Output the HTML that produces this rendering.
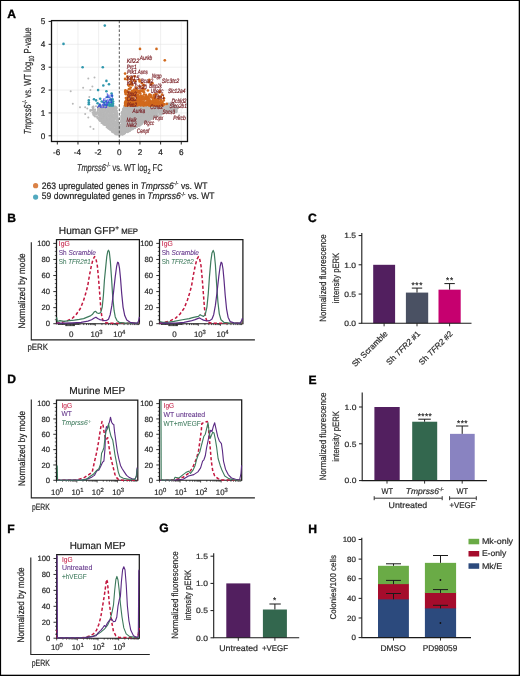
<!DOCTYPE html><html><head><meta charset="utf-8"><style>html,body{margin:0;padding:0;background:#fff;overflow:hidden;}svg{display:block;font-family:"Liberation Sans", sans-serif;will-change:transform;text-rendering:geometricPrecision;}</style></head><body><svg width="520" height="676" viewBox="0 0 520 676" font-family='"Liberation Sans", sans-serif'>
<rect x="0" y="0" width="520" height="676" fill="#fff"/>
<text x="7.20" y="17.60" font-size="12.1" font-weight="bold" fill="#000" stroke="#000" stroke-width="0.35">A</text>
<line x1="57.32" y1="20.60" x2="57.32" y2="141.50" stroke="#e4e4e4" stroke-width="0.6" />
<line x1="77.98" y1="20.60" x2="77.98" y2="141.50" stroke="#e4e4e4" stroke-width="0.6" />
<line x1="98.64" y1="20.60" x2="98.64" y2="141.50" stroke="#e4e4e4" stroke-width="0.6" />
<line x1="139.96" y1="20.60" x2="139.96" y2="141.50" stroke="#e4e4e4" stroke-width="0.6" />
<line x1="160.62" y1="20.60" x2="160.62" y2="141.50" stroke="#e4e4e4" stroke-width="0.6" />
<line x1="181.28" y1="20.60" x2="181.28" y2="141.50" stroke="#e4e4e4" stroke-width="0.6" />
<line x1="51.50" y1="135.80" x2="187.50" y2="135.80" stroke="#e4e4e4" stroke-width="0.6" />
<line x1="51.50" y1="112.93" x2="187.50" y2="112.93" stroke="#e4e4e4" stroke-width="0.6" />
<line x1="51.50" y1="90.06" x2="187.50" y2="90.06" stroke="#e4e4e4" stroke-width="0.6" />
<line x1="51.50" y1="67.19" x2="187.50" y2="67.19" stroke="#e4e4e4" stroke-width="0.6" />
<line x1="51.50" y1="44.32" x2="187.50" y2="44.32" stroke="#e4e4e4" stroke-width="0.6" />
<line x1="51.50" y1="21.45" x2="187.50" y2="21.45" stroke="#e4e4e4" stroke-width="0.6" />
<g fill="#b8b8b8"><circle cx="122.7" cy="118.4" r="0.95"/><circle cx="121.5" cy="120.9" r="0.95"/><circle cx="123.4" cy="132.7" r="0.95"/><circle cx="144.3" cy="107.4" r="0.95"/><circle cx="126.6" cy="128.1" r="0.95"/><circle cx="127.8" cy="131.8" r="0.95"/><circle cx="137.5" cy="107.8" r="0.95"/><circle cx="129.9" cy="115.8" r="0.95"/><circle cx="122.8" cy="128.7" r="0.95"/><circle cx="137.8" cy="115.7" r="0.95"/><circle cx="166.1" cy="111.8" r="0.95"/><circle cx="133.7" cy="116.1" r="0.95"/><circle cx="143.9" cy="109.8" r="0.95"/><circle cx="128.2" cy="119.0" r="0.95"/><circle cx="121.6" cy="112.9" r="0.95"/><circle cx="168.8" cy="103.4" r="0.95"/><circle cx="147.2" cy="113.0" r="0.95"/><circle cx="122.9" cy="111.7" r="0.95"/><circle cx="142.0" cy="112.9" r="0.95"/><circle cx="122.8" cy="109.4" r="0.95"/><circle cx="126.9" cy="127.3" r="0.95"/><circle cx="124.0" cy="120.4" r="0.95"/><circle cx="167.5" cy="106.2" r="0.95"/><circle cx="135.7" cy="121.6" r="0.95"/><circle cx="129.7" cy="127.8" r="0.95"/><circle cx="133.0" cy="119.2" r="0.95"/><circle cx="141.0" cy="116.4" r="0.95"/><circle cx="175.4" cy="112.1" r="0.95"/><circle cx="149.7" cy="114.6" r="0.95"/><circle cx="172.3" cy="109.0" r="0.95"/><circle cx="170.8" cy="108.4" r="0.95"/><circle cx="142.4" cy="122.1" r="0.95"/><circle cx="125.4" cy="114.0" r="0.95"/><circle cx="123.0" cy="133.5" r="0.95"/><circle cx="125.3" cy="123.3" r="0.95"/><circle cx="134.2" cy="123.9" r="0.95"/><circle cx="146.7" cy="119.2" r="0.95"/><circle cx="124.4" cy="132.3" r="0.95"/><circle cx="170.1" cy="111.9" r="0.95"/><circle cx="134.7" cy="123.2" r="0.95"/><circle cx="129.1" cy="109.3" r="0.95"/><circle cx="150.7" cy="109.1" r="0.95"/><circle cx="169.5" cy="108.1" r="0.95"/><circle cx="167.5" cy="110.4" r="0.95"/><circle cx="132.7" cy="118.0" r="0.95"/><circle cx="120.9" cy="126.2" r="0.95"/><circle cx="134.6" cy="112.0" r="0.95"/><circle cx="132.3" cy="128.0" r="0.95"/><circle cx="130.9" cy="128.8" r="0.95"/><circle cx="157.7" cy="108.4" r="0.95"/><circle cx="124.3" cy="113.1" r="0.95"/><circle cx="172.9" cy="109.0" r="0.95"/><circle cx="129.8" cy="108.7" r="0.95"/><circle cx="138.9" cy="108.3" r="0.95"/><circle cx="126.8" cy="130.6" r="0.95"/><circle cx="172.6" cy="108.1" r="0.95"/><circle cx="127.9" cy="107.4" r="0.95"/><circle cx="139.9" cy="117.0" r="0.95"/><circle cx="134.1" cy="125.7" r="0.95"/><circle cx="133.5" cy="115.7" r="0.95"/><circle cx="134.6" cy="121.4" r="0.95"/><circle cx="140.1" cy="120.1" r="0.95"/><circle cx="148.8" cy="117.6" r="0.95"/><circle cx="129.4" cy="119.6" r="0.95"/><circle cx="138.5" cy="118.0" r="0.95"/><circle cx="152.0" cy="108.9" r="0.95"/><circle cx="125.5" cy="116.6" r="0.95"/><circle cx="133.9" cy="126.3" r="0.95"/><circle cx="152.4" cy="109.7" r="0.95"/><circle cx="149.5" cy="112.0" r="0.95"/><circle cx="145.9" cy="117.5" r="0.95"/><circle cx="126.5" cy="120.6" r="0.95"/><circle cx="123.6" cy="127.5" r="0.95"/><circle cx="123.6" cy="112.8" r="0.95"/><circle cx="128.4" cy="111.2" r="0.95"/><circle cx="142.7" cy="119.1" r="0.95"/><circle cx="177.6" cy="107.2" r="0.95"/><circle cx="128.8" cy="121.0" r="0.95"/><circle cx="130.8" cy="124.9" r="0.95"/><circle cx="125.5" cy="126.7" r="0.95"/><circle cx="152.9" cy="111.8" r="0.95"/><circle cx="156.7" cy="108.3" r="0.95"/><circle cx="124.2" cy="106.4" r="0.95"/><circle cx="125.7" cy="130.3" r="0.95"/><circle cx="122.3" cy="128.9" r="0.95"/><circle cx="137.7" cy="125.3" r="0.95"/><circle cx="130.5" cy="119.5" r="0.95"/><circle cx="148.4" cy="107.2" r="0.95"/><circle cx="142.4" cy="118.4" r="0.95"/><circle cx="139.5" cy="107.2" r="0.95"/><circle cx="160.9" cy="114.0" r="0.95"/><circle cx="122.5" cy="131.3" r="0.95"/><circle cx="123.5" cy="110.4" r="0.95"/><circle cx="124.3" cy="106.9" r="0.95"/><circle cx="136.6" cy="120.0" r="0.95"/><circle cx="128.6" cy="120.5" r="0.95"/><circle cx="137.5" cy="123.6" r="0.95"/><circle cx="147.2" cy="118.6" r="0.95"/><circle cx="131.1" cy="118.5" r="0.95"/><circle cx="124.6" cy="122.1" r="0.95"/><circle cx="153.8" cy="117.6" r="0.95"/><circle cx="163.5" cy="113.2" r="0.95"/><circle cx="161.9" cy="113.7" r="0.95"/><circle cx="162.5" cy="107.9" r="0.95"/><circle cx="127.5" cy="117.8" r="0.95"/><circle cx="149.0" cy="107.2" r="0.95"/><circle cx="166.7" cy="107.5" r="0.95"/><circle cx="159.5" cy="112.0" r="0.95"/><circle cx="127.1" cy="123.4" r="0.95"/><circle cx="125.5" cy="107.1" r="0.95"/><circle cx="152.2" cy="114.3" r="0.95"/><circle cx="156.2" cy="112.4" r="0.95"/><circle cx="166.3" cy="110.1" r="0.95"/><circle cx="148.9" cy="117.4" r="0.95"/><circle cx="123.7" cy="126.7" r="0.95"/><circle cx="147.5" cy="112.3" r="0.95"/><circle cx="128.0" cy="127.1" r="0.95"/><circle cx="122.9" cy="126.6" r="0.95"/><circle cx="158.9" cy="112.1" r="0.95"/><circle cx="149.7" cy="119.9" r="0.95"/><circle cx="131.7" cy="115.9" r="0.95"/><circle cx="127.6" cy="117.8" r="0.95"/><circle cx="171.5" cy="111.7" r="0.95"/><circle cx="127.6" cy="124.0" r="0.95"/><circle cx="137.9" cy="107.0" r="0.95"/><circle cx="173.8" cy="111.3" r="0.95"/><circle cx="141.2" cy="122.3" r="0.95"/><circle cx="140.5" cy="121.1" r="0.95"/><circle cx="125.3" cy="107.2" r="0.95"/><circle cx="134.0" cy="126.7" r="0.95"/><circle cx="171.4" cy="107.9" r="0.95"/><circle cx="136.8" cy="110.4" r="0.95"/><circle cx="129.2" cy="130.3" r="0.95"/><circle cx="133.4" cy="126.9" r="0.95"/><circle cx="143.7" cy="117.8" r="0.95"/><circle cx="141.5" cy="124.2" r="0.95"/><circle cx="123.0" cy="126.3" r="0.95"/><circle cx="148.9" cy="114.2" r="0.95"/><circle cx="135.3" cy="127.3" r="0.95"/><circle cx="142.8" cy="120.5" r="0.95"/><circle cx="175.5" cy="106.7" r="0.95"/><circle cx="167.9" cy="106.5" r="0.95"/><circle cx="125.7" cy="130.5" r="0.95"/><circle cx="150.1" cy="112.4" r="0.95"/><circle cx="174.7" cy="111.0" r="0.95"/><circle cx="157.4" cy="109.6" r="0.95"/><circle cx="146.2" cy="116.9" r="0.95"/><circle cx="126.8" cy="127.2" r="0.95"/><circle cx="156.8" cy="111.8" r="0.95"/><circle cx="150.2" cy="115.8" r="0.95"/><circle cx="137.1" cy="120.0" r="0.95"/><circle cx="133.1" cy="127.3" r="0.95"/><circle cx="175.9" cy="111.6" r="0.95"/><circle cx="148.6" cy="112.7" r="0.95"/><circle cx="139.2" cy="121.4" r="0.95"/><circle cx="166.2" cy="110.4" r="0.95"/><circle cx="132.3" cy="109.7" r="0.95"/><circle cx="132.4" cy="121.5" r="0.95"/><circle cx="127.9" cy="122.3" r="0.95"/><circle cx="122.8" cy="122.3" r="0.95"/><circle cx="172.2" cy="105.5" r="0.95"/><circle cx="135.8" cy="123.7" r="0.95"/><circle cx="140.3" cy="107.6" r="0.95"/><circle cx="122.2" cy="119.6" r="0.95"/><circle cx="130.7" cy="123.3" r="0.95"/><circle cx="143.5" cy="108.0" r="0.95"/><circle cx="121.4" cy="133.7" r="0.95"/><circle cx="134.7" cy="111.2" r="0.95"/><circle cx="133.1" cy="119.5" r="0.95"/><circle cx="144.6" cy="118.9" r="0.95"/><circle cx="166.6" cy="110.5" r="0.95"/><circle cx="167.7" cy="109.3" r="0.95"/><circle cx="138.1" cy="123.4" r="0.95"/><circle cx="130.9" cy="110.0" r="0.95"/><circle cx="121.3" cy="116.8" r="0.95"/><circle cx="125.0" cy="118.7" r="0.95"/><circle cx="133.1" cy="121.5" r="0.95"/><circle cx="155.8" cy="112.7" r="0.95"/><circle cx="163.3" cy="106.7" r="0.95"/><circle cx="133.9" cy="127.4" r="0.95"/><circle cx="147.3" cy="107.7" r="0.95"/><circle cx="168.8" cy="104.4" r="0.95"/><circle cx="121.7" cy="125.7" r="0.95"/><circle cx="126.3" cy="129.3" r="0.95"/><circle cx="134.6" cy="109.1" r="0.95"/><circle cx="154.4" cy="114.5" r="0.95"/><circle cx="132.1" cy="123.2" r="0.95"/><circle cx="127.6" cy="128.8" r="0.95"/><circle cx="134.3" cy="115.2" r="0.95"/><circle cx="123.0" cy="132.3" r="0.95"/><circle cx="142.6" cy="116.9" r="0.95"/><circle cx="128.9" cy="111.9" r="0.95"/><circle cx="137.7" cy="116.4" r="0.95"/><circle cx="140.3" cy="121.5" r="0.95"/><circle cx="144.3" cy="107.7" r="0.95"/><circle cx="124.5" cy="114.5" r="0.95"/><circle cx="141.1" cy="118.5" r="0.95"/><circle cx="127.9" cy="126.1" r="0.95"/><circle cx="125.7" cy="119.0" r="0.95"/><circle cx="143.1" cy="106.8" r="0.95"/><circle cx="132.1" cy="122.1" r="0.95"/><circle cx="126.5" cy="127.3" r="0.95"/><circle cx="121.7" cy="116.5" r="0.95"/><circle cx="154.6" cy="116.9" r="0.95"/><circle cx="144.0" cy="115.8" r="0.95"/><circle cx="144.4" cy="113.2" r="0.95"/><circle cx="145.6" cy="120.8" r="0.95"/><circle cx="164.3" cy="109.0" r="0.95"/><circle cx="126.9" cy="121.0" r="0.95"/><circle cx="124.7" cy="120.6" r="0.95"/><circle cx="162.5" cy="109.1" r="0.95"/><circle cx="162.4" cy="107.8" r="0.95"/><circle cx="123.2" cy="123.8" r="0.95"/><circle cx="131.6" cy="126.8" r="0.95"/><circle cx="121.5" cy="129.6" r="0.95"/><circle cx="129.2" cy="108.9" r="0.95"/><circle cx="126.1" cy="117.6" r="0.95"/><circle cx="140.5" cy="109.6" r="0.95"/><circle cx="153.8" cy="113.0" r="0.95"/><circle cx="121.3" cy="130.7" r="0.95"/><circle cx="127.1" cy="128.0" r="0.95"/><circle cx="125.6" cy="123.5" r="0.95"/><circle cx="132.5" cy="115.8" r="0.95"/><circle cx="124.9" cy="113.9" r="0.95"/><circle cx="170.6" cy="109.0" r="0.95"/><circle cx="174.5" cy="110.6" r="0.95"/><circle cx="121.9" cy="117.6" r="0.95"/><circle cx="131.0" cy="114.9" r="0.95"/><circle cx="149.1" cy="113.8" r="0.95"/><circle cx="137.5" cy="125.5" r="0.95"/><circle cx="165.4" cy="111.3" r="0.95"/><circle cx="139.1" cy="110.1" r="0.95"/><circle cx="160.2" cy="106.8" r="0.95"/><circle cx="134.9" cy="113.8" r="0.95"/><circle cx="134.6" cy="127.7" r="0.95"/><circle cx="156.4" cy="112.0" r="0.95"/><circle cx="146.9" cy="107.0" r="0.95"/><circle cx="160.4" cy="106.4" r="0.95"/><circle cx="145.0" cy="110.9" r="0.95"/><circle cx="131.8" cy="114.4" r="0.95"/><circle cx="121.0" cy="134.4" r="0.95"/><circle cx="160.1" cy="114.1" r="0.95"/><circle cx="160.3" cy="110.5" r="0.95"/><circle cx="123.2" cy="115.5" r="0.95"/><circle cx="140.7" cy="107.8" r="0.95"/><circle cx="167.6" cy="105.2" r="0.95"/><circle cx="173.1" cy="103.4" r="0.95"/><circle cx="125.6" cy="128.7" r="0.95"/><circle cx="169.2" cy="107.9" r="0.95"/><circle cx="156.6" cy="107.5" r="0.95"/><circle cx="125.2" cy="132.4" r="0.95"/><circle cx="138.1" cy="121.3" r="0.95"/><circle cx="120.5" cy="127.0" r="0.95"/><circle cx="135.9" cy="111.2" r="0.95"/><circle cx="121.1" cy="121.6" r="0.95"/><circle cx="145.0" cy="109.3" r="0.95"/><circle cx="139.7" cy="111.6" r="0.95"/><circle cx="148.2" cy="108.5" r="0.95"/><circle cx="130.2" cy="118.8" r="0.95"/><circle cx="139.7" cy="107.3" r="0.95"/><circle cx="125.8" cy="114.0" r="0.95"/><circle cx="124.1" cy="108.8" r="0.95"/><circle cx="160.3" cy="108.8" r="0.95"/><circle cx="142.9" cy="122.3" r="0.95"/><circle cx="131.4" cy="126.8" r="0.95"/><circle cx="133.1" cy="120.0" r="0.95"/><circle cx="150.6" cy="109.9" r="0.95"/><circle cx="139.8" cy="124.6" r="0.95"/><circle cx="128.4" cy="106.9" r="0.95"/><circle cx="158.3" cy="110.3" r="0.95"/><circle cx="129.3" cy="120.7" r="0.95"/><circle cx="126.7" cy="120.0" r="0.95"/><circle cx="130.6" cy="125.5" r="0.95"/><circle cx="160.7" cy="106.9" r="0.95"/><circle cx="128.4" cy="130.4" r="0.95"/><circle cx="133.9" cy="124.6" r="0.95"/><circle cx="176.7" cy="110.8" r="0.95"/><circle cx="125.3" cy="122.6" r="0.95"/><circle cx="177.2" cy="108.5" r="0.95"/><circle cx="130.9" cy="113.9" r="0.95"/><circle cx="125.6" cy="128.7" r="0.95"/><circle cx="142.8" cy="108.7" r="0.95"/><circle cx="127.7" cy="115.1" r="0.95"/><circle cx="143.1" cy="110.4" r="0.95"/><circle cx="153.1" cy="110.1" r="0.95"/><circle cx="164.9" cy="111.8" r="0.95"/><circle cx="169.5" cy="112.5" r="0.95"/><circle cx="137.7" cy="114.2" r="0.95"/><circle cx="125.1" cy="121.4" r="0.95"/><circle cx="165.4" cy="111.3" r="0.95"/><circle cx="144.2" cy="120.2" r="0.95"/><circle cx="130.1" cy="113.3" r="0.95"/><circle cx="121.5" cy="117.2" r="0.95"/><circle cx="128.8" cy="109.0" r="0.95"/><circle cx="125.3" cy="116.1" r="0.95"/><circle cx="151.2" cy="111.2" r="0.95"/><circle cx="149.5" cy="113.9" r="0.95"/><circle cx="131.7" cy="112.3" r="0.95"/><circle cx="142.4" cy="109.6" r="0.95"/><circle cx="135.5" cy="122.1" r="0.95"/><circle cx="144.1" cy="111.8" r="0.95"/><circle cx="132.5" cy="110.4" r="0.95"/><circle cx="132.2" cy="108.3" r="0.95"/><circle cx="126.9" cy="109.2" r="0.95"/><circle cx="146.9" cy="116.5" r="0.95"/><circle cx="140.1" cy="113.9" r="0.95"/><circle cx="167.5" cy="107.8" r="0.95"/><circle cx="137.1" cy="119.3" r="0.95"/><circle cx="144.5" cy="113.9" r="0.95"/><circle cx="174.0" cy="106.5" r="0.95"/><circle cx="172.6" cy="108.9" r="0.95"/><circle cx="127.6" cy="107.3" r="0.95"/><circle cx="125.3" cy="130.9" r="0.95"/><circle cx="133.1" cy="109.2" r="0.95"/><circle cx="172.5" cy="108.6" r="0.95"/><circle cx="155.1" cy="109.0" r="0.95"/><circle cx="165.7" cy="107.0" r="0.95"/><circle cx="130.9" cy="112.0" r="0.95"/><circle cx="150.6" cy="110.3" r="0.95"/><circle cx="148.2" cy="118.7" r="0.95"/><circle cx="151.1" cy="106.2" r="0.95"/><circle cx="146.9" cy="116.5" r="0.95"/><circle cx="158.5" cy="107.0" r="0.95"/><circle cx="141.4" cy="121.4" r="0.95"/><circle cx="156.8" cy="114.0" r="0.95"/><circle cx="149.4" cy="119.2" r="0.95"/><circle cx="161.6" cy="114.3" r="0.95"/><circle cx="139.2" cy="106.2" r="0.95"/><circle cx="140.9" cy="119.5" r="0.95"/><circle cx="150.2" cy="109.4" r="0.95"/><circle cx="131.7" cy="120.9" r="0.95"/><circle cx="144.2" cy="116.8" r="0.95"/><circle cx="157.8" cy="108.6" r="0.95"/><circle cx="138.8" cy="124.9" r="0.95"/><circle cx="136.9" cy="115.7" r="0.95"/><circle cx="156.7" cy="108.9" r="0.95"/><circle cx="122.2" cy="125.5" r="0.95"/><circle cx="158.0" cy="108.7" r="0.95"/><circle cx="155.6" cy="114.3" r="0.95"/><circle cx="167.7" cy="108.8" r="0.95"/><circle cx="137.1" cy="121.3" r="0.95"/><circle cx="138.1" cy="121.0" r="0.95"/><circle cx="122.5" cy="116.3" r="0.95"/><circle cx="121.6" cy="131.7" r="0.95"/><circle cx="161.3" cy="106.5" r="0.95"/><circle cx="156.3" cy="111.5" r="0.95"/><circle cx="137.6" cy="110.8" r="0.95"/><circle cx="129.1" cy="106.3" r="0.95"/><circle cx="140.9" cy="116.1" r="0.95"/><circle cx="145.1" cy="112.6" r="0.95"/><circle cx="127.8" cy="108.4" r="0.95"/><circle cx="140.7" cy="113.7" r="0.95"/><circle cx="142.0" cy="108.8" r="0.95"/><circle cx="174.9" cy="108.9" r="0.95"/><circle cx="160.7" cy="107.4" r="0.95"/><circle cx="138.9" cy="115.0" r="0.95"/><circle cx="176.9" cy="107.3" r="0.95"/><circle cx="141.5" cy="112.3" r="0.95"/><circle cx="144.2" cy="115.7" r="0.95"/><circle cx="167.3" cy="105.4" r="0.95"/><circle cx="167.1" cy="106.1" r="0.95"/><circle cx="169.4" cy="108.1" r="0.95"/><circle cx="151.9" cy="108.4" r="0.95"/><circle cx="131.1" cy="110.1" r="0.95"/><circle cx="155.0" cy="112.6" r="0.95"/><circle cx="134.3" cy="110.0" r="0.95"/><circle cx="124.5" cy="108.1" r="0.95"/><circle cx="147.4" cy="115.6" r="0.95"/><circle cx="130.4" cy="129.2" r="0.95"/><circle cx="129.9" cy="111.7" r="0.95"/><circle cx="140.7" cy="116.4" r="0.95"/><circle cx="143.0" cy="118.1" r="0.95"/><circle cx="125.5" cy="114.1" r="0.95"/><circle cx="175.0" cy="109.5" r="0.95"/><circle cx="131.1" cy="129.6" r="0.95"/><circle cx="134.4" cy="116.4" r="0.95"/><circle cx="134.4" cy="123.7" r="0.95"/><circle cx="172.5" cy="104.8" r="0.95"/><circle cx="165.6" cy="111.5" r="0.95"/><circle cx="122.6" cy="130.8" r="0.95"/><circle cx="154.1" cy="109.8" r="0.95"/><circle cx="125.5" cy="124.7" r="0.95"/><circle cx="170.3" cy="105.3" r="0.95"/><circle cx="127.5" cy="120.5" r="0.95"/><circle cx="135.0" cy="121.7" r="0.95"/><circle cx="128.5" cy="126.5" r="0.95"/><circle cx="129.2" cy="119.0" r="0.95"/><circle cx="125.0" cy="125.9" r="0.95"/><circle cx="130.2" cy="120.9" r="0.95"/><circle cx="129.9" cy="109.4" r="0.95"/><circle cx="124.0" cy="132.8" r="0.95"/><circle cx="155.4" cy="111.5" r="0.95"/><circle cx="168.9" cy="106.1" r="0.95"/><circle cx="130.3" cy="107.3" r="0.95"/><circle cx="141.2" cy="115.4" r="0.95"/><circle cx="145.5" cy="118.1" r="0.95"/><circle cx="126.4" cy="111.3" r="0.95"/><circle cx="167.4" cy="106.1" r="0.95"/><circle cx="138.2" cy="111.4" r="0.95"/><circle cx="141.8" cy="110.0" r="0.95"/><circle cx="149.5" cy="117.6" r="0.95"/><circle cx="134.0" cy="107.8" r="0.95"/><circle cx="121.1" cy="132.5" r="0.95"/><circle cx="153.2" cy="117.9" r="0.95"/><circle cx="170.5" cy="111.2" r="0.95"/><circle cx="122.0" cy="131.6" r="0.95"/><circle cx="148.4" cy="118.6" r="0.95"/><circle cx="154.1" cy="106.3" r="0.95"/><circle cx="128.0" cy="116.1" r="0.95"/><circle cx="167.9" cy="103.6" r="0.95"/><circle cx="142.2" cy="121.4" r="0.95"/><circle cx="133.5" cy="124.3" r="0.95"/><circle cx="167.3" cy="106.7" r="0.95"/><circle cx="122.5" cy="118.1" r="0.95"/><circle cx="134.0" cy="121.3" r="0.95"/><circle cx="144.8" cy="118.5" r="0.95"/><circle cx="120.5" cy="131.0" r="0.95"/><circle cx="176.4" cy="109.2" r="0.95"/><circle cx="167.0" cy="105.5" r="0.95"/><circle cx="137.3" cy="113.6" r="0.95"/><circle cx="126.4" cy="115.4" r="0.95"/><circle cx="135.1" cy="119.8" r="0.95"/><circle cx="126.6" cy="131.3" r="0.95"/><circle cx="136.6" cy="121.9" r="0.95"/><circle cx="124.5" cy="117.1" r="0.95"/><circle cx="152.9" cy="113.5" r="0.95"/><circle cx="131.1" cy="111.4" r="0.95"/><circle cx="146.4" cy="117.0" r="0.95"/><circle cx="132.3" cy="118.2" r="0.95"/><circle cx="141.9" cy="115.7" r="0.95"/><circle cx="152.1" cy="118.9" r="0.95"/><circle cx="136.7" cy="109.3" r="0.95"/><circle cx="123.0" cy="122.5" r="0.95"/><circle cx="145.2" cy="110.6" r="0.95"/><circle cx="125.7" cy="128.1" r="0.95"/><circle cx="175.8" cy="110.5" r="0.95"/><circle cx="128.4" cy="124.2" r="0.95"/><circle cx="140.1" cy="112.6" r="0.95"/><circle cx="155.6" cy="106.6" r="0.95"/><circle cx="162.8" cy="110.3" r="0.95"/><circle cx="165.5" cy="111.5" r="0.95"/><circle cx="145.9" cy="120.1" r="0.95"/><circle cx="142.3" cy="116.7" r="0.95"/><circle cx="165.6" cy="106.7" r="0.95"/><circle cx="148.7" cy="120.6" r="0.95"/><circle cx="130.1" cy="125.4" r="0.95"/><circle cx="127.8" cy="116.1" r="0.95"/><circle cx="169.0" cy="107.0" r="0.95"/><circle cx="119.9" cy="134.2" r="0.95"/><circle cx="173.5" cy="109.3" r="0.95"/><circle cx="149.8" cy="118.1" r="0.95"/><circle cx="140.4" cy="115.4" r="0.95"/><circle cx="125.1" cy="123.0" r="0.95"/><circle cx="142.9" cy="116.5" r="0.95"/><circle cx="145.2" cy="114.4" r="0.95"/><circle cx="150.5" cy="107.8" r="0.95"/><circle cx="129.4" cy="124.9" r="0.95"/><circle cx="176.9" cy="107.5" r="0.95"/><circle cx="172.0" cy="112.1" r="0.95"/><circle cx="128.5" cy="125.9" r="0.95"/><circle cx="149.4" cy="118.5" r="0.95"/><circle cx="130.4" cy="129.5" r="0.95"/><circle cx="156.4" cy="115.1" r="0.95"/><circle cx="143.5" cy="108.8" r="0.95"/><circle cx="137.4" cy="112.1" r="0.95"/><circle cx="148.6" cy="116.8" r="0.95"/><circle cx="135.0" cy="113.6" r="0.95"/><circle cx="126.5" cy="130.4" r="0.95"/><circle cx="125.2" cy="129.9" r="0.95"/><circle cx="150.1" cy="107.6" r="0.95"/><circle cx="155.4" cy="108.1" r="0.95"/><circle cx="129.3" cy="126.7" r="0.95"/><circle cx="145.2" cy="114.5" r="0.95"/><circle cx="174.1" cy="106.5" r="0.95"/><circle cx="133.6" cy="122.4" r="0.95"/><circle cx="147.8" cy="108.6" r="0.95"/><circle cx="126.6" cy="107.5" r="0.95"/><circle cx="130.6" cy="126.1" r="0.95"/><circle cx="128.5" cy="111.6" r="0.95"/><circle cx="124.8" cy="126.5" r="0.95"/><circle cx="145.4" cy="107.1" r="0.95"/><circle cx="140.1" cy="111.0" r="0.95"/><circle cx="149.5" cy="117.2" r="0.95"/><circle cx="135.2" cy="109.3" r="0.95"/><circle cx="142.0" cy="113.2" r="0.95"/><circle cx="129.7" cy="106.6" r="0.95"/><circle cx="138.2" cy="113.1" r="0.95"/><circle cx="125.7" cy="116.5" r="0.95"/><circle cx="140.6" cy="118.6" r="0.95"/><circle cx="126.7" cy="111.2" r="0.95"/><circle cx="135.9" cy="122.0" r="0.95"/><circle cx="172.8" cy="109.2" r="0.95"/><circle cx="171.3" cy="106.3" r="0.95"/><circle cx="127.1" cy="126.3" r="0.95"/><circle cx="143.6" cy="113.2" r="0.95"/><circle cx="162.5" cy="111.4" r="0.95"/><circle cx="121.7" cy="134.4" r="0.95"/><circle cx="128.8" cy="129.0" r="0.95"/><circle cx="137.1" cy="122.7" r="0.95"/><circle cx="121.6" cy="125.1" r="0.95"/><circle cx="144.9" cy="112.3" r="0.95"/><circle cx="168.4" cy="109.2" r="0.95"/><circle cx="122.1" cy="127.4" r="0.95"/><circle cx="125.8" cy="108.6" r="0.95"/><circle cx="163.3" cy="107.4" r="0.95"/><circle cx="174.1" cy="112.1" r="0.95"/><circle cx="162.8" cy="107.3" r="0.95"/><circle cx="122.5" cy="111.8" r="0.95"/><circle cx="144.5" cy="118.2" r="0.95"/><circle cx="160.7" cy="108.2" r="0.95"/><circle cx="134.7" cy="117.1" r="0.95"/><circle cx="122.8" cy="123.5" r="0.95"/><circle cx="160.9" cy="112.8" r="0.95"/><circle cx="133.3" cy="127.5" r="0.95"/><circle cx="127.7" cy="116.5" r="0.95"/><circle cx="138.9" cy="107.8" r="0.95"/><circle cx="151.6" cy="109.7" r="0.95"/><circle cx="129.3" cy="112.9" r="0.95"/><circle cx="164.4" cy="107.3" r="0.95"/><circle cx="126.0" cy="125.9" r="0.95"/><circle cx="122.9" cy="126.2" r="0.95"/><circle cx="130.9" cy="111.7" r="0.95"/><circle cx="138.4" cy="119.7" r="0.95"/><circle cx="124.2" cy="111.2" r="0.95"/><circle cx="125.7" cy="119.0" r="0.95"/><circle cx="130.2" cy="113.9" r="0.95"/><circle cx="169.1" cy="104.0" r="0.95"/><circle cx="129.2" cy="108.9" r="0.95"/><circle cx="168.2" cy="110.3" r="0.95"/><circle cx="141.0" cy="116.9" r="0.95"/><circle cx="141.0" cy="107.3" r="0.95"/><circle cx="152.7" cy="114.2" r="0.95"/><circle cx="167.6" cy="111.6" r="0.95"/><circle cx="172.6" cy="103.4" r="0.95"/><circle cx="148.4" cy="118.7" r="0.95"/><circle cx="128.6" cy="125.5" r="0.95"/><circle cx="168.8" cy="106.5" r="0.95"/><circle cx="136.0" cy="113.1" r="0.95"/><circle cx="139.2" cy="120.8" r="0.95"/><circle cx="158.5" cy="107.5" r="0.95"/><circle cx="136.7" cy="120.6" r="0.95"/><circle cx="138.4" cy="120.0" r="0.95"/><circle cx="159.1" cy="114.9" r="0.95"/><circle cx="136.8" cy="116.2" r="0.95"/><circle cx="120.9" cy="129.3" r="0.95"/><circle cx="124.3" cy="113.1" r="0.95"/><circle cx="141.2" cy="115.9" r="0.95"/><circle cx="143.8" cy="117.6" r="0.95"/><circle cx="126.0" cy="129.6" r="0.95"/><circle cx="125.9" cy="106.2" r="0.95"/><circle cx="148.1" cy="116.8" r="0.95"/><circle cx="132.6" cy="116.2" r="0.95"/><circle cx="126.0" cy="118.2" r="0.95"/><circle cx="145.2" cy="106.2" r="0.95"/><circle cx="151.7" cy="111.3" r="0.95"/><circle cx="125.3" cy="107.3" r="0.95"/><circle cx="133.2" cy="123.0" r="0.95"/><circle cx="131.8" cy="125.5" r="0.95"/><circle cx="173.3" cy="105.9" r="0.95"/><circle cx="129.2" cy="110.2" r="0.95"/><circle cx="139.4" cy="109.6" r="0.95"/><circle cx="159.4" cy="107.5" r="0.95"/><circle cx="126.5" cy="123.0" r="0.95"/><circle cx="151.6" cy="108.3" r="0.95"/><circle cx="130.7" cy="120.5" r="0.95"/><circle cx="125.8" cy="108.3" r="0.95"/><circle cx="130.2" cy="116.8" r="0.95"/><circle cx="136.4" cy="112.2" r="0.95"/><circle cx="159.9" cy="108.1" r="0.95"/><circle cx="130.0" cy="107.7" r="0.95"/><circle cx="123.8" cy="124.5" r="0.95"/><circle cx="129.3" cy="123.4" r="0.95"/><circle cx="146.8" cy="116.0" r="0.95"/><circle cx="142.1" cy="123.7" r="0.95"/><circle cx="122.0" cy="130.8" r="0.95"/><circle cx="135.4" cy="118.6" r="0.95"/><circle cx="134.7" cy="116.3" r="0.95"/><circle cx="152.3" cy="109.4" r="0.95"/><circle cx="170.7" cy="109.2" r="0.95"/><circle cx="156.6" cy="114.0" r="0.95"/><circle cx="166.1" cy="105.9" r="0.95"/><circle cx="174.6" cy="112.4" r="0.95"/><circle cx="137.2" cy="109.6" r="0.95"/><circle cx="122.9" cy="124.2" r="0.95"/><circle cx="133.6" cy="127.7" r="0.95"/><circle cx="146.0" cy="120.5" r="0.95"/><circle cx="137.1" cy="125.2" r="0.95"/><circle cx="124.0" cy="129.7" r="0.95"/><circle cx="140.3" cy="109.2" r="0.95"/><circle cx="123.3" cy="119.2" r="0.95"/><circle cx="129.0" cy="126.6" r="0.95"/><circle cx="154.8" cy="106.2" r="0.95"/><circle cx="167.0" cy="105.8" r="0.95"/><circle cx="130.4" cy="117.4" r="0.95"/><circle cx="138.5" cy="110.1" r="0.95"/><circle cx="122.7" cy="121.6" r="0.95"/><circle cx="122.0" cy="114.3" r="0.95"/><circle cx="139.0" cy="118.8" r="0.95"/><circle cx="155.5" cy="111.0" r="0.95"/><circle cx="128.5" cy="130.9" r="0.95"/><circle cx="151.0" cy="115.6" r="0.95"/><circle cx="152.0" cy="113.2" r="0.95"/><circle cx="161.2" cy="109.6" r="0.95"/><circle cx="147.3" cy="113.3" r="0.95"/><circle cx="120.9" cy="131.2" r="0.95"/><circle cx="122.8" cy="118.6" r="0.95"/><circle cx="128.1" cy="129.7" r="0.95"/><circle cx="125.6" cy="110.6" r="0.95"/><circle cx="123.2" cy="113.7" r="0.95"/><circle cx="143.0" cy="106.2" r="0.95"/><circle cx="122.8" cy="116.4" r="0.95"/><circle cx="132.5" cy="127.2" r="0.95"/><circle cx="134.7" cy="120.9" r="0.95"/><circle cx="132.9" cy="128.8" r="0.95"/><circle cx="132.1" cy="116.3" r="0.95"/><circle cx="128.5" cy="106.2" r="0.95"/><circle cx="163.6" cy="107.6" r="0.95"/><circle cx="135.9" cy="124.4" r="0.95"/><circle cx="128.8" cy="112.4" r="0.95"/><circle cx="140.5" cy="109.0" r="0.95"/><circle cx="128.2" cy="110.6" r="0.95"/><circle cx="125.0" cy="130.0" r="0.95"/><circle cx="133.1" cy="108.6" r="0.95"/><circle cx="126.4" cy="119.1" r="0.95"/><circle cx="127.3" cy="121.1" r="0.95"/><circle cx="129.8" cy="112.3" r="0.95"/><circle cx="128.0" cy="110.5" r="0.95"/><circle cx="140.1" cy="118.8" r="0.95"/><circle cx="171.3" cy="110.7" r="0.95"/><circle cx="121.8" cy="118.3" r="0.95"/><circle cx="143.3" cy="116.7" r="0.95"/><circle cx="159.8" cy="113.4" r="0.95"/><circle cx="151.3" cy="117.0" r="0.95"/><circle cx="170.8" cy="111.2" r="0.95"/><circle cx="142.1" cy="122.6" r="0.95"/><circle cx="134.3" cy="114.8" r="0.95"/><circle cx="168.9" cy="108.9" r="0.95"/><circle cx="133.1" cy="114.2" r="0.95"/><circle cx="150.3" cy="114.8" r="0.95"/><circle cx="132.4" cy="114.8" r="0.95"/><circle cx="147.2" cy="111.0" r="0.95"/><circle cx="150.0" cy="119.4" r="0.95"/><circle cx="150.1" cy="117.7" r="0.95"/><circle cx="129.4" cy="107.6" r="0.95"/><circle cx="146.4" cy="113.8" r="0.95"/><circle cx="168.0" cy="105.1" r="0.95"/><circle cx="141.7" cy="107.3" r="0.95"/><circle cx="128.4" cy="127.2" r="0.95"/><circle cx="125.4" cy="123.6" r="0.95"/><circle cx="147.5" cy="108.4" r="0.95"/><circle cx="141.1" cy="124.1" r="0.95"/><circle cx="131.1" cy="116.2" r="0.95"/><circle cx="122.7" cy="129.7" r="0.95"/><circle cx="156.8" cy="106.3" r="0.95"/><circle cx="131.2" cy="121.3" r="0.95"/><circle cx="143.3" cy="113.6" r="0.95"/><circle cx="142.0" cy="115.9" r="0.95"/><circle cx="176.5" cy="111.4" r="0.95"/><circle cx="141.2" cy="113.0" r="0.95"/><circle cx="150.3" cy="118.8" r="0.95"/><circle cx="172.4" cy="109.8" r="0.95"/><circle cx="146.5" cy="119.9" r="0.95"/><circle cx="145.2" cy="118.9" r="0.95"/><circle cx="149.4" cy="107.5" r="0.95"/><circle cx="158.8" cy="110.4" r="0.95"/><circle cx="164.6" cy="109.4" r="0.95"/><circle cx="126.3" cy="128.2" r="0.95"/><circle cx="123.8" cy="107.8" r="0.95"/><circle cx="125.3" cy="132.8" r="0.95"/><circle cx="122.5" cy="112.4" r="0.95"/><circle cx="122.5" cy="112.1" r="0.95"/><circle cx="143.9" cy="115.8" r="0.95"/><circle cx="178.1" cy="107.8" r="0.95"/><circle cx="139.0" cy="118.0" r="0.95"/><circle cx="135.5" cy="126.8" r="0.95"/><circle cx="122.3" cy="125.4" r="0.95"/><circle cx="170.3" cy="108.3" r="0.95"/><circle cx="146.6" cy="119.0" r="0.95"/><circle cx="122.3" cy="125.0" r="0.95"/><circle cx="135.4" cy="108.5" r="0.95"/><circle cx="136.5" cy="111.4" r="0.95"/><circle cx="122.7" cy="120.9" r="0.95"/><circle cx="159.0" cy="112.6" r="0.95"/><circle cx="125.2" cy="132.5" r="0.95"/><circle cx="143.7" cy="113.2" r="0.95"/><circle cx="122.6" cy="111.9" r="0.95"/><circle cx="141.7" cy="113.8" r="0.95"/><circle cx="132.5" cy="117.1" r="0.95"/><circle cx="124.8" cy="119.9" r="0.95"/><circle cx="136.4" cy="123.9" r="0.95"/><circle cx="147.8" cy="106.2" r="0.95"/><circle cx="154.5" cy="117.3" r="0.95"/><circle cx="124.5" cy="131.0" r="0.95"/><circle cx="138.9" cy="120.4" r="0.95"/><circle cx="133.9" cy="110.3" r="0.95"/><circle cx="129.8" cy="108.8" r="0.95"/><circle cx="151.8" cy="108.8" r="0.95"/><circle cx="121.3" cy="118.2" r="0.95"/><circle cx="125.0" cy="113.6" r="0.95"/><circle cx="127.1" cy="116.0" r="0.95"/><circle cx="140.1" cy="122.9" r="0.95"/><circle cx="138.8" cy="106.9" r="0.95"/><circle cx="148.5" cy="117.4" r="0.95"/><circle cx="126.2" cy="119.8" r="0.95"/><circle cx="129.0" cy="117.4" r="0.95"/><circle cx="130.9" cy="122.0" r="0.95"/><circle cx="148.1" cy="108.7" r="0.95"/><circle cx="152.9" cy="112.2" r="0.95"/><circle cx="132.8" cy="110.1" r="0.95"/><circle cx="128.3" cy="126.7" r="0.95"/><circle cx="121.1" cy="122.3" r="0.95"/><circle cx="154.4" cy="108.9" r="0.95"/><circle cx="133.8" cy="115.2" r="0.95"/><circle cx="155.7" cy="112.1" r="0.95"/><circle cx="133.7" cy="110.6" r="0.95"/><circle cx="131.0" cy="128.3" r="0.95"/><circle cx="147.5" cy="118.7" r="0.95"/><circle cx="131.0" cy="114.4" r="0.95"/><circle cx="169.1" cy="108.8" r="0.95"/><circle cx="124.7" cy="111.2" r="0.95"/><circle cx="168.1" cy="103.7" r="0.95"/><circle cx="172.6" cy="110.2" r="0.95"/><circle cx="168.3" cy="108.3" r="0.95"/><circle cx="167.9" cy="108.9" r="0.95"/><circle cx="176.3" cy="108.8" r="0.95"/><circle cx="134.1" cy="107.0" r="0.95"/><circle cx="159.7" cy="111.4" r="0.95"/><circle cx="142.4" cy="108.9" r="0.95"/><circle cx="166.0" cy="112.4" r="0.95"/><circle cx="174.7" cy="107.5" r="0.95"/><circle cx="157.7" cy="107.1" r="0.95"/><circle cx="139.3" cy="115.4" r="0.95"/><circle cx="168.5" cy="108.6" r="0.95"/><circle cx="120.3" cy="132.0" r="0.95"/><circle cx="140.1" cy="106.8" r="0.95"/><circle cx="124.5" cy="126.5" r="0.95"/><circle cx="158.2" cy="108.1" r="0.95"/><circle cx="126.4" cy="112.4" r="0.95"/><circle cx="130.1" cy="126.5" r="0.95"/><circle cx="142.5" cy="118.7" r="0.95"/><circle cx="146.1" cy="108.0" r="0.95"/><circle cx="134.1" cy="123.7" r="0.95"/><circle cx="125.2" cy="116.8" r="0.95"/><circle cx="123.8" cy="114.4" r="0.95"/><circle cx="140.6" cy="113.1" r="0.95"/><circle cx="150.0" cy="112.6" r="0.95"/><circle cx="145.7" cy="110.0" r="0.95"/><circle cx="171.8" cy="110.8" r="0.95"/><circle cx="175.4" cy="105.2" r="0.95"/><circle cx="127.8" cy="115.6" r="0.95"/><circle cx="142.4" cy="110.2" r="0.95"/><circle cx="166.7" cy="112.6" r="0.95"/><circle cx="161.1" cy="112.1" r="0.95"/><circle cx="153.2" cy="107.5" r="0.95"/><circle cx="127.5" cy="118.1" r="0.95"/><circle cx="136.8" cy="122.7" r="0.95"/><circle cx="130.3" cy="125.2" r="0.95"/><circle cx="138.2" cy="120.8" r="0.95"/><circle cx="125.7" cy="126.9" r="0.95"/><circle cx="142.5" cy="122.6" r="0.95"/><circle cx="145.8" cy="107.1" r="0.95"/><circle cx="156.8" cy="109.1" r="0.95"/><circle cx="152.2" cy="112.8" r="0.95"/><circle cx="134.9" cy="127.5" r="0.95"/><circle cx="123.4" cy="117.0" r="0.95"/><circle cx="163.7" cy="112.5" r="0.95"/><circle cx="143.6" cy="108.1" r="0.95"/><circle cx="125.9" cy="125.3" r="0.95"/><circle cx="156.6" cy="112.1" r="0.95"/><circle cx="174.7" cy="110.3" r="0.95"/><circle cx="139.4" cy="122.3" r="0.95"/><circle cx="150.6" cy="117.9" r="0.95"/><circle cx="127.2" cy="124.2" r="0.95"/><circle cx="123.2" cy="121.6" r="0.95"/><circle cx="148.9" cy="106.6" r="0.95"/><circle cx="143.1" cy="116.1" r="0.95"/><circle cx="135.4" cy="106.8" r="0.95"/><circle cx="165.7" cy="107.0" r="0.95"/><circle cx="128.2" cy="112.8" r="0.95"/><circle cx="172.2" cy="105.0" r="0.95"/><circle cx="163.0" cy="107.6" r="0.95"/><circle cx="127.0" cy="111.6" r="0.95"/><circle cx="160.7" cy="114.8" r="0.95"/><circle cx="154.8" cy="107.5" r="0.95"/><circle cx="127.5" cy="126.4" r="0.95"/><circle cx="122.8" cy="120.5" r="0.95"/><circle cx="152.0" cy="108.1" r="0.95"/><circle cx="125.8" cy="128.1" r="0.95"/><circle cx="138.8" cy="116.3" r="0.95"/><circle cx="132.1" cy="108.6" r="0.95"/><circle cx="131.6" cy="107.0" r="0.95"/><circle cx="156.4" cy="110.9" r="0.95"/><circle cx="149.5" cy="115.6" r="0.95"/><circle cx="177.9" cy="108.2" r="0.95"/><circle cx="146.0" cy="112.4" r="0.95"/><circle cx="130.7" cy="110.6" r="0.95"/><circle cx="130.9" cy="111.7" r="0.95"/><circle cx="130.9" cy="126.7" r="0.95"/><circle cx="152.3" cy="111.7" r="0.95"/><circle cx="176.6" cy="110.2" r="0.95"/><circle cx="161.8" cy="111.1" r="0.95"/><circle cx="123.0" cy="128.7" r="0.95"/><circle cx="161.8" cy="114.2" r="0.95"/><circle cx="134.8" cy="123.6" r="0.95"/><circle cx="128.9" cy="114.1" r="0.95"/><circle cx="121.9" cy="129.8" r="0.95"/><circle cx="125.3" cy="132.1" r="0.95"/><circle cx="128.4" cy="109.1" r="0.95"/><circle cx="173.0" cy="108.5" r="0.95"/><circle cx="147.3" cy="107.6" r="0.95"/><circle cx="126.9" cy="132.1" r="0.95"/><circle cx="152.5" cy="118.4" r="0.95"/><circle cx="131.6" cy="127.2" r="0.95"/><circle cx="167.1" cy="106.9" r="0.95"/><circle cx="131.9" cy="115.7" r="0.95"/><circle cx="168.2" cy="108.8" r="0.95"/><circle cx="123.5" cy="124.7" r="0.95"/><circle cx="147.8" cy="113.9" r="0.95"/><circle cx="131.4" cy="127.4" r="0.95"/><circle cx="125.4" cy="115.5" r="0.95"/><circle cx="126.7" cy="128.9" r="0.95"/><circle cx="146.2" cy="115.7" r="0.95"/><circle cx="156.8" cy="111.5" r="0.95"/><circle cx="158.9" cy="111.3" r="0.95"/><circle cx="133.4" cy="113.5" r="0.95"/><circle cx="132.8" cy="122.3" r="0.95"/><circle cx="165.7" cy="107.5" r="0.95"/><circle cx="156.6" cy="110.4" r="0.95"/><circle cx="121.6" cy="132.6" r="0.95"/><circle cx="176.8" cy="108.3" r="0.95"/><circle cx="121.5" cy="134.1" r="0.95"/><circle cx="132.2" cy="112.8" r="0.95"/><circle cx="176.6" cy="111.4" r="0.95"/><circle cx="130.3" cy="108.1" r="0.95"/><circle cx="128.9" cy="118.2" r="0.95"/><circle cx="125.5" cy="108.8" r="0.95"/><circle cx="171.7" cy="104.4" r="0.95"/><circle cx="152.0" cy="107.6" r="0.95"/><circle cx="148.9" cy="114.5" r="0.95"/><circle cx="154.3" cy="108.4" r="0.95"/><circle cx="123.9" cy="133.9" r="0.95"/><circle cx="168.2" cy="108.0" r="0.95"/><circle cx="162.3" cy="106.7" r="0.95"/><circle cx="123.7" cy="131.9" r="0.95"/><circle cx="143.3" cy="114.8" r="0.95"/><circle cx="162.4" cy="108.5" r="0.95"/><circle cx="173.1" cy="107.1" r="0.95"/><circle cx="159.4" cy="106.6" r="0.95"/><circle cx="145.3" cy="111.6" r="0.95"/><circle cx="134.2" cy="125.5" r="0.95"/><circle cx="139.8" cy="124.7" r="0.95"/><circle cx="124.9" cy="120.6" r="0.95"/><circle cx="174.2" cy="109.6" r="0.95"/><circle cx="134.0" cy="121.7" r="0.95"/><circle cx="120.5" cy="127.9" r="0.95"/><circle cx="171.5" cy="104.2" r="0.95"/><circle cx="138.7" cy="109.4" r="0.95"/><circle cx="125.5" cy="107.5" r="0.95"/><circle cx="137.8" cy="114.3" r="0.95"/><circle cx="140.9" cy="117.4" r="0.95"/><circle cx="150.6" cy="113.5" r="0.95"/><circle cx="124.6" cy="128.5" r="0.95"/><circle cx="120.1" cy="126.9" r="0.95"/><circle cx="129.7" cy="120.8" r="0.95"/><circle cx="159.7" cy="112.1" r="0.95"/><circle cx="163.2" cy="110.0" r="0.95"/><circle cx="133.9" cy="127.0" r="0.95"/><circle cx="131.6" cy="126.9" r="0.95"/><circle cx="154.1" cy="113.3" r="0.95"/><circle cx="154.5" cy="112.0" r="0.95"/><circle cx="125.9" cy="118.9" r="0.95"/><circle cx="176.4" cy="112.2" r="0.95"/><circle cx="135.4" cy="109.4" r="0.95"/><circle cx="137.2" cy="121.8" r="0.95"/><circle cx="169.6" cy="108.3" r="0.95"/><circle cx="119.9" cy="129.3" r="0.95"/><circle cx="158.1" cy="115.7" r="0.95"/><circle cx="157.7" cy="116.3" r="0.95"/><circle cx="140.7" cy="111.0" r="0.95"/><circle cx="127.4" cy="108.8" r="0.95"/><circle cx="134.1" cy="123.2" r="0.95"/><circle cx="133.9" cy="108.5" r="0.95"/><circle cx="136.1" cy="122.7" r="0.95"/><circle cx="130.7" cy="128.3" r="0.95"/><circle cx="141.9" cy="123.3" r="0.95"/><circle cx="158.4" cy="107.1" r="0.95"/><circle cx="146.4" cy="111.4" r="0.95"/><circle cx="124.8" cy="131.8" r="0.95"/><circle cx="132.9" cy="120.7" r="0.95"/><circle cx="140.6" cy="119.7" r="0.95"/><circle cx="123.5" cy="128.2" r="0.95"/><circle cx="170.5" cy="102.8" r="0.95"/><circle cx="124.2" cy="126.7" r="0.95"/><circle cx="131.4" cy="113.1" r="0.95"/><circle cx="133.1" cy="118.7" r="0.95"/><circle cx="154.9" cy="113.5" r="0.95"/><circle cx="127.8" cy="108.2" r="0.95"/><circle cx="175.0" cy="110.4" r="0.95"/><circle cx="132.7" cy="115.3" r="0.95"/><circle cx="130.6" cy="110.1" r="0.95"/><circle cx="143.0" cy="112.5" r="0.95"/><circle cx="133.0" cy="119.4" r="0.95"/><circle cx="138.2" cy="121.8" r="0.95"/><circle cx="139.5" cy="112.9" r="0.95"/><circle cx="128.8" cy="107.4" r="0.95"/><circle cx="134.5" cy="120.2" r="0.95"/><circle cx="152.4" cy="111.4" r="0.95"/><circle cx="127.4" cy="127.6" r="0.95"/><circle cx="128.1" cy="131.1" r="0.95"/><circle cx="150.0" cy="115.9" r="0.95"/><circle cx="158.3" cy="106.3" r="0.95"/><circle cx="136.4" cy="125.9" r="0.95"/><circle cx="176.2" cy="105.9" r="0.95"/><circle cx="144.0" cy="117.6" r="0.95"/><circle cx="169.3" cy="108.1" r="0.95"/><circle cx="126.2" cy="127.4" r="0.95"/><circle cx="158.1" cy="115.7" r="0.95"/><circle cx="166.5" cy="105.0" r="0.95"/><circle cx="133.2" cy="123.2" r="0.95"/><circle cx="150.1" cy="112.6" r="0.95"/><circle cx="123.6" cy="110.4" r="0.95"/><circle cx="158.9" cy="108.4" r="0.95"/><circle cx="159.2" cy="111.5" r="0.95"/><circle cx="175.7" cy="108.8" r="0.95"/><circle cx="133.0" cy="121.0" r="0.95"/><circle cx="158.4" cy="109.5" r="0.95"/><circle cx="126.8" cy="128.2" r="0.95"/><circle cx="132.0" cy="126.7" r="0.95"/><circle cx="121.4" cy="131.1" r="0.95"/><circle cx="143.2" cy="121.4" r="0.95"/><circle cx="123.9" cy="115.8" r="0.95"/><circle cx="140.2" cy="111.6" r="0.95"/><circle cx="164.4" cy="107.1" r="0.95"/><circle cx="157.1" cy="114.0" r="0.95"/><circle cx="130.9" cy="109.5" r="0.95"/><circle cx="169.3" cy="105.8" r="0.95"/><circle cx="129.5" cy="111.9" r="0.95"/><circle cx="134.9" cy="111.4" r="0.95"/><circle cx="139.0" cy="117.9" r="0.95"/><circle cx="138.2" cy="121.5" r="0.95"/><circle cx="122.5" cy="132.9" r="0.95"/><circle cx="156.0" cy="111.9" r="0.95"/><circle cx="134.8" cy="108.6" r="0.95"/><circle cx="122.3" cy="130.5" r="0.95"/><circle cx="166.2" cy="108.3" r="0.95"/><circle cx="124.8" cy="115.7" r="0.95"/><circle cx="130.6" cy="111.5" r="0.95"/><circle cx="166.6" cy="108.7" r="0.95"/><circle cx="127.4" cy="129.2" r="0.95"/><circle cx="134.5" cy="121.3" r="0.95"/><circle cx="150.7" cy="110.9" r="0.95"/><circle cx="132.3" cy="125.8" r="0.95"/><circle cx="157.0" cy="112.1" r="0.95"/><circle cx="131.3" cy="125.1" r="0.95"/><circle cx="128.6" cy="128.0" r="0.95"/><circle cx="164.7" cy="107.4" r="0.95"/><circle cx="137.9" cy="111.1" r="0.95"/><circle cx="122.6" cy="114.9" r="0.95"/><circle cx="174.2" cy="105.7" r="0.95"/><circle cx="126.3" cy="118.4" r="0.95"/><circle cx="123.4" cy="122.5" r="0.95"/><circle cx="138.0" cy="119.4" r="0.95"/><circle cx="161.2" cy="109.4" r="0.95"/><circle cx="141.2" cy="120.5" r="0.95"/><circle cx="173.9" cy="103.8" r="0.95"/><circle cx="146.1" cy="114.0" r="0.95"/><circle cx="126.9" cy="119.8" r="0.95"/><circle cx="123.3" cy="110.0" r="0.95"/><circle cx="124.3" cy="122.3" r="0.95"/><circle cx="122.3" cy="125.9" r="0.95"/><circle cx="129.0" cy="117.6" r="0.95"/><circle cx="129.5" cy="109.6" r="0.95"/><circle cx="126.6" cy="127.5" r="0.95"/><circle cx="134.6" cy="110.4" r="0.95"/><circle cx="171.8" cy="104.8" r="0.95"/><circle cx="146.7" cy="111.2" r="0.95"/><circle cx="125.6" cy="107.9" r="0.95"/><circle cx="134.3" cy="119.7" r="0.95"/><circle cx="129.5" cy="110.3" r="0.95"/><circle cx="143.9" cy="107.6" r="0.95"/><circle cx="169.3" cy="107.7" r="0.95"/><circle cx="135.0" cy="123.2" r="0.95"/><circle cx="141.4" cy="123.7" r="0.95"/><circle cx="143.5" cy="114.0" r="0.95"/><circle cx="171.5" cy="109.9" r="0.95"/><circle cx="162.2" cy="109.9" r="0.95"/><circle cx="169.0" cy="106.7" r="0.95"/><circle cx="174.5" cy="110.3" r="0.95"/><circle cx="159.2" cy="113.4" r="0.95"/><circle cx="139.3" cy="108.9" r="0.95"/><circle cx="131.9" cy="124.1" r="0.95"/><circle cx="123.5" cy="133.5" r="0.95"/><circle cx="137.5" cy="114.1" r="0.95"/><circle cx="172.3" cy="110.6" r="0.95"/><circle cx="153.9" cy="107.4" r="0.95"/><circle cx="149.8" cy="119.2" r="0.95"/><circle cx="140.6" cy="123.3" r="0.95"/><circle cx="175.7" cy="111.9" r="0.95"/><circle cx="121.4" cy="115.5" r="0.95"/><circle cx="144.8" cy="111.2" r="0.95"/><circle cx="150.1" cy="107.7" r="0.95"/><circle cx="132.4" cy="110.2" r="0.95"/><circle cx="131.2" cy="125.4" r="0.95"/><circle cx="138.7" cy="110.7" r="0.95"/><circle cx="130.3" cy="117.0" r="0.95"/><circle cx="148.8" cy="112.9" r="0.95"/><circle cx="172.3" cy="103.0" r="0.95"/><circle cx="156.5" cy="108.2" r="0.95"/><circle cx="144.3" cy="115.1" r="0.95"/><circle cx="134.6" cy="126.3" r="0.95"/><circle cx="144.0" cy="118.2" r="0.95"/><circle cx="161.5" cy="110.1" r="0.95"/><circle cx="133.3" cy="127.0" r="0.95"/><circle cx="131.2" cy="115.7" r="0.95"/><circle cx="161.7" cy="110.1" r="0.95"/><circle cx="161.2" cy="111.4" r="0.95"/><circle cx="135.3" cy="107.0" r="0.95"/><circle cx="124.4" cy="133.4" r="0.95"/><circle cx="166.2" cy="112.6" r="0.95"/><circle cx="127.7" cy="120.0" r="0.95"/><circle cx="139.1" cy="109.5" r="0.95"/><circle cx="128.8" cy="121.7" r="0.95"/><circle cx="128.8" cy="128.3" r="0.95"/><circle cx="124.3" cy="129.2" r="0.95"/><circle cx="137.9" cy="118.5" r="0.95"/><circle cx="130.1" cy="119.3" r="0.95"/><circle cx="128.3" cy="106.1" r="0.95"/><circle cx="169.3" cy="110.8" r="0.95"/><circle cx="140.2" cy="114.2" r="0.95"/><circle cx="151.9" cy="113.1" r="0.95"/><circle cx="127.9" cy="123.2" r="0.95"/><circle cx="169.4" cy="108.7" r="0.95"/><circle cx="154.0" cy="112.6" r="0.95"/><circle cx="172.1" cy="108.3" r="0.95"/><circle cx="120.9" cy="124.7" r="0.95"/><circle cx="147.5" cy="118.8" r="0.95"/><circle cx="139.9" cy="117.6" r="0.95"/><circle cx="142.1" cy="114.9" r="0.95"/><circle cx="141.1" cy="122.5" r="0.95"/><circle cx="138.9" cy="107.6" r="0.95"/><circle cx="128.7" cy="112.1" r="0.95"/><circle cx="120.6" cy="129.2" r="0.95"/><circle cx="127.9" cy="128.0" r="0.95"/><circle cx="122.7" cy="126.7" r="0.95"/><circle cx="162.5" cy="111.1" r="0.95"/><circle cx="172.9" cy="103.3" r="0.95"/><circle cx="163.3" cy="106.3" r="0.95"/><circle cx="170.7" cy="109.9" r="0.95"/><circle cx="121.5" cy="133.9" r="0.95"/><circle cx="161.0" cy="114.2" r="0.95"/><circle cx="125.9" cy="130.2" r="0.95"/><circle cx="130.0" cy="114.9" r="0.95"/><circle cx="144.9" cy="122.4" r="0.95"/><circle cx="134.2" cy="127.8" r="0.95"/><circle cx="129.9" cy="130.6" r="0.95"/><circle cx="140.0" cy="110.5" r="0.95"/><circle cx="122.8" cy="117.6" r="0.95"/><circle cx="145.2" cy="108.7" r="0.95"/><circle cx="139.1" cy="122.2" r="0.95"/><circle cx="174.8" cy="106.3" r="0.95"/><circle cx="127.7" cy="129.8" r="0.95"/><circle cx="141.9" cy="112.1" r="0.95"/><circle cx="143.7" cy="112.8" r="0.95"/><circle cx="152.9" cy="110.8" r="0.95"/><circle cx="172.5" cy="108.6" r="0.95"/><circle cx="165.7" cy="107.6" r="0.95"/><circle cx="138.0" cy="109.8" r="0.95"/><circle cx="134.7" cy="114.8" r="0.95"/><circle cx="128.6" cy="106.4" r="0.95"/><circle cx="174.1" cy="109.8" r="0.95"/><circle cx="128.1" cy="109.7" r="0.95"/><circle cx="162.3" cy="113.5" r="0.95"/><circle cx="125.0" cy="118.9" r="0.95"/><circle cx="144.4" cy="116.2" r="0.95"/><circle cx="166.9" cy="109.8" r="0.95"/><circle cx="146.2" cy="106.2" r="0.95"/><circle cx="134.0" cy="107.8" r="0.95"/><circle cx="121.3" cy="119.4" r="0.95"/><circle cx="124.4" cy="106.6" r="0.95"/><circle cx="146.7" cy="119.7" r="0.95"/><circle cx="161.6" cy="110.8" r="0.95"/><circle cx="130.2" cy="118.6" r="0.95"/><circle cx="176.5" cy="109.3" r="0.95"/><circle cx="166.7" cy="112.4" r="0.95"/><circle cx="146.6" cy="107.6" r="0.95"/><circle cx="128.8" cy="112.3" r="0.95"/><circle cx="147.0" cy="118.9" r="0.95"/><circle cx="135.1" cy="123.2" r="0.95"/><circle cx="151.9" cy="109.7" r="0.95"/><circle cx="127.6" cy="115.8" r="0.95"/><circle cx="121.0" cy="128.8" r="0.95"/><circle cx="126.6" cy="126.0" r="0.95"/><circle cx="156.4" cy="116.5" r="0.95"/><circle cx="175.1" cy="112.3" r="0.95"/><circle cx="140.5" cy="115.1" r="0.95"/><circle cx="122.2" cy="121.2" r="0.95"/><circle cx="154.0" cy="107.5" r="0.95"/><circle cx="120.1" cy="128.8" r="0.95"/><circle cx="129.9" cy="107.2" r="0.95"/><circle cx="125.8" cy="110.2" r="0.95"/><circle cx="133.2" cy="115.4" r="0.95"/><circle cx="147.1" cy="118.8" r="0.95"/><circle cx="133.0" cy="108.0" r="0.95"/><circle cx="129.0" cy="131.4" r="0.95"/><circle cx="125.3" cy="131.2" r="0.95"/><circle cx="141.8" cy="111.1" r="0.95"/><circle cx="125.4" cy="120.3" r="0.95"/><circle cx="141.3" cy="118.5" r="0.95"/><circle cx="135.1" cy="119.0" r="0.95"/><circle cx="119.9" cy="134.0" r="0.95"/><circle cx="122.8" cy="121.1" r="0.95"/><circle cx="134.1" cy="125.4" r="0.95"/><circle cx="144.9" cy="110.0" r="0.95"/><circle cx="136.6" cy="120.3" r="0.95"/><circle cx="154.6" cy="117.2" r="0.95"/><circle cx="122.4" cy="125.6" r="0.95"/><circle cx="122.7" cy="115.8" r="0.95"/><circle cx="135.5" cy="126.3" r="0.95"/><circle cx="138.9" cy="106.9" r="0.95"/><circle cx="128.6" cy="131.0" r="0.95"/><circle cx="131.0" cy="125.8" r="0.95"/><circle cx="154.1" cy="114.0" r="0.95"/><circle cx="121.0" cy="132.0" r="0.95"/><circle cx="151.7" cy="115.8" r="0.95"/><circle cx="125.3" cy="116.5" r="0.95"/><circle cx="121.5" cy="120.1" r="0.95"/><circle cx="147.7" cy="113.7" r="0.95"/><circle cx="144.9" cy="122.4" r="0.95"/><circle cx="127.8" cy="123.5" r="0.95"/><circle cx="132.1" cy="127.6" r="0.95"/><circle cx="134.6" cy="114.5" r="0.95"/><circle cx="122.0" cy="119.0" r="0.95"/><circle cx="123.1" cy="120.3" r="0.95"/><circle cx="144.9" cy="120.5" r="0.95"/><circle cx="155.0" cy="110.7" r="0.95"/><circle cx="145.5" cy="114.3" r="0.95"/><circle cx="141.6" cy="113.5" r="0.95"/><circle cx="132.6" cy="114.3" r="0.95"/><circle cx="133.3" cy="113.8" r="0.95"/><circle cx="122.8" cy="113.4" r="0.95"/><circle cx="152.4" cy="116.1" r="0.95"/><circle cx="125.2" cy="108.9" r="0.95"/><circle cx="133.8" cy="115.1" r="0.95"/><circle cx="119.4" cy="134.5" r="0.95"/><circle cx="132.8" cy="108.8" r="0.95"/><circle cx="154.0" cy="111.5" r="0.95"/><circle cx="152.4" cy="117.6" r="0.95"/><circle cx="156.3" cy="115.9" r="0.95"/><circle cx="126.8" cy="119.8" r="0.95"/><circle cx="137.8" cy="125.4" r="0.95"/><circle cx="133.6" cy="120.0" r="0.95"/><circle cx="129.9" cy="120.3" r="0.95"/><circle cx="138.6" cy="122.9" r="0.95"/><circle cx="148.7" cy="114.1" r="0.95"/><circle cx="149.2" cy="119.8" r="0.95"/><circle cx="128.8" cy="107.2" r="0.95"/><circle cx="138.8" cy="124.2" r="0.95"/><circle cx="130.4" cy="123.4" r="0.95"/><circle cx="146.4" cy="110.5" r="0.95"/><circle cx="137.7" cy="113.2" r="0.95"/><circle cx="127.4" cy="121.8" r="0.95"/><circle cx="133.0" cy="126.3" r="0.95"/><circle cx="133.0" cy="112.5" r="0.95"/><circle cx="128.2" cy="111.6" r="0.95"/><circle cx="144.3" cy="114.9" r="0.95"/><circle cx="143.6" cy="114.4" r="0.95"/><circle cx="149.7" cy="113.0" r="0.95"/><circle cx="137.9" cy="124.4" r="0.95"/><circle cx="129.6" cy="120.8" r="0.95"/><circle cx="146.5" cy="108.2" r="0.95"/><circle cx="151.7" cy="109.0" r="0.95"/><circle cx="136.1" cy="122.8" r="0.95"/><circle cx="126.3" cy="130.9" r="0.95"/><circle cx="130.0" cy="107.3" r="0.95"/><circle cx="151.9" cy="108.3" r="0.95"/><circle cx="123.9" cy="107.9" r="0.95"/><circle cx="136.1" cy="123.5" r="0.95"/><circle cx="133.5" cy="112.3" r="0.95"/><circle cx="132.0" cy="114.8" r="0.95"/><circle cx="127.0" cy="109.4" r="0.95"/><circle cx="141.7" cy="118.1" r="0.95"/><circle cx="131.7" cy="115.9" r="0.95"/><circle cx="142.3" cy="120.1" r="0.95"/><circle cx="124.0" cy="129.2" r="0.95"/><circle cx="131.2" cy="122.9" r="0.95"/><circle cx="133.2" cy="107.9" r="0.95"/><circle cx="128.5" cy="109.4" r="0.95"/><circle cx="128.6" cy="117.7" r="0.95"/><circle cx="149.7" cy="110.8" r="0.95"/><circle cx="129.6" cy="111.8" r="0.95"/><circle cx="121.4" cy="124.1" r="0.95"/><circle cx="128.0" cy="116.5" r="0.95"/><circle cx="149.0" cy="109.8" r="0.95"/><circle cx="140.3" cy="123.8" r="0.95"/><circle cx="129.2" cy="112.6" r="0.95"/><circle cx="122.8" cy="121.5" r="0.95"/><circle cx="122.9" cy="133.0" r="0.95"/><circle cx="133.4" cy="122.4" r="0.95"/><circle cx="146.1" cy="119.9" r="0.95"/><circle cx="138.8" cy="120.6" r="0.95"/><circle cx="133.5" cy="109.2" r="0.95"/><circle cx="127.3" cy="108.7" r="0.95"/><circle cx="133.0" cy="125.4" r="0.95"/><circle cx="142.8" cy="118.4" r="0.95"/><circle cx="123.7" cy="115.5" r="0.95"/><circle cx="139.6" cy="125.7" r="0.95"/><circle cx="131.9" cy="109.7" r="0.95"/><circle cx="132.2" cy="122.9" r="0.95"/><circle cx="144.6" cy="115.3" r="0.95"/><circle cx="136.4" cy="123.3" r="0.95"/><circle cx="128.2" cy="111.4" r="0.95"/><circle cx="136.8" cy="110.1" r="0.95"/><circle cx="133.6" cy="113.2" r="0.95"/><circle cx="120.4" cy="129.0" r="0.95"/><circle cx="156.0" cy="114.7" r="0.95"/><circle cx="145.1" cy="120.5" r="0.95"/><circle cx="125.9" cy="115.9" r="0.95"/><circle cx="138.8" cy="126.1" r="0.95"/><circle cx="137.8" cy="116.8" r="0.95"/><circle cx="124.5" cy="126.3" r="0.95"/><circle cx="145.2" cy="118.9" r="0.95"/><circle cx="142.9" cy="111.7" r="0.95"/><circle cx="136.2" cy="110.2" r="0.95"/><circle cx="141.0" cy="112.5" r="0.95"/><circle cx="133.2" cy="122.0" r="0.95"/><circle cx="156.4" cy="110.4" r="0.95"/><circle cx="136.1" cy="110.2" r="0.95"/><circle cx="145.6" cy="119.4" r="0.95"/><circle cx="120.3" cy="125.4" r="0.95"/><circle cx="121.8" cy="133.6" r="0.95"/><circle cx="125.4" cy="126.8" r="0.95"/><circle cx="130.0" cy="107.4" r="0.95"/><circle cx="153.9" cy="108.9" r="0.95"/><circle cx="154.7" cy="110.8" r="0.95"/><circle cx="140.4" cy="116.9" r="0.95"/><circle cx="146.0" cy="121.5" r="0.95"/><circle cx="126.8" cy="106.3" r="0.95"/><circle cx="130.0" cy="112.8" r="0.95"/><circle cx="127.9" cy="129.1" r="0.95"/><circle cx="138.8" cy="120.3" r="0.95"/><circle cx="147.8" cy="108.8" r="0.95"/><circle cx="132.9" cy="129.3" r="0.95"/><circle cx="132.6" cy="113.2" r="0.95"/><circle cx="138.7" cy="111.5" r="0.95"/><circle cx="126.9" cy="113.5" r="0.95"/><circle cx="132.8" cy="110.7" r="0.95"/><circle cx="122.9" cy="127.3" r="0.95"/><circle cx="143.6" cy="120.9" r="0.95"/><circle cx="133.7" cy="117.9" r="0.95"/><circle cx="127.6" cy="122.3" r="0.95"/><circle cx="129.0" cy="110.2" r="0.95"/><circle cx="140.4" cy="117.2" r="0.95"/><circle cx="152.3" cy="111.5" r="0.95"/><circle cx="145.2" cy="110.6" r="0.95"/><circle cx="136.0" cy="115.0" r="0.95"/><circle cx="123.1" cy="123.1" r="0.95"/><circle cx="127.8" cy="109.0" r="0.95"/><circle cx="126.3" cy="118.0" r="0.95"/><circle cx="126.6" cy="121.1" r="0.95"/><circle cx="139.9" cy="122.2" r="0.95"/><circle cx="138.6" cy="110.0" r="0.95"/><circle cx="148.6" cy="118.2" r="0.95"/><circle cx="141.2" cy="115.8" r="0.95"/><circle cx="133.5" cy="121.0" r="0.95"/><circle cx="121.8" cy="115.9" r="0.95"/><circle cx="140.3" cy="113.2" r="0.95"/><circle cx="123.2" cy="109.9" r="0.95"/><circle cx="130.8" cy="121.6" r="0.95"/><circle cx="133.5" cy="111.5" r="0.95"/><circle cx="145.9" cy="111.7" r="0.95"/><circle cx="135.0" cy="107.1" r="0.95"/><circle cx="134.3" cy="126.2" r="0.95"/><circle cx="138.9" cy="122.2" r="0.95"/><circle cx="136.0" cy="112.1" r="0.95"/><circle cx="126.1" cy="123.3" r="0.95"/><circle cx="144.6" cy="118.5" r="0.95"/><circle cx="136.9" cy="118.1" r="0.95"/><circle cx="128.7" cy="118.6" r="0.95"/><circle cx="133.4" cy="108.6" r="0.95"/><circle cx="143.3" cy="116.3" r="0.95"/><circle cx="124.3" cy="126.5" r="0.95"/><circle cx="146.5" cy="113.3" r="0.95"/><circle cx="127.1" cy="116.0" r="0.95"/><circle cx="144.4" cy="115.5" r="0.95"/><circle cx="131.7" cy="117.4" r="0.95"/><circle cx="140.2" cy="110.8" r="0.95"/><circle cx="123.7" cy="113.2" r="0.95"/><circle cx="134.4" cy="120.3" r="0.95"/><circle cx="144.0" cy="110.1" r="0.95"/><circle cx="134.3" cy="112.5" r="0.95"/><circle cx="120.9" cy="121.9" r="0.95"/><circle cx="136.1" cy="112.2" r="0.95"/><circle cx="129.9" cy="131.1" r="0.95"/><circle cx="139.1" cy="122.7" r="0.95"/><circle cx="155.2" cy="108.1" r="0.95"/><circle cx="128.4" cy="118.5" r="0.95"/><circle cx="136.3" cy="107.5" r="0.95"/><circle cx="130.9" cy="117.7" r="0.95"/><circle cx="130.8" cy="113.7" r="0.95"/><circle cx="124.1" cy="121.2" r="0.95"/><circle cx="119.9" cy="131.1" r="0.95"/><circle cx="122.8" cy="129.8" r="0.95"/><circle cx="128.9" cy="128.4" r="0.95"/><circle cx="142.1" cy="109.1" r="0.95"/><circle cx="123.1" cy="133.8" r="0.95"/><circle cx="145.8" cy="117.7" r="0.95"/><circle cx="136.0" cy="127.1" r="0.95"/><circle cx="129.8" cy="116.0" r="0.95"/><circle cx="122.6" cy="111.1" r="0.95"/><circle cx="123.7" cy="120.1" r="0.95"/><circle cx="138.6" cy="113.6" r="0.95"/><circle cx="133.6" cy="123.1" r="0.95"/><circle cx="129.1" cy="110.7" r="0.95"/><circle cx="150.2" cy="118.6" r="0.95"/><circle cx="126.0" cy="127.8" r="0.95"/><circle cx="137.0" cy="113.8" r="0.95"/><circle cx="123.0" cy="115.4" r="0.95"/><circle cx="123.3" cy="121.1" r="0.95"/><circle cx="144.1" cy="114.6" r="0.95"/><circle cx="120.9" cy="129.9" r="0.95"/><circle cx="135.5" cy="124.2" r="0.95"/><circle cx="145.9" cy="112.9" r="0.95"/><circle cx="141.1" cy="119.9" r="0.95"/><circle cx="126.5" cy="106.5" r="0.95"/><circle cx="156.2" cy="111.8" r="0.95"/><circle cx="147.7" cy="113.7" r="0.95"/><circle cx="155.2" cy="110.1" r="0.95"/><circle cx="131.2" cy="124.4" r="0.95"/><circle cx="149.8" cy="109.8" r="0.95"/><circle cx="151.6" cy="115.1" r="0.95"/><circle cx="125.8" cy="131.0" r="0.95"/><circle cx="125.2" cy="113.7" r="0.95"/><circle cx="127.8" cy="109.6" r="0.95"/><circle cx="131.9" cy="109.6" r="0.95"/><circle cx="130.9" cy="127.5" r="0.95"/><circle cx="135.9" cy="124.1" r="0.95"/><circle cx="123.1" cy="113.9" r="0.95"/><circle cx="141.5" cy="120.2" r="0.95"/><circle cx="128.7" cy="126.9" r="0.95"/><circle cx="124.1" cy="109.6" r="0.95"/><circle cx="150.2" cy="114.3" r="0.95"/><circle cx="140.3" cy="110.7" r="0.95"/><circle cx="125.2" cy="119.1" r="0.95"/><circle cx="129.5" cy="123.5" r="0.95"/><circle cx="126.6" cy="113.9" r="0.95"/><circle cx="141.2" cy="111.7" r="0.95"/><circle cx="143.3" cy="117.3" r="0.95"/><circle cx="154.5" cy="110.7" r="0.95"/><circle cx="123.2" cy="125.5" r="0.95"/><circle cx="146.3" cy="107.0" r="0.95"/><circle cx="144.0" cy="115.3" r="0.95"/><circle cx="155.1" cy="111.8" r="0.95"/><circle cx="136.3" cy="121.5" r="0.95"/><circle cx="123.5" cy="116.7" r="0.95"/><circle cx="145.4" cy="108.2" r="0.95"/><circle cx="124.2" cy="131.6" r="0.95"/><circle cx="138.1" cy="125.5" r="0.95"/><circle cx="136.3" cy="111.3" r="0.95"/><circle cx="122.2" cy="121.8" r="0.95"/><circle cx="135.0" cy="106.3" r="0.95"/><circle cx="135.1" cy="109.6" r="0.95"/><circle cx="149.1" cy="117.7" r="0.95"/><circle cx="128.4" cy="126.4" r="0.95"/><circle cx="138.1" cy="123.6" r="0.95"/><circle cx="144.0" cy="120.2" r="0.95"/><circle cx="131.6" cy="117.1" r="0.95"/><circle cx="122.9" cy="134.1" r="0.95"/><circle cx="135.5" cy="110.0" r="0.95"/><circle cx="151.3" cy="117.7" r="0.95"/><circle cx="134.0" cy="127.7" r="0.95"/><circle cx="140.0" cy="124.2" r="0.95"/><circle cx="138.1" cy="123.3" r="0.95"/><circle cx="123.2" cy="113.2" r="0.95"/><circle cx="149.9" cy="117.3" r="0.95"/><circle cx="123.7" cy="117.3" r="0.95"/><circle cx="152.9" cy="115.3" r="0.95"/><circle cx="129.9" cy="107.4" r="0.95"/><circle cx="150.9" cy="108.2" r="0.95"/><circle cx="128.8" cy="118.0" r="0.95"/><circle cx="133.8" cy="126.7" r="0.95"/><circle cx="148.4" cy="116.8" r="0.95"/><circle cx="132.0" cy="119.0" r="0.95"/><circle cx="136.9" cy="118.7" r="0.95"/><circle cx="143.1" cy="121.0" r="0.95"/><circle cx="143.5" cy="119.3" r="0.95"/><circle cx="146.2" cy="106.6" r="0.95"/><circle cx="144.1" cy="111.1" r="0.95"/><circle cx="128.4" cy="124.0" r="0.95"/><circle cx="128.0" cy="114.0" r="0.95"/><circle cx="139.5" cy="117.1" r="0.95"/><circle cx="131.7" cy="117.7" r="0.95"/><circle cx="155.8" cy="111.7" r="0.95"/><circle cx="139.0" cy="123.9" r="0.95"/><circle cx="132.5" cy="111.0" r="0.95"/><circle cx="126.0" cy="118.6" r="0.95"/><circle cx="148.9" cy="106.9" r="0.95"/><circle cx="120.0" cy="127.4" r="0.95"/><circle cx="138.1" cy="106.9" r="0.95"/><circle cx="125.5" cy="109.8" r="0.95"/><circle cx="134.5" cy="118.9" r="0.95"/><circle cx="124.4" cy="126.4" r="0.95"/><circle cx="146.1" cy="117.9" r="0.95"/><circle cx="124.0" cy="111.1" r="0.95"/><circle cx="150.7" cy="110.5" r="0.95"/><circle cx="127.6" cy="106.8" r="0.95"/><circle cx="148.6" cy="111.9" r="0.95"/><circle cx="143.5" cy="110.1" r="0.95"/><circle cx="151.2" cy="107.4" r="0.95"/><circle cx="131.3" cy="114.7" r="0.95"/><circle cx="145.5" cy="109.6" r="0.95"/><circle cx="128.9" cy="119.0" r="0.95"/><circle cx="124.5" cy="109.3" r="0.95"/><circle cx="145.9" cy="115.0" r="0.95"/><circle cx="124.0" cy="111.8" r="0.95"/><circle cx="123.1" cy="127.1" r="0.95"/><circle cx="123.4" cy="125.0" r="0.95"/><circle cx="122.1" cy="112.6" r="0.95"/><circle cx="122.8" cy="115.2" r="0.95"/><circle cx="122.5" cy="128.2" r="0.95"/><circle cx="144.7" cy="108.8" r="0.95"/><circle cx="134.9" cy="121.9" r="0.95"/><circle cx="120.5" cy="125.3" r="0.95"/><circle cx="128.6" cy="111.4" r="0.95"/><circle cx="146.6" cy="111.6" r="0.95"/><circle cx="139.6" cy="114.2" r="0.95"/><circle cx="124.2" cy="123.9" r="0.95"/><circle cx="130.5" cy="127.1" r="0.95"/><circle cx="131.7" cy="127.1" r="0.95"/><circle cx="152.3" cy="116.1" r="0.95"/><circle cx="137.7" cy="124.1" r="0.95"/><circle cx="154.5" cy="106.8" r="0.95"/><circle cx="136.5" cy="118.3" r="0.95"/><circle cx="138.5" cy="112.1" r="0.95"/><circle cx="125.3" cy="122.4" r="0.95"/><circle cx="133.9" cy="109.9" r="0.95"/><circle cx="124.0" cy="116.1" r="0.95"/><circle cx="147.6" cy="107.3" r="0.95"/><circle cx="136.3" cy="121.3" r="0.95"/><circle cx="154.2" cy="107.8" r="0.95"/><circle cx="154.5" cy="116.0" r="0.95"/><circle cx="151.7" cy="110.5" r="0.95"/><circle cx="133.6" cy="110.2" r="0.95"/><circle cx="127.5" cy="112.6" r="0.95"/><circle cx="137.2" cy="123.1" r="0.95"/><circle cx="126.8" cy="111.1" r="0.95"/><circle cx="133.6" cy="123.0" r="0.95"/><circle cx="141.3" cy="108.3" r="0.95"/><circle cx="155.4" cy="116.2" r="0.95"/><circle cx="121.9" cy="119.8" r="0.95"/><circle cx="141.6" cy="122.0" r="0.95"/><circle cx="132.7" cy="122.9" r="0.95"/><circle cx="125.9" cy="106.8" r="0.95"/><circle cx="141.9" cy="119.0" r="0.95"/><circle cx="131.4" cy="120.6" r="0.95"/><circle cx="121.4" cy="130.9" r="0.95"/><circle cx="132.5" cy="111.6" r="0.95"/><circle cx="139.8" cy="119.3" r="0.95"/><circle cx="120.9" cy="133.8" r="0.95"/><circle cx="144.8" cy="114.5" r="0.95"/><circle cx="133.8" cy="107.4" r="0.95"/><circle cx="121.9" cy="118.7" r="0.95"/><circle cx="121.0" cy="120.8" r="0.95"/><circle cx="126.4" cy="130.2" r="0.95"/><circle cx="150.1" cy="117.4" r="0.95"/><circle cx="139.7" cy="116.1" r="0.95"/><circle cx="123.1" cy="125.5" r="0.95"/><circle cx="128.1" cy="109.8" r="0.95"/><circle cx="152.5" cy="111.6" r="0.95"/><circle cx="128.2" cy="114.1" r="0.95"/><circle cx="130.7" cy="113.5" r="0.95"/><circle cx="132.7" cy="112.3" r="0.95"/><circle cx="141.2" cy="110.6" r="0.95"/><circle cx="140.1" cy="123.8" r="0.95"/><circle cx="127.3" cy="111.6" r="0.95"/><circle cx="140.3" cy="112.5" r="0.95"/><circle cx="129.2" cy="115.2" r="0.95"/><circle cx="148.5" cy="116.2" r="0.95"/><circle cx="136.2" cy="113.2" r="0.95"/><circle cx="139.8" cy="117.3" r="0.95"/><circle cx="131.2" cy="125.2" r="0.95"/><circle cx="123.0" cy="125.0" r="0.95"/><circle cx="147.2" cy="118.0" r="0.95"/><circle cx="125.9" cy="113.2" r="0.95"/><circle cx="123.8" cy="112.6" r="0.95"/><circle cx="124.9" cy="132.8" r="0.95"/><circle cx="128.9" cy="119.9" r="0.95"/><circle cx="129.6" cy="108.5" r="0.95"/><circle cx="148.0" cy="114.3" r="0.95"/><circle cx="155.6" cy="106.3" r="0.95"/><circle cx="131.6" cy="129.7" r="0.95"/><circle cx="135.7" cy="108.1" r="0.95"/><circle cx="127.4" cy="132.2" r="0.95"/><circle cx="126.2" cy="128.1" r="0.95"/><circle cx="141.4" cy="122.0" r="0.95"/><circle cx="131.0" cy="119.6" r="0.95"/><circle cx="148.9" cy="113.4" r="0.95"/><circle cx="132.4" cy="107.5" r="0.95"/><circle cx="149.5" cy="118.5" r="0.95"/><circle cx="137.5" cy="125.6" r="0.95"/><circle cx="124.4" cy="108.5" r="0.95"/><circle cx="154.7" cy="108.4" r="0.95"/><circle cx="128.4" cy="119.3" r="0.95"/><circle cx="138.3" cy="115.3" r="0.95"/><circle cx="126.7" cy="116.5" r="0.95"/><circle cx="126.5" cy="113.8" r="0.95"/><circle cx="120.9" cy="127.3" r="0.95"/><circle cx="123.8" cy="131.2" r="0.95"/><circle cx="143.1" cy="109.2" r="0.95"/><circle cx="124.1" cy="129.1" r="0.95"/><circle cx="134.5" cy="106.2" r="0.95"/><circle cx="140.2" cy="106.7" r="0.95"/><circle cx="123.8" cy="109.6" r="0.95"/><circle cx="148.9" cy="112.7" r="0.95"/><circle cx="149.2" cy="113.5" r="0.95"/><circle cx="131.4" cy="114.7" r="0.95"/><circle cx="135.0" cy="112.6" r="0.95"/><circle cx="134.0" cy="111.0" r="0.95"/><circle cx="137.3" cy="110.7" r="0.95"/><circle cx="130.8" cy="119.0" r="0.95"/><circle cx="146.2" cy="113.3" r="0.95"/><circle cx="142.0" cy="110.6" r="0.95"/><circle cx="120.9" cy="131.6" r="0.95"/><circle cx="127.3" cy="131.3" r="0.95"/><circle cx="153.6" cy="115.3" r="0.95"/><circle cx="135.1" cy="106.6" r="0.95"/><circle cx="151.5" cy="113.2" r="0.95"/><circle cx="138.1" cy="120.6" r="0.95"/><circle cx="124.8" cy="120.0" r="0.95"/><circle cx="129.5" cy="128.4" r="0.95"/><circle cx="136.9" cy="115.8" r="0.95"/><circle cx="141.1" cy="108.3" r="0.95"/><circle cx="138.8" cy="120.0" r="0.95"/><circle cx="152.9" cy="114.3" r="0.95"/><circle cx="147.2" cy="112.4" r="0.95"/><circle cx="130.8" cy="113.3" r="0.95"/><circle cx="127.2" cy="118.7" r="0.95"/><circle cx="142.1" cy="111.9" r="0.95"/><circle cx="125.7" cy="125.2" r="0.95"/><circle cx="150.8" cy="111.0" r="0.95"/><circle cx="147.0" cy="112.8" r="0.95"/><circle cx="144.1" cy="111.7" r="0.95"/><circle cx="139.0" cy="118.4" r="0.95"/><circle cx="154.5" cy="115.8" r="0.95"/><circle cx="144.4" cy="117.6" r="0.95"/><circle cx="138.2" cy="112.4" r="0.95"/><circle cx="135.6" cy="122.8" r="0.95"/><circle cx="135.8" cy="118.5" r="0.95"/><circle cx="133.1" cy="123.7" r="0.95"/><circle cx="135.6" cy="124.3" r="0.95"/><circle cx="134.4" cy="121.9" r="0.95"/><circle cx="152.7" cy="106.8" r="0.95"/><circle cx="130.2" cy="121.4" r="0.95"/><circle cx="153.4" cy="110.0" r="0.95"/><circle cx="128.5" cy="127.9" r="0.95"/><circle cx="146.0" cy="111.2" r="0.95"/><circle cx="137.3" cy="123.8" r="0.95"/><circle cx="128.2" cy="111.2" r="0.95"/><circle cx="152.3" cy="109.3" r="0.95"/><circle cx="123.7" cy="117.5" r="0.95"/><circle cx="121.6" cy="113.2" r="0.95"/><circle cx="144.7" cy="121.2" r="0.95"/><circle cx="153.4" cy="107.0" r="0.95"/><circle cx="141.8" cy="122.8" r="0.95"/><circle cx="128.8" cy="107.1" r="0.95"/><circle cx="128.1" cy="125.2" r="0.95"/><circle cx="136.1" cy="110.7" r="0.95"/><circle cx="126.2" cy="113.6" r="0.95"/><circle cx="131.9" cy="106.6" r="0.95"/><circle cx="135.0" cy="116.6" r="0.95"/><circle cx="120.6" cy="132.0" r="0.95"/><circle cx="131.0" cy="116.7" r="0.95"/><circle cx="129.0" cy="117.7" r="0.95"/><circle cx="129.8" cy="111.6" r="0.95"/><circle cx="125.3" cy="127.7" r="0.95"/><circle cx="136.1" cy="107.8" r="0.95"/><circle cx="125.6" cy="129.9" r="0.95"/><circle cx="124.3" cy="129.2" r="0.95"/><circle cx="132.0" cy="123.6" r="0.95"/><circle cx="137.5" cy="123.6" r="0.95"/><circle cx="148.9" cy="107.9" r="0.95"/><circle cx="135.6" cy="107.4" r="0.95"/><circle cx="139.4" cy="114.7" r="0.95"/><circle cx="133.9" cy="127.4" r="0.95"/><circle cx="124.5" cy="108.5" r="0.95"/><circle cx="133.0" cy="114.2" r="0.95"/><circle cx="136.9" cy="119.5" r="0.95"/><circle cx="127.2" cy="130.3" r="0.95"/><circle cx="132.2" cy="114.8" r="0.95"/><circle cx="121.9" cy="127.8" r="0.95"/><circle cx="127.4" cy="110.4" r="0.95"/><circle cx="128.8" cy="126.8" r="0.95"/><circle cx="130.0" cy="125.1" r="0.95"/><circle cx="149.5" cy="111.5" r="0.95"/><circle cx="146.0" cy="108.5" r="0.95"/><circle cx="121.0" cy="130.7" r="0.95"/><circle cx="129.2" cy="119.5" r="0.95"/><circle cx="150.7" cy="117.7" r="0.95"/><circle cx="123.2" cy="129.7" r="0.95"/><circle cx="143.9" cy="114.8" r="0.95"/><circle cx="130.1" cy="127.4" r="0.95"/><circle cx="136.0" cy="107.1" r="0.95"/><circle cx="128.8" cy="130.7" r="0.95"/><circle cx="143.4" cy="115.5" r="0.95"/><circle cx="126.0" cy="128.3" r="0.95"/><circle cx="138.9" cy="121.1" r="0.95"/><circle cx="140.5" cy="113.4" r="0.95"/><circle cx="124.8" cy="117.2" r="0.95"/><circle cx="130.6" cy="109.5" r="0.95"/><circle cx="145.5" cy="111.3" r="0.95"/><circle cx="124.4" cy="130.7" r="0.95"/><circle cx="134.0" cy="118.8" r="0.95"/><circle cx="140.4" cy="123.3" r="0.95"/><circle cx="131.9" cy="107.0" r="0.95"/><circle cx="152.3" cy="107.4" r="0.95"/><circle cx="148.5" cy="119.3" r="0.95"/><circle cx="149.4" cy="118.1" r="0.95"/><circle cx="123.8" cy="127.9" r="0.95"/><circle cx="123.0" cy="108.8" r="0.95"/><circle cx="131.6" cy="123.2" r="0.95"/><circle cx="146.3" cy="111.2" r="0.95"/><circle cx="149.7" cy="108.6" r="0.95"/><circle cx="148.4" cy="114.4" r="0.95"/><circle cx="133.5" cy="125.2" r="0.95"/><circle cx="125.2" cy="110.1" r="0.95"/><circle cx="136.9" cy="110.7" r="0.95"/><circle cx="132.3" cy="125.9" r="0.95"/><circle cx="138.9" cy="112.8" r="0.95"/><circle cx="152.2" cy="112.3" r="0.95"/><circle cx="140.5" cy="124.6" r="0.95"/><circle cx="129.8" cy="108.5" r="0.95"/><circle cx="122.5" cy="129.8" r="0.95"/><circle cx="150.3" cy="119.5" r="0.95"/><circle cx="140.5" cy="119.1" r="0.95"/><circle cx="135.0" cy="118.6" r="0.95"/><circle cx="123.2" cy="131.5" r="0.95"/><circle cx="145.0" cy="116.0" r="0.95"/><circle cx="150.1" cy="114.4" r="0.95"/><circle cx="139.6" cy="112.0" r="0.95"/><circle cx="125.3" cy="119.5" r="0.95"/><circle cx="153.7" cy="112.7" r="0.95"/><circle cx="134.5" cy="121.0" r="0.95"/><circle cx="129.9" cy="106.1" r="0.95"/><circle cx="149.2" cy="114.8" r="0.95"/><circle cx="130.9" cy="113.2" r="0.95"/><circle cx="137.9" cy="111.2" r="0.95"/><circle cx="133.2" cy="108.6" r="0.95"/><circle cx="145.5" cy="121.9" r="0.95"/><circle cx="140.8" cy="110.9" r="0.95"/><circle cx="139.5" cy="106.2" r="0.95"/><circle cx="146.6" cy="120.7" r="0.95"/><circle cx="132.2" cy="113.8" r="0.95"/><circle cx="121.0" cy="132.0" r="0.95"/><circle cx="122.2" cy="118.2" r="0.95"/><circle cx="131.6" cy="127.7" r="0.95"/><circle cx="154.0" cy="109.9" r="0.95"/><circle cx="140.7" cy="122.1" r="0.95"/><circle cx="131.1" cy="117.2" r="0.95"/><circle cx="155.8" cy="113.4" r="0.95"/><circle cx="124.0" cy="125.1" r="0.95"/><circle cx="124.1" cy="122.8" r="0.95"/><circle cx="145.1" cy="118.5" r="0.95"/><circle cx="147.4" cy="114.5" r="0.95"/><circle cx="146.6" cy="121.3" r="0.95"/><circle cx="137.0" cy="127.0" r="0.95"/><circle cx="152.2" cy="108.7" r="0.95"/><circle cx="151.9" cy="110.6" r="0.95"/><circle cx="129.7" cy="113.0" r="0.95"/><circle cx="132.6" cy="117.3" r="0.95"/><circle cx="123.6" cy="109.7" r="0.95"/><circle cx="132.2" cy="107.7" r="0.95"/><circle cx="131.9" cy="126.4" r="0.95"/><circle cx="141.8" cy="110.3" r="0.95"/><circle cx="121.7" cy="119.0" r="0.95"/><circle cx="139.7" cy="106.3" r="0.95"/><circle cx="140.7" cy="124.7" r="0.95"/><circle cx="141.4" cy="107.0" r="0.95"/><circle cx="155.5" cy="108.7" r="0.95"/><circle cx="129.1" cy="110.5" r="0.95"/><circle cx="133.3" cy="117.8" r="0.95"/><circle cx="128.3" cy="113.9" r="0.95"/><circle cx="124.8" cy="133.4" r="0.95"/><circle cx="136.8" cy="111.3" r="0.95"/><circle cx="156.4" cy="107.2" r="0.95"/><circle cx="147.2" cy="115.1" r="0.95"/><circle cx="140.7" cy="109.6" r="0.95"/><circle cx="126.9" cy="109.3" r="0.95"/><circle cx="126.4" cy="123.1" r="0.95"/><circle cx="141.9" cy="122.6" r="0.95"/><circle cx="129.1" cy="110.9" r="0.95"/><circle cx="152.2" cy="108.6" r="0.95"/><circle cx="148.1" cy="117.3" r="0.95"/><circle cx="127.8" cy="122.2" r="0.95"/><circle cx="131.4" cy="121.1" r="0.95"/><circle cx="125.5" cy="123.4" r="0.95"/><circle cx="123.2" cy="116.4" r="0.95"/><circle cx="136.6" cy="107.5" r="0.95"/><circle cx="123.3" cy="112.8" r="0.95"/><circle cx="124.2" cy="116.9" r="0.95"/><circle cx="137.4" cy="114.6" r="0.95"/><circle cx="142.6" cy="122.7" r="0.95"/><circle cx="126.4" cy="121.5" r="0.95"/><circle cx="140.3" cy="108.1" r="0.95"/><circle cx="131.9" cy="128.9" r="0.95"/><circle cx="143.4" cy="113.0" r="0.95"/><circle cx="128.8" cy="114.5" r="0.95"/><circle cx="144.2" cy="109.0" r="0.95"/><circle cx="127.1" cy="125.1" r="0.95"/><circle cx="131.0" cy="121.1" r="0.95"/><circle cx="147.8" cy="116.3" r="0.95"/><circle cx="154.8" cy="115.1" r="0.95"/><circle cx="143.0" cy="119.1" r="0.95"/><circle cx="129.4" cy="111.7" r="0.95"/><circle cx="131.6" cy="108.6" r="0.95"/><circle cx="130.7" cy="117.0" r="0.95"/><circle cx="139.3" cy="122.8" r="0.95"/><circle cx="154.4" cy="107.5" r="0.95"/><circle cx="147.4" cy="114.2" r="0.95"/><circle cx="151.1" cy="115.0" r="0.95"/><circle cx="129.5" cy="107.4" r="0.95"/><circle cx="132.3" cy="125.0" r="0.95"/><circle cx="153.8" cy="110.6" r="0.95"/><circle cx="123.6" cy="113.4" r="0.95"/><circle cx="150.2" cy="111.4" r="0.95"/><circle cx="119.8" cy="132.9" r="0.95"/><circle cx="151.5" cy="110.2" r="0.95"/><circle cx="148.8" cy="111.1" r="0.95"/><circle cx="148.9" cy="107.2" r="0.95"/><circle cx="131.7" cy="125.3" r="0.95"/><circle cx="146.1" cy="119.7" r="0.95"/><circle cx="135.1" cy="112.8" r="0.95"/><circle cx="146.2" cy="108.4" r="0.95"/><circle cx="131.1" cy="109.6" r="0.95"/><circle cx="147.5" cy="118.1" r="0.95"/><circle cx="134.9" cy="118.3" r="0.95"/><circle cx="122.2" cy="132.8" r="0.95"/><circle cx="147.3" cy="116.8" r="0.95"/><circle cx="127.2" cy="113.5" r="0.95"/><circle cx="150.9" cy="116.7" r="0.95"/><circle cx="128.0" cy="118.4" r="0.95"/><circle cx="134.4" cy="127.5" r="0.95"/><circle cx="125.0" cy="109.1" r="0.95"/><circle cx="143.5" cy="107.0" r="0.95"/><circle cx="125.9" cy="127.6" r="0.95"/><circle cx="130.9" cy="119.1" r="0.95"/><circle cx="137.7" cy="107.7" r="0.95"/><circle cx="141.4" cy="116.1" r="0.95"/><circle cx="141.7" cy="111.6" r="0.95"/><circle cx="124.1" cy="132.3" r="0.95"/><circle cx="127.8" cy="115.5" r="0.95"/><circle cx="129.2" cy="124.0" r="0.95"/><circle cx="129.2" cy="128.3" r="0.95"/><circle cx="131.7" cy="123.0" r="0.95"/><circle cx="133.1" cy="125.8" r="0.95"/><circle cx="147.5" cy="120.6" r="0.95"/><circle cx="127.1" cy="110.5" r="0.95"/><circle cx="138.5" cy="118.5" r="0.95"/><circle cx="123.8" cy="125.9" r="0.95"/><circle cx="142.9" cy="115.0" r="0.95"/><circle cx="143.3" cy="116.6" r="0.95"/><circle cx="152.4" cy="107.9" r="0.95"/><circle cx="122.2" cy="112.0" r="0.95"/><circle cx="125.9" cy="125.1" r="0.95"/><circle cx="127.0" cy="109.2" r="0.95"/><circle cx="150.6" cy="110.1" r="0.95"/><circle cx="133.9" cy="106.9" r="0.95"/><circle cx="129.2" cy="118.1" r="0.95"/><circle cx="124.5" cy="127.2" r="0.95"/><circle cx="143.8" cy="116.1" r="0.95"/><circle cx="139.4" cy="109.4" r="0.95"/><circle cx="128.5" cy="131.3" r="0.95"/><circle cx="122.2" cy="125.0" r="0.95"/><circle cx="153.2" cy="115.5" r="0.95"/><circle cx="122.7" cy="129.0" r="0.95"/><circle cx="141.9" cy="119.4" r="0.95"/><circle cx="120.3" cy="132.9" r="0.95"/><circle cx="140.9" cy="117.2" r="0.95"/><circle cx="122.4" cy="111.9" r="0.95"/><circle cx="128.5" cy="117.6" r="0.95"/><circle cx="139.5" cy="125.3" r="0.95"/><circle cx="135.5" cy="119.1" r="0.95"/><circle cx="148.7" cy="119.2" r="0.95"/><circle cx="146.7" cy="116.1" r="0.95"/><circle cx="141.0" cy="122.2" r="0.95"/><circle cx="128.1" cy="111.7" r="0.95"/><circle cx="127.8" cy="113.9" r="0.95"/><circle cx="138.0" cy="122.6" r="0.95"/><circle cx="146.3" cy="113.4" r="0.95"/><circle cx="144.9" cy="120.5" r="0.95"/><circle cx="137.3" cy="119.4" r="0.95"/><circle cx="125.9" cy="122.1" r="0.95"/><circle cx="132.6" cy="120.4" r="0.95"/><circle cx="139.6" cy="123.8" r="0.95"/><circle cx="130.1" cy="124.9" r="0.95"/><circle cx="131.5" cy="112.9" r="0.95"/><circle cx="138.2" cy="111.2" r="0.95"/><circle cx="127.2" cy="124.4" r="0.95"/><circle cx="134.6" cy="123.9" r="0.95"/><circle cx="143.8" cy="117.4" r="0.95"/><circle cx="139.7" cy="117.8" r="0.95"/><circle cx="121.8" cy="112.8" r="0.95"/><circle cx="133.6" cy="115.9" r="0.95"/><circle cx="130.1" cy="107.5" r="0.95"/><circle cx="133.4" cy="127.3" r="0.95"/><circle cx="129.7" cy="120.8" r="0.95"/><circle cx="127.3" cy="111.2" r="0.95"/><circle cx="122.2" cy="123.0" r="0.95"/><circle cx="149.2" cy="113.8" r="0.95"/><circle cx="129.2" cy="131.1" r="0.95"/><circle cx="125.6" cy="108.8" r="0.95"/><circle cx="141.2" cy="109.2" r="0.95"/><circle cx="125.1" cy="121.0" r="0.95"/><circle cx="129.4" cy="107.3" r="0.95"/><circle cx="147.0" cy="120.1" r="0.95"/><circle cx="142.6" cy="109.2" r="0.95"/><circle cx="125.6" cy="128.4" r="0.95"/><circle cx="124.5" cy="120.0" r="0.95"/><circle cx="141.6" cy="121.6" r="0.95"/><circle cx="146.7" cy="119.2" r="0.95"/><circle cx="131.1" cy="110.1" r="0.95"/><circle cx="155.2" cy="107.3" r="0.95"/><circle cx="134.2" cy="121.9" r="0.95"/><circle cx="129.1" cy="112.8" r="0.95"/><circle cx="123.3" cy="121.7" r="0.95"/><circle cx="139.1" cy="111.5" r="0.95"/><circle cx="126.4" cy="127.2" r="0.95"/><circle cx="121.1" cy="133.1" r="0.95"/><circle cx="122.2" cy="123.8" r="0.95"/><circle cx="139.0" cy="119.1" r="0.95"/><circle cx="123.0" cy="117.9" r="0.95"/><circle cx="136.3" cy="125.7" r="0.95"/><circle cx="151.0" cy="114.5" r="0.95"/><circle cx="123.9" cy="132.5" r="0.95"/><circle cx="121.3" cy="127.7" r="0.95"/><circle cx="156.3" cy="109.1" r="0.95"/><circle cx="124.1" cy="111.4" r="0.95"/><circle cx="123.8" cy="129.1" r="0.95"/><circle cx="124.3" cy="117.0" r="0.95"/><circle cx="143.2" cy="109.3" r="0.95"/><circle cx="119.7" cy="135.5" r="0.95"/><circle cx="129.4" cy="109.0" r="0.95"/><circle cx="123.6" cy="111.3" r="0.95"/><circle cx="142.5" cy="116.9" r="0.95"/><circle cx="148.8" cy="119.8" r="0.95"/><circle cx="123.7" cy="128.9" r="0.95"/><circle cx="123.4" cy="128.1" r="0.95"/><circle cx="149.7" cy="118.9" r="0.95"/><circle cx="140.9" cy="109.4" r="0.95"/><circle cx="133.4" cy="122.4" r="0.95"/><circle cx="137.4" cy="113.8" r="0.95"/><circle cx="131.3" cy="117.3" r="0.95"/><circle cx="129.1" cy="120.1" r="0.95"/><circle cx="148.5" cy="120.4" r="0.95"/><circle cx="132.9" cy="128.0" r="0.95"/><circle cx="151.3" cy="107.9" r="0.95"/><circle cx="122.0" cy="116.3" r="0.95"/><circle cx="136.2" cy="114.7" r="0.95"/><circle cx="125.4" cy="124.5" r="0.95"/><circle cx="149.4" cy="114.8" r="0.95"/><circle cx="127.6" cy="127.9" r="0.95"/><circle cx="141.2" cy="107.3" r="0.95"/><circle cx="140.5" cy="107.4" r="0.95"/><circle cx="137.2" cy="119.8" r="0.95"/><circle cx="130.1" cy="121.5" r="0.95"/><circle cx="126.9" cy="116.5" r="0.95"/><circle cx="138.8" cy="121.1" r="0.95"/><circle cx="154.7" cy="112.3" r="0.95"/><circle cx="122.6" cy="134.9" r="0.95"/><circle cx="146.1" cy="117.4" r="0.95"/><circle cx="144.2" cy="120.4" r="0.95"/><circle cx="151.2" cy="117.2" r="0.95"/><circle cx="121.0" cy="132.0" r="0.95"/><circle cx="125.6" cy="114.0" r="0.95"/><circle cx="154.6" cy="109.1" r="0.95"/><circle cx="144.0" cy="110.9" r="0.95"/><circle cx="122.6" cy="121.5" r="0.95"/><circle cx="124.8" cy="109.1" r="0.95"/><circle cx="121.7" cy="118.6" r="0.95"/><circle cx="155.8" cy="116.7" r="0.95"/><circle cx="144.4" cy="115.8" r="0.95"/><circle cx="153.9" cy="112.1" r="0.95"/><circle cx="140.1" cy="106.9" r="0.95"/><circle cx="131.8" cy="115.4" r="0.95"/><circle cx="146.4" cy="121.6" r="0.95"/><circle cx="129.8" cy="122.8" r="0.95"/><circle cx="125.3" cy="120.9" r="0.95"/><circle cx="129.5" cy="112.0" r="0.95"/><circle cx="137.9" cy="109.0" r="0.95"/><circle cx="146.2" cy="116.6" r="0.95"/><circle cx="137.7" cy="115.3" r="0.95"/><circle cx="131.1" cy="109.5" r="0.95"/><circle cx="141.0" cy="120.0" r="0.95"/><circle cx="146.4" cy="120.6" r="0.95"/><circle cx="134.0" cy="118.8" r="0.95"/><circle cx="154.0" cy="115.6" r="0.95"/><circle cx="125.3" cy="109.4" r="0.95"/><circle cx="130.1" cy="111.0" r="0.95"/><circle cx="144.2" cy="117.1" r="0.95"/><circle cx="151.2" cy="119.0" r="0.95"/><circle cx="148.2" cy="109.9" r="0.95"/><circle cx="129.0" cy="123.1" r="0.95"/><circle cx="152.8" cy="114.6" r="0.95"/><circle cx="138.0" cy="119.0" r="0.95"/><circle cx="133.0" cy="114.6" r="0.95"/><circle cx="139.7" cy="120.4" r="0.95"/><circle cx="129.2" cy="128.9" r="0.95"/><circle cx="155.1" cy="108.0" r="0.95"/><circle cx="138.5" cy="106.3" r="0.95"/><circle cx="129.9" cy="107.0" r="0.95"/><circle cx="155.7" cy="115.9" r="0.95"/><circle cx="134.2" cy="122.7" r="0.95"/><circle cx="142.6" cy="119.5" r="0.95"/><circle cx="152.5" cy="108.2" r="0.95"/><circle cx="149.1" cy="115.8" r="0.95"/><circle cx="133.2" cy="121.2" r="0.95"/><circle cx="140.7" cy="113.0" r="0.95"/><circle cx="125.3" cy="112.3" r="0.95"/><circle cx="156.3" cy="110.3" r="0.95"/><circle cx="149.5" cy="106.6" r="0.95"/><circle cx="146.7" cy="118.9" r="0.95"/><circle cx="150.8" cy="110.9" r="0.95"/><circle cx="143.3" cy="115.1" r="0.95"/><circle cx="126.1" cy="125.4" r="0.95"/><circle cx="131.7" cy="109.3" r="0.95"/><circle cx="121.7" cy="125.7" r="0.95"/><circle cx="133.0" cy="123.8" r="0.95"/><circle cx="143.4" cy="122.2" r="0.95"/><circle cx="136.9" cy="106.2" r="0.95"/><circle cx="129.9" cy="119.6" r="0.95"/><circle cx="124.9" cy="120.2" r="0.95"/><circle cx="124.6" cy="108.5" r="0.95"/><circle cx="124.9" cy="127.8" r="0.95"/><circle cx="135.4" cy="112.5" r="0.95"/><circle cx="135.9" cy="122.9" r="0.95"/><circle cx="134.7" cy="119.7" r="0.95"/><circle cx="130.0" cy="106.4" r="0.95"/><circle cx="126.6" cy="131.7" r="0.95"/><circle cx="140.3" cy="125.0" r="0.95"/><circle cx="135.8" cy="126.0" r="0.95"/><circle cx="136.8" cy="118.6" r="0.95"/><circle cx="146.8" cy="115.7" r="0.95"/><circle cx="123.6" cy="131.3" r="0.95"/><circle cx="126.3" cy="130.1" r="0.95"/><circle cx="128.7" cy="130.2" r="0.95"/><circle cx="124.8" cy="114.7" r="0.95"/><circle cx="150.3" cy="114.9" r="0.95"/><circle cx="135.7" cy="117.0" r="0.95"/><circle cx="144.4" cy="122.2" r="0.95"/><circle cx="122.8" cy="124.5" r="0.95"/><circle cx="148.9" cy="109.1" r="0.95"/><circle cx="133.6" cy="124.3" r="0.95"/><circle cx="127.3" cy="131.8" r="0.95"/><circle cx="145.6" cy="120.1" r="0.95"/><circle cx="155.8" cy="106.1" r="0.95"/><circle cx="152.7" cy="106.6" r="0.95"/><circle cx="152.7" cy="116.8" r="0.95"/><circle cx="143.0" cy="122.3" r="0.95"/><circle cx="124.0" cy="108.9" r="0.95"/><circle cx="141.3" cy="108.7" r="0.95"/><circle cx="130.5" cy="118.0" r="0.95"/><circle cx="129.9" cy="110.2" r="0.95"/><circle cx="127.3" cy="115.8" r="0.95"/><circle cx="122.4" cy="120.8" r="0.95"/><circle cx="139.3" cy="110.5" r="0.95"/><circle cx="127.1" cy="130.1" r="0.95"/><circle cx="131.0" cy="111.0" r="0.95"/><circle cx="128.2" cy="116.2" r="0.95"/><circle cx="120.5" cy="133.3" r="0.95"/><circle cx="146.4" cy="120.5" r="0.95"/><circle cx="123.6" cy="121.2" r="0.95"/><circle cx="140.6" cy="122.8" r="0.95"/><circle cx="153.0" cy="117.9" r="0.95"/><circle cx="132.6" cy="127.0" r="0.95"/><circle cx="126.4" cy="107.0" r="0.95"/><circle cx="142.4" cy="118.7" r="0.95"/><circle cx="120.1" cy="130.7" r="0.95"/><circle cx="144.3" cy="116.9" r="0.95"/><circle cx="127.6" cy="123.3" r="0.95"/><circle cx="122.2" cy="117.9" r="0.95"/><circle cx="127.7" cy="114.1" r="0.95"/><circle cx="125.9" cy="114.5" r="0.95"/><circle cx="142.9" cy="113.8" r="0.95"/><circle cx="153.5" cy="110.3" r="0.95"/><circle cx="148.5" cy="117.3" r="0.95"/><circle cx="129.3" cy="107.8" r="0.95"/><circle cx="156.3" cy="106.5" r="0.95"/><circle cx="132.2" cy="110.4" r="0.95"/><circle cx="145.2" cy="109.9" r="0.95"/><circle cx="134.4" cy="111.2" r="0.95"/><circle cx="144.3" cy="119.1" r="0.95"/><circle cx="123.0" cy="109.8" r="0.95"/><circle cx="127.9" cy="131.7" r="0.95"/><circle cx="148.1" cy="114.9" r="0.95"/><circle cx="135.0" cy="117.4" r="0.95"/><circle cx="140.4" cy="106.5" r="0.95"/><circle cx="138.7" cy="119.1" r="0.95"/><circle cx="137.0" cy="123.1" r="0.95"/><circle cx="145.8" cy="107.1" r="0.95"/><circle cx="148.4" cy="119.0" r="0.95"/><circle cx="122.8" cy="119.2" r="0.95"/><circle cx="152.9" cy="109.1" r="0.95"/><circle cx="126.3" cy="112.7" r="0.95"/><circle cx="132.1" cy="119.9" r="0.95"/><circle cx="130.8" cy="109.0" r="0.95"/><circle cx="134.3" cy="122.8" r="0.95"/><circle cx="127.8" cy="120.9" r="0.95"/><circle cx="144.6" cy="120.6" r="0.95"/><circle cx="130.3" cy="118.9" r="0.95"/><circle cx="121.7" cy="129.5" r="0.95"/><circle cx="125.1" cy="109.5" r="0.95"/><circle cx="129.7" cy="120.0" r="0.95"/><circle cx="126.0" cy="126.3" r="0.95"/><circle cx="128.2" cy="117.4" r="0.95"/><circle cx="123.6" cy="119.7" r="0.95"/><circle cx="147.8" cy="116.8" r="0.95"/><circle cx="154.1" cy="117.1" r="0.95"/><circle cx="126.3" cy="130.1" r="0.95"/><circle cx="146.2" cy="110.8" r="0.95"/><circle cx="121.7" cy="122.9" r="0.95"/><circle cx="130.1" cy="121.4" r="0.95"/><circle cx="147.7" cy="112.2" r="0.95"/><circle cx="129.9" cy="116.7" r="0.95"/><circle cx="133.6" cy="121.2" r="0.95"/><circle cx="139.6" cy="115.2" r="0.95"/><circle cx="125.7" cy="109.9" r="0.95"/><circle cx="125.5" cy="126.1" r="0.95"/><circle cx="133.3" cy="106.4" r="0.95"/><circle cx="124.0" cy="124.8" r="0.95"/><circle cx="122.5" cy="121.3" r="0.95"/><circle cx="132.5" cy="113.0" r="0.95"/><circle cx="154.4" cy="108.2" r="0.95"/><circle cx="140.9" cy="119.5" r="0.95"/><circle cx="125.8" cy="125.9" r="0.95"/><circle cx="127.7" cy="129.7" r="0.95"/><circle cx="148.6" cy="118.1" r="0.95"/><circle cx="146.9" cy="117.8" r="0.95"/><circle cx="124.7" cy="126.5" r="0.95"/><circle cx="143.4" cy="119.0" r="0.95"/><circle cx="137.5" cy="121.1" r="0.95"/><circle cx="127.2" cy="128.6" r="0.95"/><circle cx="152.9" cy="113.1" r="0.95"/><circle cx="129.6" cy="118.7" r="0.95"/><circle cx="139.1" cy="120.5" r="0.95"/><circle cx="154.1" cy="116.6" r="0.95"/><circle cx="146.5" cy="109.2" r="0.95"/><circle cx="149.9" cy="114.6" r="0.95"/><circle cx="137.1" cy="108.0" r="0.95"/><circle cx="147.4" cy="115.1" r="0.95"/><circle cx="134.6" cy="120.4" r="0.95"/><circle cx="129.3" cy="109.7" r="0.95"/><circle cx="151.6" cy="114.3" r="0.95"/><circle cx="145.6" cy="120.1" r="0.95"/><circle cx="141.2" cy="115.2" r="0.95"/><circle cx="129.0" cy="110.4" r="0.95"/><circle cx="149.8" cy="109.0" r="0.95"/><circle cx="129.1" cy="107.0" r="0.95"/><circle cx="133.5" cy="121.9" r="0.95"/><circle cx="123.3" cy="110.4" r="0.95"/><circle cx="128.8" cy="106.2" r="0.95"/><circle cx="151.1" cy="111.5" r="0.95"/><circle cx="141.5" cy="114.5" r="0.95"/><circle cx="131.7" cy="113.0" r="0.95"/><circle cx="128.5" cy="121.1" r="0.95"/><circle cx="119.9" cy="134.4" r="0.95"/><circle cx="147.9" cy="111.3" r="0.95"/><circle cx="131.4" cy="119.1" r="0.95"/><circle cx="129.2" cy="106.3" r="0.95"/><circle cx="131.1" cy="122.8" r="0.95"/><circle cx="131.4" cy="115.7" r="0.95"/><circle cx="153.0" cy="114.5" r="0.95"/><circle cx="146.9" cy="120.2" r="0.95"/><circle cx="142.2" cy="111.5" r="0.95"/><circle cx="149.0" cy="115.0" r="0.95"/><circle cx="121.7" cy="121.0" r="0.95"/><circle cx="129.6" cy="117.0" r="0.95"/><circle cx="134.5" cy="121.7" r="0.95"/><circle cx="139.9" cy="117.6" r="0.95"/><circle cx="129.8" cy="130.1" r="0.95"/><circle cx="123.6" cy="109.6" r="0.95"/><circle cx="133.1" cy="107.9" r="0.95"/><circle cx="121.8" cy="128.1" r="0.95"/><circle cx="129.0" cy="121.2" r="0.95"/><circle cx="124.0" cy="125.6" r="0.95"/><circle cx="122.8" cy="132.0" r="0.95"/><circle cx="123.2" cy="111.1" r="0.95"/><circle cx="150.0" cy="109.8" r="0.95"/><circle cx="127.8" cy="107.5" r="0.95"/><circle cx="122.9" cy="115.8" r="0.95"/><circle cx="124.9" cy="115.2" r="0.95"/><circle cx="152.6" cy="116.3" r="0.95"/><circle cx="145.7" cy="116.6" r="0.95"/><circle cx="149.1" cy="119.9" r="0.95"/><circle cx="141.9" cy="120.6" r="0.95"/><circle cx="148.2" cy="119.3" r="0.95"/><circle cx="129.9" cy="119.9" r="0.95"/><circle cx="139.2" cy="108.9" r="0.95"/><circle cx="138.7" cy="117.8" r="0.95"/><circle cx="141.4" cy="121.6" r="0.95"/><circle cx="138.8" cy="114.5" r="0.95"/><circle cx="149.3" cy="114.8" r="0.95"/><circle cx="123.9" cy="127.8" r="0.95"/><circle cx="131.3" cy="124.9" r="0.95"/><circle cx="133.5" cy="114.2" r="0.95"/><circle cx="143.3" cy="106.2" r="0.95"/><circle cx="133.6" cy="108.7" r="0.95"/><circle cx="124.8" cy="110.9" r="0.95"/><circle cx="135.2" cy="125.0" r="0.95"/><circle cx="137.0" cy="113.3" r="0.95"/><circle cx="153.5" cy="107.5" r="0.95"/><circle cx="127.0" cy="125.3" r="0.95"/><circle cx="126.1" cy="121.1" r="0.95"/><circle cx="124.3" cy="115.6" r="0.95"/><circle cx="135.0" cy="128.2" r="0.95"/><circle cx="148.1" cy="108.7" r="0.95"/><circle cx="130.5" cy="127.7" r="0.95"/><circle cx="156.2" cy="115.6" r="0.95"/><circle cx="130.1" cy="122.7" r="0.95"/><circle cx="156.4" cy="112.7" r="0.95"/><circle cx="150.4" cy="112.7" r="0.95"/><circle cx="126.2" cy="128.4" r="0.95"/><circle cx="122.4" cy="130.0" r="0.95"/><circle cx="126.0" cy="107.4" r="0.95"/><circle cx="124.7" cy="124.0" r="0.95"/><circle cx="149.5" cy="119.0" r="0.95"/><circle cx="120.9" cy="132.7" r="0.95"/><circle cx="146.9" cy="120.1" r="0.95"/><circle cx="130.0" cy="129.3" r="0.95"/><circle cx="151.8" cy="114.1" r="0.95"/><circle cx="125.2" cy="113.4" r="0.95"/><circle cx="129.1" cy="112.2" r="0.95"/><circle cx="146.8" cy="114.7" r="0.95"/><circle cx="143.8" cy="114.4" r="0.95"/><circle cx="139.1" cy="115.7" r="0.95"/><circle cx="154.7" cy="115.7" r="0.95"/><circle cx="139.0" cy="112.1" r="0.95"/><circle cx="140.2" cy="123.0" r="0.95"/><circle cx="132.1" cy="123.6" r="0.95"/><circle cx="127.8" cy="126.2" r="0.95"/><circle cx="147.9" cy="108.5" r="0.95"/><circle cx="136.7" cy="109.7" r="0.95"/><circle cx="124.1" cy="119.9" r="0.95"/><circle cx="147.8" cy="111.7" r="0.95"/><circle cx="123.6" cy="118.2" r="0.95"/><circle cx="134.8" cy="108.3" r="0.95"/><circle cx="144.6" cy="112.5" r="0.95"/><circle cx="141.1" cy="112.6" r="0.95"/><circle cx="141.5" cy="117.4" r="0.95"/><circle cx="146.3" cy="113.4" r="0.95"/><circle cx="137.9" cy="112.1" r="0.95"/><circle cx="143.8" cy="107.7" r="0.95"/><circle cx="122.7" cy="111.9" r="0.95"/><circle cx="135.3" cy="115.2" r="0.95"/><circle cx="138.8" cy="111.2" r="0.95"/><circle cx="123.8" cy="108.2" r="0.95"/><circle cx="127.3" cy="131.3" r="0.95"/><circle cx="127.7" cy="122.9" r="0.95"/><circle cx="146.3" cy="106.9" r="0.95"/><circle cx="140.6" cy="106.4" r="0.95"/><circle cx="135.6" cy="115.5" r="0.95"/><circle cx="120.2" cy="131.7" r="0.95"/><circle cx="130.8" cy="119.6" r="0.95"/><circle cx="123.5" cy="114.9" r="0.95"/><circle cx="137.6" cy="124.3" r="0.95"/><circle cx="140.4" cy="106.1" r="0.95"/><circle cx="139.9" cy="124.7" r="0.95"/><circle cx="136.0" cy="119.5" r="0.95"/><circle cx="133.8" cy="118.4" r="0.95"/><circle cx="122.7" cy="122.8" r="0.95"/><circle cx="138.6" cy="112.5" r="0.95"/><circle cx="150.3" cy="113.1" r="0.95"/><circle cx="133.9" cy="113.8" r="0.95"/><circle cx="126.9" cy="116.7" r="0.95"/><circle cx="119.9" cy="129.9" r="0.95"/><circle cx="126.0" cy="124.9" r="0.95"/><circle cx="155.6" cy="106.5" r="0.95"/><circle cx="142.8" cy="109.9" r="0.95"/><circle cx="149.1" cy="115.8" r="0.95"/><circle cx="122.5" cy="119.6" r="0.95"/><circle cx="142.5" cy="114.6" r="0.95"/><circle cx="126.1" cy="118.3" r="0.95"/><circle cx="150.6" cy="106.1" r="0.95"/><circle cx="145.0" cy="122.2" r="0.95"/><circle cx="135.3" cy="121.4" r="0.95"/><circle cx="124.1" cy="133.5" r="0.95"/><circle cx="130.0" cy="130.4" r="0.95"/><circle cx="152.8" cy="118.4" r="0.95"/><circle cx="153.6" cy="108.1" r="0.95"/><circle cx="128.6" cy="118.4" r="0.95"/><circle cx="131.2" cy="110.2" r="0.95"/><circle cx="132.3" cy="122.8" r="0.95"/><circle cx="155.9" cy="106.3" r="0.95"/><circle cx="139.4" cy="118.4" r="0.95"/><circle cx="126.8" cy="111.4" r="0.95"/><circle cx="137.9" cy="112.3" r="0.95"/><circle cx="154.5" cy="116.5" r="0.95"/><circle cx="145.9" cy="118.9" r="0.95"/><circle cx="124.3" cy="121.6" r="0.95"/><circle cx="121.7" cy="130.2" r="0.95"/><circle cx="124.5" cy="122.4" r="0.95"/><circle cx="121.6" cy="117.1" r="0.95"/><circle cx="128.0" cy="129.1" r="0.95"/><circle cx="108.4" cy="107.2" r="0.95"/><circle cx="106.8" cy="120.8" r="0.95"/><circle cx="99.9" cy="119.6" r="0.95"/><circle cx="99.5" cy="109.7" r="0.95"/><circle cx="113.6" cy="111.3" r="0.95"/><circle cx="104.1" cy="120.4" r="0.95"/><circle cx="114.6" cy="132.2" r="0.95"/><circle cx="104.1" cy="121.8" r="0.95"/><circle cx="101.5" cy="120.5" r="0.95"/><circle cx="92.5" cy="112.5" r="0.95"/><circle cx="97.3" cy="111.4" r="0.95"/><circle cx="99.4" cy="107.1" r="0.95"/><circle cx="98.6" cy="109.6" r="0.95"/><circle cx="111.4" cy="118.0" r="0.95"/><circle cx="111.9" cy="121.2" r="0.95"/><circle cx="95.1" cy="116.4" r="0.95"/><circle cx="107.2" cy="119.8" r="0.95"/><circle cx="112.5" cy="119.4" r="0.95"/><circle cx="98.8" cy="115.2" r="0.95"/><circle cx="117.8" cy="134.3" r="0.95"/><circle cx="111.7" cy="122.5" r="0.95"/><circle cx="114.5" cy="115.1" r="0.95"/><circle cx="113.4" cy="125.4" r="0.95"/><circle cx="92.4" cy="107.3" r="0.95"/><circle cx="117.3" cy="115.4" r="0.95"/><circle cx="111.7" cy="117.4" r="0.95"/><circle cx="111.6" cy="121.9" r="0.95"/><circle cx="115.6" cy="116.7" r="0.95"/><circle cx="111.8" cy="110.6" r="0.95"/><circle cx="102.4" cy="121.9" r="0.95"/><circle cx="112.7" cy="108.5" r="0.95"/><circle cx="98.3" cy="113.8" r="0.95"/><circle cx="109.9" cy="111.8" r="0.95"/><circle cx="110.9" cy="125.9" r="0.95"/><circle cx="112.1" cy="109.7" r="0.95"/><circle cx="93.5" cy="107.6" r="0.95"/><circle cx="100.7" cy="119.5" r="0.95"/><circle cx="110.8" cy="114.3" r="0.95"/><circle cx="101.2" cy="109.3" r="0.95"/><circle cx="115.9" cy="133.7" r="0.95"/><circle cx="109.0" cy="120.1" r="0.95"/><circle cx="105.5" cy="109.8" r="0.95"/><circle cx="108.6" cy="106.7" r="0.95"/><circle cx="109.8" cy="107.5" r="0.95"/><circle cx="92.8" cy="110.4" r="0.95"/><circle cx="98.9" cy="107.4" r="0.95"/><circle cx="112.0" cy="123.7" r="0.95"/><circle cx="105.0" cy="111.6" r="0.95"/><circle cx="106.4" cy="113.6" r="0.95"/><circle cx="99.6" cy="117.1" r="0.95"/><circle cx="111.4" cy="124.0" r="0.95"/><circle cx="109.8" cy="107.9" r="0.95"/><circle cx="100.4" cy="119.6" r="0.95"/><circle cx="103.8" cy="109.9" r="0.95"/><circle cx="101.1" cy="115.7" r="0.95"/><circle cx="104.4" cy="113.2" r="0.95"/><circle cx="100.9" cy="118.2" r="0.95"/><circle cx="106.9" cy="121.6" r="0.95"/><circle cx="99.4" cy="115.7" r="0.95"/><circle cx="97.5" cy="118.4" r="0.95"/><circle cx="110.0" cy="119.8" r="0.95"/><circle cx="111.8" cy="116.6" r="0.95"/><circle cx="103.8" cy="112.4" r="0.95"/><circle cx="117.4" cy="124.9" r="0.95"/><circle cx="114.8" cy="128.7" r="0.95"/><circle cx="114.1" cy="122.0" r="0.95"/><circle cx="103.0" cy="120.4" r="0.95"/><circle cx="110.1" cy="116.4" r="0.95"/><circle cx="117.3" cy="127.1" r="0.95"/><circle cx="98.1" cy="118.0" r="0.95"/><circle cx="100.5" cy="106.5" r="0.95"/><circle cx="118.8" cy="131.8" r="0.95"/><circle cx="109.5" cy="108.5" r="0.95"/><circle cx="100.2" cy="113.3" r="0.95"/><circle cx="101.9" cy="115.9" r="0.95"/><circle cx="115.8" cy="108.5" r="0.95"/><circle cx="116.4" cy="114.3" r="0.95"/><circle cx="111.4" cy="111.3" r="0.95"/><circle cx="107.9" cy="124.5" r="0.95"/><circle cx="99.2" cy="110.7" r="0.95"/><circle cx="118.4" cy="124.5" r="0.95"/><circle cx="102.2" cy="122.1" r="0.95"/><circle cx="98.7" cy="113.4" r="0.95"/><circle cx="115.0" cy="123.4" r="0.95"/><circle cx="102.0" cy="111.0" r="0.95"/><circle cx="110.5" cy="110.3" r="0.95"/><circle cx="105.3" cy="123.8" r="0.95"/><circle cx="100.1" cy="111.6" r="0.95"/><circle cx="109.5" cy="115.0" r="0.95"/><circle cx="114.2" cy="112.3" r="0.95"/><circle cx="103.7" cy="118.4" r="0.95"/><circle cx="113.4" cy="120.5" r="0.95"/><circle cx="103.6" cy="120.8" r="0.95"/><circle cx="111.4" cy="113.1" r="0.95"/><circle cx="99.4" cy="111.8" r="0.95"/><circle cx="100.6" cy="115.0" r="0.95"/><circle cx="100.6" cy="108.0" r="0.95"/><circle cx="102.3" cy="117.1" r="0.95"/><circle cx="117.2" cy="133.8" r="0.95"/><circle cx="116.0" cy="118.1" r="0.95"/><circle cx="110.9" cy="112.6" r="0.95"/><circle cx="114.9" cy="108.7" r="0.95"/><circle cx="111.0" cy="129.1" r="0.95"/><circle cx="104.3" cy="119.9" r="0.95"/><circle cx="100.2" cy="120.7" r="0.95"/><circle cx="116.6" cy="130.3" r="0.95"/><circle cx="112.4" cy="124.0" r="0.95"/><circle cx="107.2" cy="118.4" r="0.95"/><circle cx="111.5" cy="126.5" r="0.95"/><circle cx="109.7" cy="124.4" r="0.95"/><circle cx="112.8" cy="120.6" r="0.95"/><circle cx="116.2" cy="119.6" r="0.95"/><circle cx="108.7" cy="110.2" r="0.95"/><circle cx="116.0" cy="123.9" r="0.95"/><circle cx="111.1" cy="110.1" r="0.95"/><circle cx="101.7" cy="109.6" r="0.95"/><circle cx="113.0" cy="118.5" r="0.95"/><circle cx="108.6" cy="126.6" r="0.95"/><circle cx="112.2" cy="108.8" r="0.95"/><circle cx="100.8" cy="120.4" r="0.95"/><circle cx="114.9" cy="116.0" r="0.95"/><circle cx="102.7" cy="116.0" r="0.95"/><circle cx="100.0" cy="118.0" r="0.95"/><circle cx="111.5" cy="124.7" r="0.95"/><circle cx="111.6" cy="112.7" r="0.95"/><circle cx="114.6" cy="118.8" r="0.95"/><circle cx="106.7" cy="114.6" r="0.95"/><circle cx="105.8" cy="107.8" r="0.95"/><circle cx="107.8" cy="123.2" r="0.95"/><circle cx="116.5" cy="108.2" r="0.95"/><circle cx="108.0" cy="123.1" r="0.95"/><circle cx="106.5" cy="110.2" r="0.95"/><circle cx="93.3" cy="109.7" r="0.95"/><circle cx="117.5" cy="130.5" r="0.95"/><circle cx="108.5" cy="124.9" r="0.95"/><circle cx="115.6" cy="107.7" r="0.95"/><circle cx="111.9" cy="116.1" r="0.95"/><circle cx="106.8" cy="120.0" r="0.95"/><circle cx="109.0" cy="120.5" r="0.95"/><circle cx="101.3" cy="110.0" r="0.95"/><circle cx="100.0" cy="111.4" r="0.95"/><circle cx="97.9" cy="117.9" r="0.95"/><circle cx="108.7" cy="114.9" r="0.95"/><circle cx="116.1" cy="108.8" r="0.95"/><circle cx="113.1" cy="123.6" r="0.95"/><circle cx="103.1" cy="106.4" r="0.95"/><circle cx="95.2" cy="109.7" r="0.95"/><circle cx="104.7" cy="111.1" r="0.95"/><circle cx="111.0" cy="112.8" r="0.95"/><circle cx="104.1" cy="124.6" r="0.95"/><circle cx="112.5" cy="132.2" r="0.95"/><circle cx="103.4" cy="111.4" r="0.95"/><circle cx="115.5" cy="125.9" r="0.95"/><circle cx="105.4" cy="117.7" r="0.95"/><circle cx="102.8" cy="110.5" r="0.95"/><circle cx="110.5" cy="110.5" r="0.95"/><circle cx="105.6" cy="117.8" r="0.95"/><circle cx="115.0" cy="118.6" r="0.95"/><circle cx="111.5" cy="113.0" r="0.95"/><circle cx="108.0" cy="107.6" r="0.95"/><circle cx="105.5" cy="121.7" r="0.95"/><circle cx="94.2" cy="113.1" r="0.95"/><circle cx="115.6" cy="125.8" r="0.95"/><circle cx="112.0" cy="120.9" r="0.95"/><circle cx="116.0" cy="131.3" r="0.95"/><circle cx="110.9" cy="107.8" r="0.95"/><circle cx="116.2" cy="109.6" r="0.95"/><circle cx="102.4" cy="120.0" r="0.95"/><circle cx="114.8" cy="124.1" r="0.95"/><circle cx="117.2" cy="126.3" r="0.95"/><circle cx="110.0" cy="122.4" r="0.95"/><circle cx="98.1" cy="106.5" r="0.95"/><circle cx="116.3" cy="133.5" r="0.95"/><circle cx="113.0" cy="117.4" r="0.95"/><circle cx="97.8" cy="110.0" r="0.95"/><circle cx="106.1" cy="106.7" r="0.95"/><circle cx="117.2" cy="124.2" r="0.95"/><circle cx="110.1" cy="113.3" r="0.95"/><circle cx="110.0" cy="112.3" r="0.95"/><circle cx="92.5" cy="109.6" r="0.95"/><circle cx="111.3" cy="122.6" r="0.95"/><circle cx="107.5" cy="109.2" r="0.95"/><circle cx="116.1" cy="125.8" r="0.95"/><circle cx="109.9" cy="115.8" r="0.95"/><circle cx="113.4" cy="110.7" r="0.95"/><circle cx="108.1" cy="110.4" r="0.95"/><circle cx="93.1" cy="106.6" r="0.95"/><circle cx="94.4" cy="116.0" r="0.95"/><circle cx="98.5" cy="106.9" r="0.95"/><circle cx="104.4" cy="106.8" r="0.95"/><circle cx="98.4" cy="108.3" r="0.95"/><circle cx="111.0" cy="118.2" r="0.95"/><circle cx="111.8" cy="119.0" r="0.95"/><circle cx="108.6" cy="125.1" r="0.95"/><circle cx="100.9" cy="110.4" r="0.95"/><circle cx="114.5" cy="112.7" r="0.95"/><circle cx="102.7" cy="119.2" r="0.95"/><circle cx="116.4" cy="134.4" r="0.95"/><circle cx="95.2" cy="112.5" r="0.95"/><circle cx="113.3" cy="121.2" r="0.95"/><circle cx="114.0" cy="106.8" r="0.95"/><circle cx="100.5" cy="114.1" r="0.95"/><circle cx="111.1" cy="129.2" r="0.95"/><circle cx="117.4" cy="132.5" r="0.95"/><circle cx="108.3" cy="115.9" r="0.95"/><circle cx="95.3" cy="116.4" r="0.95"/><circle cx="105.8" cy="116.8" r="0.95"/><circle cx="114.4" cy="116.7" r="0.95"/><circle cx="115.7" cy="134.2" r="0.95"/><circle cx="103.7" cy="120.0" r="0.95"/><circle cx="92.5" cy="109.8" r="0.95"/><circle cx="91.8" cy="110.2" r="0.95"/><circle cx="112.1" cy="129.7" r="0.95"/><circle cx="98.9" cy="119.7" r="0.95"/><circle cx="111.9" cy="120.2" r="0.95"/><circle cx="93.4" cy="115.0" r="0.95"/><circle cx="93.2" cy="108.0" r="0.95"/><circle cx="106.0" cy="117.4" r="0.95"/><circle cx="100.4" cy="113.0" r="0.95"/><circle cx="112.8" cy="114.4" r="0.95"/><circle cx="116.8" cy="130.4" r="0.95"/><circle cx="99.8" cy="116.8" r="0.95"/><circle cx="119.2" cy="135.0" r="0.95"/><circle cx="110.0" cy="121.6" r="0.95"/><circle cx="105.2" cy="109.9" r="0.95"/><circle cx="98.8" cy="112.5" r="0.95"/><circle cx="110.7" cy="123.0" r="0.95"/><circle cx="93.9" cy="112.2" r="0.95"/><circle cx="110.3" cy="118.4" r="0.95"/><circle cx="111.7" cy="106.5" r="0.95"/><circle cx="96.7" cy="114.5" r="0.95"/><circle cx="113.5" cy="127.6" r="0.95"/><circle cx="116.4" cy="126.1" r="0.95"/><circle cx="112.8" cy="124.4" r="0.95"/><circle cx="103.1" cy="117.7" r="0.95"/><circle cx="113.5" cy="122.9" r="0.95"/><circle cx="116.3" cy="129.1" r="0.95"/><circle cx="107.9" cy="123.6" r="0.95"/><circle cx="113.2" cy="118.9" r="0.95"/><circle cx="94.1" cy="109.6" r="0.95"/><circle cx="100.7" cy="115.0" r="0.95"/><circle cx="115.5" cy="110.2" r="0.95"/><circle cx="112.2" cy="127.2" r="0.95"/><circle cx="99.2" cy="119.6" r="0.95"/><circle cx="114.7" cy="132.7" r="0.95"/><circle cx="116.0" cy="115.1" r="0.95"/><circle cx="107.1" cy="123.2" r="0.95"/><circle cx="110.8" cy="122.1" r="0.95"/><circle cx="110.7" cy="108.7" r="0.95"/><circle cx="117.5" cy="129.8" r="0.95"/><circle cx="113.7" cy="123.3" r="0.95"/><circle cx="102.2" cy="117.3" r="0.95"/><circle cx="98.0" cy="108.6" r="0.95"/><circle cx="111.8" cy="127.9" r="0.95"/><circle cx="101.4" cy="122.9" r="0.95"/><circle cx="110.6" cy="127.0" r="0.95"/><circle cx="100.0" cy="120.2" r="0.95"/><circle cx="111.7" cy="120.2" r="0.95"/><circle cx="101.0" cy="118.5" r="0.95"/><circle cx="115.6" cy="133.8" r="0.95"/><circle cx="116.5" cy="132.9" r="0.95"/><circle cx="105.9" cy="119.0" r="0.95"/><circle cx="101.6" cy="116.5" r="0.95"/><circle cx="115.8" cy="125.9" r="0.95"/><circle cx="115.7" cy="117.3" r="0.95"/><circle cx="111.9" cy="123.8" r="0.95"/><circle cx="99.0" cy="114.5" r="0.95"/><circle cx="106.4" cy="107.6" r="0.95"/><circle cx="110.1" cy="107.8" r="0.95"/><circle cx="103.3" cy="111.5" r="0.95"/><circle cx="99.2" cy="114.4" r="0.95"/><circle cx="97.4" cy="113.5" r="0.95"/><circle cx="110.7" cy="107.6" r="0.95"/><circle cx="113.6" cy="127.9" r="0.95"/><circle cx="110.9" cy="120.7" r="0.95"/><circle cx="96.1" cy="112.7" r="0.95"/><circle cx="103.1" cy="108.6" r="0.95"/><circle cx="113.5" cy="119.3" r="0.95"/><circle cx="101.4" cy="119.3" r="0.95"/><circle cx="94.5" cy="115.2" r="0.95"/><circle cx="118.5" cy="132.5" r="0.95"/><circle cx="100.3" cy="120.7" r="0.95"/><circle cx="116.4" cy="132.7" r="0.95"/><circle cx="106.5" cy="116.5" r="0.95"/><circle cx="102.7" cy="108.4" r="0.95"/><circle cx="112.6" cy="121.0" r="0.95"/><circle cx="113.8" cy="122.4" r="0.95"/><circle cx="101.0" cy="116.1" r="0.95"/><circle cx="101.8" cy="109.4" r="0.95"/><circle cx="99.7" cy="118.7" r="0.95"/><circle cx="117.0" cy="114.4" r="0.95"/><circle cx="103.3" cy="124.5" r="0.95"/><circle cx="115.3" cy="124.5" r="0.95"/><circle cx="116.7" cy="124.5" r="0.95"/><circle cx="99.6" cy="118.8" r="0.95"/><circle cx="117.2" cy="114.4" r="0.95"/><circle cx="114.0" cy="118.3" r="0.95"/><circle cx="114.3" cy="116.0" r="0.95"/><circle cx="108.8" cy="126.4" r="0.95"/><circle cx="112.2" cy="119.5" r="0.95"/><circle cx="112.5" cy="114.8" r="0.95"/><circle cx="114.5" cy="114.3" r="0.95"/><circle cx="100.9" cy="106.3" r="0.95"/><circle cx="116.5" cy="115.1" r="0.95"/><circle cx="102.4" cy="120.3" r="0.95"/><circle cx="114.2" cy="117.4" r="0.95"/><circle cx="103.3" cy="111.0" r="0.95"/><circle cx="96.9" cy="117.0" r="0.95"/><circle cx="100.0" cy="117.1" r="0.95"/><circle cx="116.2" cy="123.1" r="0.95"/><circle cx="114.4" cy="121.3" r="0.95"/><circle cx="116.2" cy="134.3" r="0.95"/><circle cx="108.7" cy="116.1" r="0.95"/><circle cx="118.8" cy="132.9" r="0.95"/><circle cx="90.3" cy="110.9" r="0.95"/><circle cx="97.6" cy="112.8" r="0.95"/><circle cx="113.7" cy="111.2" r="0.95"/><circle cx="114.8" cy="116.3" r="0.95"/><circle cx="107.4" cy="122.7" r="0.95"/><circle cx="114.0" cy="119.3" r="0.95"/><circle cx="99.9" cy="120.5" r="0.95"/><circle cx="109.5" cy="110.0" r="0.95"/><circle cx="101.5" cy="112.1" r="0.95"/><circle cx="109.8" cy="119.3" r="0.95"/><circle cx="107.4" cy="119.6" r="0.95"/><circle cx="115.5" cy="130.1" r="0.95"/><circle cx="110.9" cy="124.1" r="0.95"/><circle cx="110.3" cy="114.2" r="0.95"/><circle cx="101.6" cy="106.5" r="0.95"/><circle cx="102.5" cy="121.4" r="0.95"/><circle cx="116.2" cy="125.5" r="0.95"/><circle cx="115.9" cy="131.3" r="0.95"/><circle cx="95.3" cy="113.4" r="0.95"/><circle cx="111.4" cy="114.6" r="0.95"/><circle cx="110.8" cy="118.9" r="0.95"/><circle cx="109.0" cy="110.3" r="0.95"/><circle cx="109.3" cy="116.3" r="0.95"/><circle cx="104.7" cy="121.7" r="0.95"/><circle cx="116.9" cy="124.2" r="0.95"/><circle cx="93.5" cy="106.4" r="0.95"/><circle cx="112.2" cy="108.1" r="0.95"/><circle cx="104.0" cy="123.8" r="0.95"/><circle cx="112.9" cy="128.1" r="0.95"/><circle cx="118.4" cy="129.2" r="0.95"/><circle cx="97.8" cy="110.2" r="0.95"/><circle cx="96.4" cy="113.4" r="0.95"/><circle cx="114.0" cy="106.8" r="0.95"/><circle cx="117.0" cy="130.9" r="0.95"/><circle cx="111.5" cy="118.9" r="0.95"/><circle cx="109.8" cy="127.7" r="0.95"/><circle cx="101.1" cy="112.6" r="0.95"/><circle cx="105.5" cy="108.1" r="0.95"/><circle cx="113.7" cy="122.9" r="0.95"/><circle cx="102.6" cy="108.7" r="0.95"/><circle cx="118.7" cy="126.3" r="0.95"/><circle cx="105.5" cy="115.8" r="0.95"/><circle cx="99.4" cy="116.4" r="0.95"/><circle cx="102.0" cy="110.1" r="0.95"/><circle cx="106.0" cy="113.4" r="0.95"/><circle cx="106.5" cy="114.3" r="0.95"/><circle cx="105.1" cy="121.0" r="0.95"/><circle cx="93.1" cy="113.7" r="0.95"/><circle cx="115.1" cy="123.2" r="0.95"/><circle cx="112.4" cy="121.5" r="0.95"/><circle cx="111.8" cy="119.9" r="0.95"/><circle cx="111.6" cy="120.5" r="0.95"/><circle cx="106.7" cy="122.8" r="0.95"/><circle cx="106.4" cy="118.6" r="0.95"/><circle cx="117.2" cy="128.3" r="0.95"/><circle cx="112.6" cy="127.9" r="0.95"/><circle cx="110.7" cy="127.1" r="0.95"/><circle cx="107.2" cy="111.9" r="0.95"/><circle cx="90.3" cy="109.9" r="0.95"/><circle cx="98.5" cy="118.7" r="0.95"/><circle cx="111.5" cy="130.3" r="0.95"/><circle cx="108.3" cy="123.4" r="0.95"/><circle cx="112.2" cy="113.4" r="0.95"/><circle cx="100.4" cy="117.6" r="0.95"/><circle cx="108.7" cy="128.5" r="0.95"/><circle cx="117.0" cy="115.2" r="0.95"/><circle cx="95.8" cy="113.2" r="0.95"/><circle cx="107.8" cy="124.1" r="0.95"/><circle cx="110.1" cy="112.3" r="0.95"/><circle cx="109.7" cy="129.1" r="0.95"/><circle cx="102.3" cy="107.2" r="0.95"/><circle cx="96.5" cy="113.2" r="0.95"/><circle cx="101.6" cy="113.9" r="0.95"/><circle cx="115.2" cy="124.5" r="0.95"/><circle cx="98.2" cy="106.9" r="0.95"/><circle cx="100.4" cy="119.1" r="0.95"/><circle cx="115.6" cy="110.3" r="0.95"/><circle cx="113.8" cy="107.6" r="0.95"/><circle cx="105.7" cy="124.4" r="0.95"/><circle cx="110.7" cy="129.0" r="0.95"/><circle cx="107.6" cy="122.9" r="0.95"/><circle cx="93.5" cy="111.9" r="0.95"/><circle cx="94.9" cy="111.1" r="0.95"/><circle cx="112.1" cy="122.3" r="0.95"/><circle cx="93.5" cy="114.3" r="0.95"/><circle cx="100.5" cy="118.4" r="0.95"/><circle cx="94.2" cy="112.3" r="0.95"/><circle cx="115.5" cy="131.0" r="0.95"/><circle cx="106.1" cy="111.8" r="0.95"/><circle cx="110.4" cy="110.1" r="0.95"/><circle cx="102.0" cy="122.3" r="0.95"/><circle cx="115.4" cy="127.0" r="0.95"/><circle cx="116.3" cy="110.1" r="0.95"/><circle cx="116.9" cy="131.5" r="0.95"/><circle cx="102.0" cy="110.1" r="0.95"/><circle cx="97.1" cy="116.3" r="0.95"/><circle cx="94.5" cy="111.5" r="0.95"/><circle cx="115.5" cy="122.8" r="0.95"/><circle cx="110.6" cy="118.5" r="0.95"/><circle cx="111.0" cy="107.5" r="0.95"/><circle cx="99.9" cy="117.7" r="0.95"/><circle cx="106.7" cy="126.4" r="0.95"/><circle cx="107.5" cy="119.1" r="0.95"/><circle cx="105.7" cy="117.5" r="0.95"/><circle cx="108.1" cy="108.5" r="0.95"/><circle cx="107.6" cy="112.0" r="0.95"/><circle cx="92.8" cy="108.8" r="0.95"/><circle cx="117.2" cy="117.5" r="0.95"/><circle cx="114.1" cy="118.8" r="0.95"/><circle cx="103.7" cy="113.8" r="0.95"/><circle cx="113.1" cy="108.2" r="0.95"/><circle cx="104.9" cy="106.6" r="0.95"/><circle cx="102.1" cy="119.1" r="0.95"/><circle cx="112.5" cy="128.6" r="0.95"/><circle cx="95.1" cy="109.5" r="0.95"/><circle cx="104.9" cy="112.0" r="0.95"/><circle cx="96.0" cy="106.3" r="0.95"/><circle cx="107.2" cy="114.9" r="0.95"/><circle cx="107.4" cy="107.3" r="0.95"/><circle cx="105.4" cy="124.9" r="0.95"/><circle cx="115.8" cy="127.0" r="0.95"/><circle cx="110.1" cy="118.3" r="0.95"/><circle cx="97.9" cy="107.6" r="0.95"/><circle cx="95.1" cy="114.2" r="0.95"/><circle cx="110.1" cy="124.5" r="0.95"/><circle cx="99.5" cy="118.8" r="0.95"/><circle cx="90.7" cy="110.5" r="0.95"/><circle cx="115.3" cy="133.1" r="0.95"/><circle cx="114.3" cy="126.3" r="0.95"/><circle cx="118.0" cy="133.0" r="0.95"/><circle cx="116.5" cy="134.0" r="0.95"/><circle cx="111.0" cy="107.6" r="0.95"/><circle cx="99.9" cy="106.3" r="0.95"/><circle cx="116.4" cy="127.3" r="0.95"/><circle cx="112.5" cy="107.5" r="0.95"/><circle cx="112.4" cy="118.1" r="0.95"/><circle cx="117.6" cy="122.4" r="0.95"/><circle cx="104.3" cy="108.8" r="0.95"/><circle cx="104.0" cy="108.1" r="0.95"/><circle cx="115.2" cy="118.2" r="0.95"/><circle cx="101.1" cy="110.2" r="0.95"/><circle cx="104.4" cy="106.9" r="0.95"/><circle cx="107.7" cy="124.4" r="0.95"/><circle cx="112.7" cy="127.0" r="0.95"/><circle cx="110.4" cy="126.1" r="0.95"/><circle cx="103.1" cy="108.7" r="0.95"/><circle cx="111.4" cy="119.1" r="0.95"/><circle cx="103.1" cy="109.9" r="0.95"/><circle cx="106.2" cy="119.0" r="0.95"/><circle cx="107.2" cy="111.5" r="0.95"/><circle cx="108.0" cy="119.0" r="0.95"/><circle cx="116.8" cy="132.8" r="0.95"/><circle cx="109.4" cy="117.3" r="0.95"/><circle cx="116.0" cy="125.7" r="0.95"/><circle cx="111.2" cy="106.4" r="0.95"/><circle cx="105.6" cy="115.7" r="0.95"/><circle cx="113.7" cy="114.8" r="0.95"/><circle cx="112.6" cy="123.9" r="0.95"/><circle cx="113.4" cy="124.9" r="0.95"/><circle cx="106.3" cy="122.9" r="0.95"/><circle cx="110.0" cy="123.4" r="0.95"/><circle cx="110.0" cy="110.7" r="0.95"/><circle cx="109.4" cy="120.0" r="0.95"/><circle cx="107.2" cy="118.1" r="0.95"/><circle cx="101.0" cy="112.5" r="0.95"/><circle cx="108.0" cy="116.5" r="0.95"/><circle cx="107.5" cy="111.3" r="0.95"/><circle cx="112.7" cy="132.1" r="0.95"/><circle cx="110.0" cy="127.6" r="0.95"/><circle cx="114.1" cy="124.4" r="0.95"/><circle cx="119.0" cy="132.1" r="0.95"/><circle cx="103.8" cy="107.1" r="0.95"/><circle cx="107.6" cy="114.8" r="0.95"/><circle cx="104.2" cy="116.6" r="0.95"/><circle cx="117.1" cy="132.7" r="0.95"/><circle cx="104.2" cy="108.3" r="0.95"/><circle cx="110.8" cy="123.5" r="0.95"/><circle cx="103.1" cy="116.8" r="0.95"/><circle cx="99.8" cy="120.3" r="0.95"/><circle cx="104.6" cy="123.0" r="0.95"/><circle cx="111.2" cy="113.1" r="0.95"/><circle cx="112.7" cy="122.4" r="0.95"/><circle cx="105.6" cy="116.5" r="0.95"/><circle cx="108.1" cy="107.1" r="0.95"/><circle cx="109.6" cy="117.7" r="0.95"/><circle cx="112.4" cy="120.9" r="0.95"/><circle cx="108.8" cy="115.3" r="0.95"/><circle cx="104.9" cy="120.5" r="0.95"/><circle cx="110.1" cy="126.4" r="0.95"/><circle cx="102.3" cy="123.0" r="0.95"/><circle cx="107.4" cy="122.5" r="0.95"/><circle cx="103.9" cy="121.0" r="0.95"/><circle cx="112.3" cy="113.9" r="0.95"/><circle cx="112.6" cy="123.1" r="0.95"/><circle cx="110.8" cy="117.1" r="0.95"/><circle cx="109.1" cy="107.3" r="0.95"/><circle cx="113.2" cy="122.0" r="0.95"/><circle cx="112.0" cy="112.2" r="0.95"/><circle cx="104.4" cy="114.0" r="0.95"/><circle cx="114.6" cy="123.4" r="0.95"/><circle cx="117.0" cy="123.8" r="0.95"/><circle cx="117.0" cy="114.0" r="0.95"/><circle cx="106.8" cy="120.9" r="0.95"/><circle cx="109.6" cy="127.7" r="0.95"/><circle cx="116.4" cy="108.8" r="0.95"/><circle cx="105.1" cy="117.8" r="0.95"/><circle cx="100.0" cy="109.1" r="0.95"/><circle cx="112.4" cy="126.6" r="0.95"/><circle cx="108.4" cy="108.9" r="0.95"/><circle cx="101.6" cy="116.4" r="0.95"/><circle cx="103.5" cy="107.9" r="0.95"/><circle cx="115.2" cy="106.5" r="0.95"/><circle cx="106.5" cy="120.1" r="0.95"/><circle cx="105.3" cy="125.0" r="0.95"/><circle cx="108.8" cy="115.4" r="0.95"/><circle cx="117.4" cy="122.5" r="0.95"/><circle cx="104.5" cy="124.7" r="0.95"/><circle cx="112.9" cy="130.7" r="0.95"/><circle cx="100.8" cy="107.8" r="0.95"/><circle cx="109.1" cy="112.8" r="0.95"/><circle cx="112.8" cy="122.2" r="0.95"/><circle cx="106.0" cy="115.4" r="0.95"/><circle cx="116.7" cy="111.7" r="0.95"/><circle cx="102.7" cy="120.7" r="0.95"/><circle cx="115.9" cy="110.9" r="0.95"/><circle cx="103.4" cy="120.9" r="0.95"/><circle cx="103.7" cy="112.9" r="0.95"/><circle cx="112.4" cy="122.0" r="0.95"/><circle cx="110.4" cy="119.5" r="0.95"/><circle cx="114.0" cy="111.9" r="0.95"/><circle cx="107.6" cy="112.0" r="0.95"/><circle cx="115.7" cy="114.4" r="0.95"/><circle cx="108.0" cy="111.8" r="0.95"/><circle cx="113.9" cy="132.8" r="0.95"/><circle cx="113.8" cy="125.3" r="0.95"/><circle cx="115.4" cy="116.0" r="0.95"/><circle cx="104.8" cy="112.9" r="0.95"/><circle cx="102.5" cy="111.0" r="0.95"/><circle cx="111.1" cy="112.2" r="0.95"/><circle cx="113.0" cy="121.5" r="0.95"/><circle cx="110.8" cy="118.3" r="0.95"/><circle cx="115.1" cy="110.5" r="0.95"/><circle cx="109.1" cy="123.6" r="0.95"/><circle cx="113.2" cy="115.8" r="0.95"/><circle cx="106.6" cy="127.2" r="0.95"/><circle cx="107.5" cy="123.6" r="0.95"/><circle cx="99.7" cy="120.5" r="0.95"/><circle cx="117.2" cy="127.2" r="0.95"/><circle cx="114.0" cy="112.4" r="0.95"/><circle cx="112.3" cy="117.4" r="0.95"/><circle cx="103.8" cy="115.0" r="0.95"/><circle cx="109.3" cy="124.9" r="0.95"/><circle cx="117.4" cy="116.5" r="0.95"/><circle cx="105.7" cy="115.7" r="0.95"/><circle cx="116.9" cy="121.5" r="0.95"/><circle cx="115.2" cy="129.2" r="0.95"/><circle cx="108.4" cy="128.5" r="0.95"/><circle cx="115.2" cy="117.4" r="0.95"/><circle cx="106.8" cy="123.9" r="0.95"/><circle cx="112.9" cy="126.2" r="0.95"/><circle cx="106.6" cy="123.3" r="0.95"/><circle cx="108.1" cy="123.5" r="0.95"/><circle cx="108.4" cy="116.0" r="0.95"/><circle cx="100.8" cy="121.1" r="0.95"/><circle cx="102.2" cy="117.2" r="0.95"/><circle cx="105.8" cy="115.2" r="0.95"/><circle cx="114.8" cy="123.3" r="0.95"/><circle cx="103.0" cy="116.6" r="0.95"/><circle cx="115.3" cy="131.5" r="0.95"/><circle cx="106.2" cy="119.2" r="0.95"/><circle cx="112.5" cy="125.6" r="0.95"/><circle cx="106.2" cy="113.5" r="0.95"/><circle cx="108.7" cy="122.3" r="0.95"/><circle cx="108.4" cy="126.7" r="0.95"/><circle cx="102.1" cy="119.6" r="0.95"/><circle cx="113.1" cy="119.6" r="0.95"/><circle cx="108.9" cy="115.1" r="0.95"/><circle cx="110.4" cy="114.3" r="0.95"/><circle cx="106.5" cy="123.5" r="0.95"/><circle cx="115.0" cy="109.1" r="0.95"/><circle cx="104.4" cy="118.4" r="0.95"/><circle cx="113.8" cy="119.4" r="0.95"/><circle cx="117.3" cy="127.7" r="0.95"/><circle cx="100.9" cy="110.8" r="0.95"/><circle cx="100.9" cy="114.6" r="0.95"/><circle cx="102.3" cy="114.0" r="0.95"/><circle cx="116.6" cy="119.9" r="0.95"/><circle cx="114.8" cy="128.8" r="0.95"/><circle cx="113.2" cy="123.9" r="0.95"/><circle cx="108.2" cy="126.1" r="0.95"/><circle cx="116.7" cy="124.1" r="0.95"/><circle cx="110.2" cy="110.8" r="0.95"/><circle cx="112.7" cy="131.0" r="0.95"/><circle cx="116.0" cy="125.6" r="0.95"/><circle cx="115.8" cy="116.0" r="0.95"/><circle cx="113.1" cy="119.0" r="0.95"/><circle cx="105.7" cy="107.8" r="0.95"/><circle cx="100.5" cy="120.4" r="0.95"/><circle cx="111.8" cy="111.5" r="0.95"/><circle cx="114.6" cy="119.5" r="0.95"/><circle cx="118.1" cy="127.3" r="0.95"/><circle cx="104.6" cy="121.9" r="0.95"/><circle cx="117.0" cy="110.8" r="0.95"/><circle cx="106.6" cy="115.2" r="0.95"/><circle cx="106.3" cy="116.2" r="0.95"/><circle cx="116.3" cy="130.1" r="0.95"/><circle cx="110.6" cy="115.5" r="0.95"/><circle cx="104.5" cy="119.9" r="0.95"/><circle cx="105.5" cy="117.9" r="0.95"/><circle cx="100.9" cy="116.5" r="0.95"/><circle cx="103.0" cy="118.7" r="0.95"/><circle cx="102.5" cy="122.1" r="0.95"/><circle cx="104.1" cy="116.0" r="0.95"/><circle cx="114.7" cy="109.7" r="0.95"/><circle cx="110.0" cy="125.0" r="0.95"/><circle cx="104.6" cy="120.1" r="0.95"/><circle cx="118.7" cy="134.1" r="0.95"/><circle cx="114.1" cy="125.8" r="0.95"/><circle cx="111.0" cy="127.6" r="0.95"/><circle cx="113.5" cy="120.5" r="0.95"/><circle cx="105.0" cy="122.0" r="0.95"/><circle cx="117.4" cy="133.3" r="0.95"/><circle cx="106.9" cy="115.1" r="0.95"/><circle cx="102.9" cy="106.1" r="0.95"/><circle cx="107.6" cy="117.7" r="0.95"/><circle cx="109.1" cy="112.7" r="0.95"/><circle cx="115.0" cy="113.1" r="0.95"/><circle cx="112.7" cy="131.8" r="0.95"/><circle cx="107.1" cy="120.1" r="0.95"/><circle cx="100.8" cy="118.4" r="0.95"/><circle cx="113.8" cy="117.1" r="0.95"/><circle cx="110.3" cy="108.9" r="0.95"/><circle cx="103.2" cy="117.4" r="0.95"/><circle cx="106.8" cy="107.4" r="0.95"/><circle cx="107.5" cy="124.3" r="0.95"/><circle cx="113.8" cy="131.2" r="0.95"/><circle cx="113.6" cy="128.8" r="0.95"/><circle cx="115.3" cy="133.5" r="0.95"/><circle cx="104.7" cy="111.1" r="0.95"/><circle cx="110.6" cy="128.2" r="0.95"/><circle cx="112.9" cy="123.0" r="0.95"/><circle cx="101.6" cy="109.5" r="0.95"/><circle cx="113.5" cy="128.3" r="0.95"/><circle cx="107.5" cy="114.7" r="0.95"/><circle cx="109.5" cy="106.5" r="0.95"/><circle cx="119.1" cy="135.5" r="0.95"/><circle cx="111.9" cy="131.5" r="0.95"/><circle cx="117.2" cy="114.5" r="0.95"/><circle cx="100.2" cy="108.0" r="0.95"/><circle cx="101.4" cy="108.0" r="0.95"/><circle cx="109.2" cy="119.9" r="0.95"/><circle cx="102.4" cy="120.7" r="0.95"/><circle cx="114.3" cy="118.6" r="0.95"/><circle cx="117.3" cy="131.7" r="0.95"/><circle cx="113.9" cy="117.3" r="0.95"/><circle cx="116.9" cy="125.4" r="0.95"/><circle cx="108.2" cy="110.7" r="0.95"/><circle cx="103.9" cy="124.3" r="0.95"/><circle cx="116.1" cy="115.8" r="0.95"/><circle cx="114.4" cy="123.0" r="0.95"/><circle cx="103.6" cy="123.9" r="0.95"/><circle cx="101.5" cy="109.8" r="0.95"/><circle cx="112.6" cy="130.8" r="0.95"/><circle cx="104.3" cy="116.7" r="0.95"/><circle cx="100.0" cy="109.0" r="0.95"/><circle cx="100.7" cy="119.6" r="0.95"/><circle cx="105.9" cy="120.3" r="0.95"/><circle cx="109.0" cy="109.8" r="0.95"/><circle cx="117.1" cy="131.3" r="0.95"/><circle cx="112.6" cy="110.9" r="0.95"/><circle cx="107.9" cy="117.8" r="0.95"/><circle cx="105.5" cy="110.5" r="0.95"/><circle cx="113.2" cy="131.5" r="0.95"/><circle cx="108.6" cy="115.6" r="0.95"/><circle cx="113.8" cy="125.8" r="0.95"/><circle cx="117.5" cy="118.8" r="0.95"/><circle cx="111.4" cy="112.2" r="0.95"/><circle cx="111.8" cy="106.5" r="0.95"/><circle cx="115.3" cy="131.4" r="0.95"/><circle cx="104.1" cy="113.9" r="0.95"/><circle cx="110.6" cy="109.2" r="0.95"/><circle cx="114.6" cy="125.6" r="0.95"/><circle cx="102.2" cy="115.5" r="0.95"/><circle cx="100.9" cy="120.5" r="0.95"/><circle cx="104.3" cy="123.4" r="0.95"/><circle cx="112.2" cy="116.2" r="0.95"/><circle cx="117.1" cy="114.0" r="0.95"/><circle cx="117.4" cy="116.9" r="0.95"/><circle cx="112.0" cy="108.4" r="0.95"/><circle cx="114.1" cy="116.2" r="0.95"/><circle cx="113.5" cy="109.6" r="0.95"/><circle cx="107.8" cy="109.8" r="0.95"/><circle cx="114.2" cy="131.8" r="0.95"/><circle cx="114.0" cy="128.1" r="0.95"/><circle cx="117.0" cy="123.1" r="0.95"/><circle cx="102.6" cy="123.0" r="0.95"/><circle cx="101.5" cy="108.7" r="0.95"/><circle cx="116.4" cy="122.8" r="0.95"/><circle cx="116.7" cy="107.8" r="0.95"/><circle cx="116.4" cy="113.4" r="0.95"/><circle cx="110.4" cy="120.0" r="0.95"/><circle cx="113.4" cy="117.2" r="0.95"/><circle cx="118.7" cy="130.2" r="0.95"/><circle cx="117.2" cy="112.5" r="0.95"/><circle cx="107.8" cy="109.6" r="0.95"/><circle cx="104.6" cy="123.7" r="0.95"/><circle cx="103.7" cy="109.6" r="0.95"/><circle cx="112.2" cy="107.4" r="0.95"/><circle cx="104.8" cy="115.3" r="0.95"/><circle cx="113.1" cy="109.9" r="0.95"/><circle cx="111.7" cy="118.7" r="0.95"/><circle cx="102.6" cy="119.8" r="0.95"/><circle cx="103.6" cy="109.8" r="0.95"/><circle cx="102.4" cy="112.2" r="0.95"/><circle cx="118.7" cy="131.9" r="0.95"/><circle cx="110.7" cy="127.3" r="0.95"/><circle cx="112.6" cy="127.8" r="0.95"/><circle cx="118.4" cy="125.6" r="0.95"/><circle cx="99.9" cy="112.8" r="0.95"/><circle cx="117.0" cy="115.3" r="0.95"/><circle cx="102.2" cy="112.7" r="0.95"/><circle cx="104.4" cy="111.1" r="0.95"/><circle cx="113.8" cy="115.9" r="0.95"/><circle cx="115.8" cy="107.3" r="0.95"/><circle cx="118.7" cy="126.0" r="0.95"/><circle cx="104.4" cy="119.6" r="0.95"/><circle cx="114.7" cy="126.3" r="0.95"/><circle cx="115.4" cy="112.2" r="0.95"/><circle cx="103.0" cy="106.3" r="0.95"/><circle cx="102.4" cy="108.3" r="0.95"/><circle cx="111.0" cy="116.1" r="0.95"/><circle cx="114.8" cy="121.9" r="0.95"/><circle cx="114.8" cy="107.6" r="0.95"/><circle cx="118.7" cy="129.9" r="0.95"/><circle cx="106.2" cy="111.3" r="0.95"/><circle cx="105.5" cy="106.8" r="0.95"/><circle cx="105.6" cy="116.4" r="0.95"/><circle cx="103.9" cy="113.5" r="0.95"/><circle cx="104.5" cy="122.8" r="0.95"/><circle cx="113.6" cy="110.2" r="0.95"/><circle cx="103.0" cy="112.1" r="0.95"/><circle cx="112.6" cy="113.7" r="0.95"/><circle cx="115.3" cy="128.6" r="0.95"/><circle cx="105.9" cy="117.2" r="0.95"/><circle cx="104.0" cy="111.3" r="0.95"/><circle cx="103.0" cy="122.2" r="0.95"/><circle cx="112.8" cy="129.0" r="0.95"/><circle cx="112.4" cy="123.4" r="0.95"/><circle cx="112.1" cy="110.4" r="0.95"/><circle cx="112.7" cy="109.2" r="0.95"/><circle cx="112.4" cy="111.8" r="0.95"/><circle cx="116.0" cy="117.4" r="0.95"/><circle cx="104.7" cy="118.4" r="0.95"/><circle cx="115.8" cy="127.5" r="0.95"/><circle cx="102.6" cy="117.6" r="0.95"/><circle cx="115.3" cy="109.1" r="0.95"/><circle cx="116.5" cy="133.5" r="0.95"/><circle cx="106.4" cy="125.1" r="0.95"/><circle cx="113.1" cy="119.4" r="0.95"/><circle cx="101.0" cy="113.8" r="0.95"/><circle cx="117.3" cy="134.6" r="0.95"/><circle cx="103.3" cy="119.6" r="0.95"/><circle cx="104.1" cy="120.7" r="0.95"/><circle cx="109.0" cy="127.7" r="0.95"/><circle cx="115.4" cy="131.5" r="0.95"/><circle cx="109.8" cy="110.8" r="0.95"/><circle cx="110.4" cy="125.1" r="0.95"/><circle cx="108.6" cy="121.9" r="0.95"/><circle cx="116.0" cy="116.7" r="0.95"/><circle cx="110.0" cy="119.9" r="0.95"/><circle cx="117.0" cy="124.9" r="0.95"/><circle cx="115.1" cy="121.8" r="0.95"/><circle cx="109.4" cy="128.8" r="0.95"/><circle cx="117.0" cy="122.8" r="0.95"/><circle cx="107.0" cy="112.9" r="0.95"/><circle cx="108.6" cy="122.7" r="0.95"/><circle cx="115.7" cy="122.7" r="0.95"/><circle cx="102.8" cy="121.0" r="0.95"/><circle cx="114.6" cy="125.0" r="0.95"/><circle cx="111.6" cy="126.4" r="0.95"/><circle cx="101.0" cy="111.7" r="0.95"/><circle cx="114.6" cy="114.0" r="0.95"/><circle cx="111.2" cy="130.4" r="0.95"/><circle cx="109.0" cy="110.1" r="0.95"/><circle cx="114.8" cy="117.6" r="0.95"/><circle cx="111.7" cy="130.5" r="0.95"/><circle cx="99.8" cy="109.7" r="0.95"/><circle cx="106.9" cy="114.2" r="0.95"/><circle cx="113.0" cy="109.0" r="0.95"/><circle cx="117.9" cy="127.4" r="0.95"/><circle cx="117.5" cy="128.2" r="0.95"/><circle cx="114.5" cy="129.5" r="0.95"/><circle cx="109.7" cy="127.0" r="0.95"/><circle cx="110.4" cy="113.7" r="0.95"/><circle cx="109.3" cy="123.5" r="0.95"/><circle cx="107.9" cy="124.4" r="0.95"/><circle cx="113.7" cy="116.2" r="0.95"/><circle cx="112.8" cy="116.1" r="0.95"/><circle cx="117.5" cy="119.4" r="0.95"/><circle cx="108.1" cy="127.7" r="0.95"/><circle cx="107.0" cy="111.0" r="0.95"/><circle cx="101.2" cy="117.3" r="0.95"/><circle cx="104.9" cy="123.6" r="0.95"/><circle cx="111.9" cy="123.2" r="0.95"/><circle cx="116.4" cy="131.0" r="0.95"/><circle cx="116.3" cy="122.3" r="0.95"/><circle cx="115.0" cy="123.6" r="0.95"/><circle cx="104.0" cy="108.2" r="0.95"/><circle cx="111.8" cy="113.5" r="0.95"/><circle cx="109.4" cy="113.9" r="0.95"/><circle cx="104.8" cy="108.5" r="0.95"/><circle cx="115.9" cy="108.4" r="0.95"/><circle cx="107.6" cy="123.0" r="0.95"/><circle cx="118.2" cy="129.5" r="0.95"/><circle cx="104.9" cy="122.9" r="0.95"/><circle cx="106.6" cy="121.6" r="0.95"/><circle cx="108.6" cy="107.9" r="0.95"/><circle cx="112.1" cy="106.6" r="0.95"/><circle cx="116.4" cy="120.6" r="0.95"/><circle cx="110.5" cy="109.8" r="0.95"/><circle cx="114.3" cy="119.2" r="0.95"/><circle cx="110.1" cy="118.1" r="0.95"/><circle cx="113.3" cy="107.9" r="0.95"/><circle cx="100.2" cy="110.1" r="0.95"/><circle cx="105.3" cy="123.0" r="0.95"/><circle cx="105.7" cy="110.9" r="0.95"/><circle cx="106.5" cy="121.9" r="0.95"/><circle cx="117.3" cy="119.0" r="0.95"/><circle cx="101.7" cy="111.3" r="0.95"/><circle cx="112.3" cy="126.6" r="0.95"/><circle cx="102.0" cy="116.0" r="0.95"/><circle cx="117.9" cy="128.1" r="0.95"/><circle cx="113.3" cy="107.1" r="0.95"/><circle cx="103.3" cy="122.9" r="0.95"/><circle cx="103.6" cy="115.3" r="0.95"/><circle cx="117.0" cy="116.8" r="0.95"/><circle cx="105.0" cy="123.4" r="0.95"/><circle cx="107.5" cy="125.9" r="0.95"/><circle cx="111.4" cy="129.6" r="0.95"/><circle cx="109.2" cy="114.4" r="0.95"/><circle cx="108.9" cy="112.9" r="0.95"/><circle cx="114.8" cy="122.0" r="0.95"/><circle cx="113.0" cy="124.4" r="0.95"/><circle cx="102.4" cy="108.3" r="0.95"/><circle cx="108.4" cy="109.6" r="0.95"/><circle cx="116.1" cy="128.1" r="0.95"/><circle cx="103.3" cy="108.4" r="0.95"/><circle cx="103.5" cy="117.3" r="0.95"/><circle cx="118.0" cy="121.4" r="0.95"/><circle cx="107.4" cy="106.2" r="0.95"/><circle cx="116.5" cy="107.2" r="0.95"/><circle cx="113.2" cy="128.9" r="0.95"/><circle cx="117.7" cy="119.0" r="0.95"/><circle cx="118.1" cy="124.9" r="0.95"/><circle cx="108.6" cy="110.4" r="0.95"/><circle cx="115.3" cy="108.1" r="0.95"/><circle cx="109.2" cy="107.0" r="0.95"/><circle cx="111.3" cy="108.9" r="0.95"/><circle cx="102.7" cy="120.1" r="0.95"/><circle cx="117.6" cy="118.2" r="0.95"/><circle cx="115.0" cy="110.9" r="0.95"/><circle cx="107.8" cy="114.5" r="0.95"/><circle cx="112.9" cy="122.2" r="0.95"/><circle cx="109.4" cy="110.8" r="0.95"/><circle cx="106.2" cy="114.9" r="0.95"/><circle cx="110.0" cy="109.5" r="0.95"/><circle cx="103.6" cy="121.4" r="0.95"/><circle cx="103.9" cy="111.0" r="0.95"/><circle cx="110.9" cy="111.9" r="0.95"/><circle cx="110.7" cy="116.8" r="0.95"/><circle cx="107.5" cy="127.4" r="0.95"/><circle cx="115.4" cy="124.0" r="0.95"/><circle cx="113.4" cy="118.8" r="0.95"/><circle cx="112.5" cy="109.2" r="0.95"/><circle cx="117.6" cy="131.0" r="0.95"/><circle cx="113.5" cy="107.5" r="0.95"/><circle cx="104.4" cy="118.1" r="0.95"/><circle cx="104.3" cy="108.1" r="0.95"/><circle cx="111.7" cy="117.2" r="0.95"/><circle cx="112.1" cy="106.3" r="0.95"/><circle cx="102.5" cy="122.8" r="0.95"/><circle cx="112.1" cy="115.0" r="0.95"/><circle cx="104.6" cy="114.7" r="0.95"/><circle cx="117.5" cy="121.3" r="0.95"/><circle cx="106.8" cy="114.6" r="0.95"/><circle cx="116.7" cy="114.6" r="0.95"/><circle cx="118.4" cy="128.1" r="0.95"/><circle cx="112.5" cy="129.3" r="0.95"/><circle cx="118.2" cy="126.7" r="0.95"/><circle cx="105.0" cy="107.2" r="0.95"/><circle cx="105.9" cy="110.4" r="0.95"/><circle cx="103.6" cy="109.3" r="0.95"/><circle cx="107.9" cy="109.5" r="0.95"/><circle cx="108.7" cy="124.3" r="0.95"/><circle cx="108.0" cy="106.4" r="0.95"/><circle cx="115.9" cy="131.0" r="0.95"/><circle cx="100.4" cy="112.9" r="0.95"/><circle cx="99.7" cy="114.1" r="0.95"/><circle cx="115.0" cy="130.3" r="0.95"/><circle cx="115.0" cy="133.7" r="0.95"/><circle cx="102.5" cy="115.5" r="0.95"/><circle cx="102.2" cy="122.3" r="0.95"/><circle cx="108.6" cy="119.1" r="0.95"/><circle cx="112.1" cy="115.2" r="0.95"/><circle cx="111.2" cy="129.6" r="0.95"/><circle cx="100.5" cy="109.9" r="0.95"/><circle cx="112.2" cy="109.5" r="0.95"/><circle cx="110.8" cy="106.5" r="0.95"/><circle cx="108.3" cy="118.6" r="0.95"/><circle cx="113.1" cy="109.3" r="0.95"/><circle cx="118.6" cy="125.5" r="0.95"/><circle cx="102.3" cy="107.5" r="0.95"/><circle cx="111.1" cy="108.5" r="0.95"/><circle cx="101.7" cy="111.4" r="0.95"/><circle cx="107.2" cy="115.5" r="0.95"/><circle cx="118.0" cy="122.5" r="0.95"/><circle cx="110.6" cy="123.1" r="0.95"/><circle cx="113.6" cy="111.1" r="0.95"/><circle cx="112.8" cy="122.2" r="0.95"/><circle cx="110.8" cy="123.3" r="0.95"/><circle cx="109.7" cy="120.6" r="0.95"/><circle cx="104.7" cy="122.9" r="0.95"/><circle cx="107.5" cy="108.1" r="0.95"/><circle cx="117.0" cy="126.9" r="0.95"/><circle cx="118.3" cy="131.6" r="0.95"/><circle cx="108.2" cy="121.6" r="0.95"/><circle cx="109.0" cy="121.2" r="0.95"/><circle cx="105.3" cy="125.1" r="0.95"/><circle cx="100.8" cy="117.3" r="0.95"/><circle cx="103.2" cy="119.4" r="0.95"/><circle cx="108.9" cy="116.1" r="0.95"/><circle cx="117.1" cy="114.5" r="0.95"/><circle cx="115.9" cy="115.3" r="0.95"/><circle cx="103.3" cy="110.7" r="0.95"/><circle cx="114.3" cy="120.8" r="0.95"/><circle cx="117.8" cy="134.3" r="0.95"/><circle cx="117.4" cy="124.8" r="0.95"/><circle cx="109.8" cy="111.2" r="0.95"/><circle cx="102.1" cy="120.5" r="0.95"/><circle cx="118.4" cy="129.0" r="0.95"/><circle cx="117.9" cy="120.2" r="0.95"/><circle cx="116.3" cy="127.4" r="0.95"/><circle cx="108.2" cy="128.2" r="0.95"/><circle cx="110.8" cy="114.0" r="0.95"/><circle cx="110.5" cy="117.8" r="0.95"/><circle cx="105.0" cy="106.4" r="0.95"/><circle cx="116.1" cy="128.2" r="0.95"/><circle cx="118.1" cy="121.7" r="0.95"/><circle cx="110.4" cy="115.8" r="0.95"/><circle cx="111.4" cy="108.6" r="0.95"/><circle cx="117.2" cy="126.0" r="0.95"/><circle cx="117.1" cy="126.0" r="0.95"/><circle cx="112.8" cy="130.9" r="0.95"/><circle cx="111.8" cy="126.5" r="0.95"/><circle cx="106.6" cy="106.1" r="0.95"/><circle cx="101.0" cy="112.7" r="0.95"/><circle cx="111.8" cy="119.0" r="0.95"/><circle cx="101.2" cy="107.0" r="0.95"/><circle cx="110.5" cy="116.7" r="0.95"/><circle cx="102.8" cy="120.5" r="0.95"/><circle cx="106.7" cy="112.3" r="0.95"/><circle cx="109.4" cy="114.6" r="0.95"/><circle cx="106.5" cy="111.2" r="0.95"/><circle cx="114.0" cy="129.4" r="0.95"/><circle cx="117.5" cy="126.0" r="0.95"/><circle cx="104.5" cy="121.6" r="0.95"/><circle cx="103.0" cy="111.5" r="0.95"/><circle cx="116.9" cy="113.8" r="0.95"/><circle cx="106.9" cy="109.9" r="0.95"/><circle cx="118.0" cy="130.1" r="0.95"/><circle cx="112.4" cy="130.5" r="0.95"/><circle cx="107.1" cy="112.9" r="0.95"/><circle cx="108.1" cy="109.5" r="0.95"/><circle cx="110.6" cy="127.6" r="0.95"/><circle cx="103.0" cy="118.6" r="0.95"/><circle cx="109.2" cy="107.9" r="0.95"/><circle cx="102.2" cy="121.4" r="0.95"/><circle cx="107.9" cy="124.2" r="0.95"/><circle cx="109.9" cy="129.8" r="0.95"/><circle cx="105.3" cy="119.5" r="0.95"/><circle cx="118.1" cy="120.9" r="0.95"/><circle cx="109.3" cy="125.2" r="0.95"/><circle cx="101.0" cy="121.2" r="0.95"/><circle cx="111.4" cy="125.0" r="0.95"/><circle cx="113.8" cy="116.3" r="0.95"/><circle cx="109.5" cy="117.1" r="0.95"/><circle cx="70.7" cy="91.2" r="1.0"/><circle cx="72.8" cy="103.8" r="1.0"/><circle cx="83.1" cy="87.8" r="1.0"/><circle cx="88.3" cy="78.6" r="1.0"/><circle cx="80.0" cy="107.2" r="1.0"/><circle cx="85.2" cy="107.2" r="1.0"/><circle cx="89.3" cy="96.9" r="1.0"/><circle cx="87.3" cy="108.4" r="1.0"/><circle cx="90.4" cy="126.7" r="1.0"/><circle cx="93.5" cy="128.9" r="1.0"/><circle cx="88.3" cy="117.5" r="1.0"/><circle cx="92.4" cy="86.6" r="1.0"/><circle cx="90.4" cy="90.1" r="1.0"/><circle cx="94.5" cy="77.5" r="1.0"/><circle cx="85.2" cy="114.1" r="1.0"/><circle cx="179.2" cy="115.2" r="1.0"/><circle cx="174.0" cy="99.2" r="1.0"/></g>
<g fill="#d1691d"><circle cx="147.6" cy="96.9" r="1.35"/><circle cx="134.5" cy="96.1" r="1.35"/><circle cx="163.9" cy="98.2" r="1.35"/><circle cx="155.6" cy="100.0" r="1.35"/><circle cx="140.3" cy="99.2" r="1.35"/><circle cx="152.5" cy="105.0" r="1.35"/><circle cx="155.2" cy="99.0" r="1.35"/><circle cx="131.2" cy="82.6" r="1.35"/><circle cx="140.2" cy="90.5" r="1.35"/><circle cx="135.4" cy="104.5" r="1.35"/><circle cx="147.9" cy="103.9" r="1.35"/><circle cx="153.6" cy="101.7" r="1.35"/><circle cx="147.1" cy="104.8" r="1.35"/><circle cx="136.9" cy="97.9" r="1.35"/><circle cx="129.8" cy="102.7" r="1.35"/><circle cx="162.6" cy="105.5" r="1.35"/><circle cx="151.0" cy="84.5" r="1.35"/><circle cx="126.3" cy="100.9" r="1.35"/><circle cx="140.6" cy="103.3" r="1.35"/><circle cx="141.2" cy="100.5" r="1.35"/><circle cx="129.5" cy="102.2" r="1.35"/><circle cx="153.7" cy="105.0" r="1.35"/><circle cx="156.5" cy="94.2" r="1.35"/><circle cx="157.7" cy="105.3" r="1.35"/><circle cx="161.1" cy="103.7" r="1.35"/><circle cx="149.9" cy="105.1" r="1.35"/><circle cx="145.7" cy="98.6" r="1.35"/><circle cx="153.8" cy="95.2" r="1.35"/><circle cx="135.8" cy="101.4" r="1.35"/><circle cx="125.7" cy="104.7" r="1.35"/><circle cx="125.6" cy="94.1" r="1.35"/><circle cx="155.3" cy="103.4" r="1.35"/><circle cx="155.0" cy="102.2" r="1.35"/><circle cx="135.5" cy="90.7" r="1.35"/><circle cx="150.5" cy="102.7" r="1.35"/><circle cx="137.5" cy="99.9" r="1.35"/><circle cx="153.1" cy="105.5" r="1.35"/><circle cx="133.7" cy="100.0" r="1.35"/><circle cx="130.8" cy="81.9" r="1.35"/><circle cx="127.4" cy="105.1" r="1.35"/><circle cx="132.1" cy="97.5" r="1.35"/><circle cx="126.3" cy="103.6" r="1.35"/><circle cx="136.5" cy="96.1" r="1.35"/><circle cx="132.2" cy="97.8" r="1.35"/><circle cx="141.5" cy="102.3" r="1.35"/><circle cx="131.2" cy="100.0" r="1.35"/><circle cx="140.0" cy="91.2" r="1.35"/><circle cx="128.4" cy="95.9" r="1.35"/><circle cx="145.9" cy="98.8" r="1.35"/><circle cx="146.1" cy="102.7" r="1.35"/><circle cx="157.3" cy="102.5" r="1.35"/><circle cx="139.7" cy="103.9" r="1.35"/><circle cx="134.8" cy="103.2" r="1.35"/><circle cx="141.9" cy="96.5" r="1.35"/><circle cx="147.9" cy="90.5" r="1.35"/><circle cx="128.0" cy="97.4" r="1.35"/><circle cx="127.5" cy="79.6" r="1.35"/><circle cx="143.6" cy="103.8" r="1.35"/><circle cx="129.7" cy="89.0" r="1.35"/><circle cx="125.2" cy="104.0" r="1.35"/><circle cx="152.0" cy="104.8" r="1.35"/><circle cx="153.6" cy="104.9" r="1.35"/><circle cx="139.7" cy="81.4" r="1.35"/><circle cx="137.0" cy="105.1" r="1.35"/><circle cx="131.2" cy="92.5" r="1.35"/><circle cx="156.1" cy="102.8" r="1.35"/><circle cx="133.4" cy="102.8" r="1.35"/><circle cx="158.9" cy="99.5" r="1.35"/><circle cx="125.6" cy="103.4" r="1.35"/><circle cx="160.3" cy="105.2" r="1.35"/><circle cx="157.7" cy="99.3" r="1.35"/><circle cx="126.4" cy="104.8" r="1.35"/><circle cx="144.4" cy="89.5" r="1.35"/><circle cx="143.3" cy="102.8" r="1.35"/><circle cx="135.8" cy="101.6" r="1.35"/><circle cx="160.6" cy="102.4" r="1.35"/><circle cx="137.9" cy="95.3" r="1.35"/><circle cx="150.7" cy="103.8" r="1.35"/><circle cx="139.6" cy="100.6" r="1.35"/><circle cx="134.7" cy="104.1" r="1.35"/><circle cx="143.5" cy="104.7" r="1.35"/><circle cx="129.4" cy="103.5" r="1.35"/><circle cx="139.4" cy="104.7" r="1.35"/><circle cx="131.9" cy="100.3" r="1.35"/><circle cx="134.9" cy="103.4" r="1.35"/><circle cx="138.7" cy="102.1" r="1.35"/><circle cx="125.9" cy="98.1" r="1.35"/><circle cx="134.9" cy="92.7" r="1.35"/><circle cx="156.5" cy="105.0" r="1.35"/><circle cx="162.8" cy="105.3" r="1.35"/><circle cx="156.0" cy="99.9" r="1.35"/><circle cx="144.8" cy="104.4" r="1.35"/><circle cx="132.5" cy="85.1" r="1.35"/><circle cx="144.5" cy="104.8" r="1.35"/><circle cx="148.8" cy="104.4" r="1.35"/><circle cx="157.4" cy="104.9" r="1.35"/><circle cx="162.5" cy="102.1" r="1.35"/><circle cx="140.9" cy="91.1" r="1.35"/><circle cx="133.1" cy="103.8" r="1.35"/><circle cx="155.0" cy="98.9" r="1.35"/><circle cx="146.6" cy="104.5" r="1.35"/><circle cx="131.8" cy="92.8" r="1.35"/><circle cx="139.5" cy="99.7" r="1.35"/><circle cx="132.2" cy="104.0" r="1.35"/><circle cx="137.3" cy="105.0" r="1.35"/><circle cx="128.0" cy="96.4" r="1.35"/><circle cx="152.8" cy="102.7" r="1.35"/><circle cx="135.1" cy="101.9" r="1.35"/><circle cx="143.0" cy="98.5" r="1.35"/><circle cx="143.5" cy="105.3" r="1.35"/><circle cx="145.1" cy="103.2" r="1.35"/><circle cx="138.8" cy="103.6" r="1.35"/><circle cx="137.9" cy="97.1" r="1.35"/><circle cx="136.2" cy="87.5" r="1.35"/><circle cx="149.8" cy="100.4" r="1.35"/><circle cx="158.6" cy="103.1" r="1.35"/><circle cx="159.6" cy="105.0" r="1.35"/><circle cx="131.0" cy="99.6" r="1.35"/><circle cx="129.2" cy="94.8" r="1.35"/><circle cx="137.6" cy="103.4" r="1.35"/><circle cx="127.4" cy="100.2" r="1.35"/><circle cx="144.3" cy="103.5" r="1.35"/><circle cx="135.1" cy="92.4" r="1.35"/><circle cx="129.5" cy="102.8" r="1.35"/><circle cx="127.3" cy="76.7" r="1.35"/><circle cx="136.1" cy="103.7" r="1.35"/><circle cx="132.9" cy="105.4" r="1.35"/><circle cx="132.0" cy="90.8" r="1.35"/><circle cx="131.5" cy="103.9" r="1.35"/><circle cx="143.3" cy="96.5" r="1.35"/><circle cx="126.1" cy="105.2" r="1.35"/><circle cx="156.4" cy="102.2" r="1.35"/><circle cx="137.3" cy="92.4" r="1.35"/><circle cx="153.3" cy="104.7" r="1.35"/><circle cx="131.5" cy="103.9" r="1.35"/><circle cx="140.8" cy="103.7" r="1.35"/><circle cx="126.2" cy="104.2" r="1.35"/><circle cx="162.1" cy="94.7" r="1.35"/><circle cx="125.4" cy="103.6" r="1.35"/><circle cx="158.7" cy="104.9" r="1.35"/><circle cx="152.8" cy="100.3" r="1.35"/><circle cx="143.1" cy="105.2" r="1.35"/><circle cx="137.8" cy="95.2" r="1.35"/><circle cx="133.2" cy="101.0" r="1.35"/><circle cx="130.4" cy="105.5" r="1.35"/><circle cx="159.4" cy="92.4" r="1.35"/><circle cx="142.2" cy="97.9" r="1.35"/><circle cx="154.8" cy="103.2" r="1.35"/><circle cx="147.3" cy="104.5" r="1.35"/><circle cx="152.0" cy="101.7" r="1.35"/><circle cx="135.6" cy="103.3" r="1.35"/><circle cx="142.5" cy="88.7" r="1.35"/><circle cx="137.1" cy="104.1" r="1.35"/><circle cx="131.5" cy="79.5" r="1.35"/><circle cx="137.0" cy="102.5" r="1.35"/><circle cx="144.0" cy="99.0" r="1.35"/><circle cx="143.5" cy="101.5" r="1.35"/><circle cx="132.8" cy="105.0" r="1.35"/><circle cx="128.4" cy="99.6" r="1.35"/><circle cx="143.9" cy="105.3" r="1.35"/><circle cx="139.5" cy="79.9" r="1.35"/><circle cx="138.9" cy="92.6" r="1.35"/><circle cx="128.8" cy="101.4" r="1.35"/><circle cx="149.9" cy="101.0" r="1.35"/><circle cx="158.8" cy="105.5" r="1.35"/><circle cx="148.7" cy="102.3" r="1.35"/><circle cx="144.0" cy="94.5" r="1.35"/><circle cx="133.0" cy="95.0" r="1.35"/><circle cx="126.9" cy="99.4" r="1.35"/><circle cx="132.9" cy="103.2" r="1.35"/><circle cx="137.8" cy="105.3" r="1.35"/><circle cx="132.0" cy="104.2" r="1.35"/><circle cx="156.0" cy="101.4" r="1.35"/><circle cx="136.6" cy="103.7" r="1.35"/><circle cx="137.7" cy="103.6" r="1.35"/><circle cx="131.4" cy="105.6" r="1.35"/><circle cx="140.8" cy="101.5" r="1.35"/><circle cx="136.4" cy="101.4" r="1.35"/><circle cx="143.2" cy="99.1" r="1.35"/><circle cx="151.2" cy="105.4" r="1.35"/><circle cx="127.7" cy="103.5" r="1.35"/><circle cx="131.3" cy="104.1" r="1.35"/><circle cx="156.5" cy="104.2" r="1.35"/><circle cx="155.0" cy="97.0" r="1.35"/><circle cx="125.1" cy="102.9" r="1.35"/><circle cx="158.1" cy="99.6" r="1.35"/><circle cx="150.6" cy="95.1" r="1.35"/><circle cx="151.7" cy="104.6" r="1.35"/><circle cx="140.3" cy="93.4" r="1.35"/><circle cx="146.7" cy="99.6" r="1.35"/><circle cx="163.3" cy="104.2" r="1.35"/><circle cx="135.7" cy="104.1" r="1.35"/><circle cx="130.4" cy="100.4" r="1.35"/><circle cx="147.7" cy="104.3" r="1.35"/><circle cx="133.9" cy="80.1" r="1.35"/><circle cx="125.1" cy="78.9" r="1.35"/><circle cx="155.1" cy="103.4" r="1.35"/><circle cx="141.5" cy="98.2" r="1.35"/><circle cx="147.5" cy="98.3" r="1.35"/><circle cx="158.2" cy="103.0" r="1.35"/><circle cx="127.2" cy="102.2" r="1.35"/><circle cx="141.6" cy="99.2" r="1.35"/><circle cx="159.9" cy="103.8" r="1.35"/><circle cx="139.7" cy="100.8" r="1.35"/><circle cx="138.0" cy="103.5" r="1.35"/><circle cx="125.4" cy="90.3" r="1.35"/><circle cx="162.6" cy="104.9" r="1.35"/><circle cx="134.4" cy="105.1" r="1.35"/><circle cx="132.4" cy="105.5" r="1.35"/><circle cx="142.5" cy="90.4" r="1.35"/><circle cx="158.5" cy="101.7" r="1.35"/><circle cx="135.7" cy="103.7" r="1.35"/><circle cx="125.7" cy="101.6" r="1.35"/><circle cx="146.3" cy="97.4" r="1.35"/><circle cx="141.6" cy="101.2" r="1.35"/><circle cx="158.7" cy="104.0" r="1.35"/><circle cx="135.7" cy="94.3" r="1.35"/><circle cx="128.0" cy="105.4" r="1.35"/><circle cx="128.5" cy="101.1" r="1.35"/><circle cx="127.1" cy="104.8" r="1.35"/><circle cx="134.6" cy="103.4" r="1.35"/><circle cx="143.4" cy="85.3" r="1.35"/><circle cx="137.8" cy="103.4" r="1.35"/><circle cx="129.0" cy="102.5" r="1.35"/><circle cx="149.0" cy="98.3" r="1.35"/><circle cx="148.4" cy="101.1" r="1.35"/><circle cx="145.0" cy="104.3" r="1.35"/><circle cx="136.3" cy="104.4" r="1.35"/><circle cx="128.5" cy="85.1" r="1.35"/><circle cx="125.6" cy="92.1" r="1.35"/><circle cx="133.7" cy="105.6" r="1.35"/><circle cx="129.7" cy="103.6" r="1.35"/><circle cx="131.4" cy="95.6" r="1.35"/><circle cx="137.7" cy="100.9" r="1.35"/><circle cx="131.2" cy="103.6" r="1.35"/><circle cx="143.3" cy="91.5" r="1.35"/><circle cx="127.0" cy="105.0" r="1.35"/><circle cx="133.7" cy="102.7" r="1.35"/><circle cx="135.9" cy="95.0" r="1.35"/><circle cx="157.2" cy="103.5" r="1.35"/><circle cx="159.2" cy="104.4" r="1.35"/><circle cx="126.9" cy="101.9" r="1.35"/><circle cx="151.6" cy="104.6" r="1.35"/><circle cx="149.4" cy="94.8" r="1.35"/><circle cx="138.6" cy="101.2" r="1.35"/><circle cx="145.6" cy="103.9" r="1.35"/><circle cx="160.0" cy="102.3" r="1.35"/><circle cx="146.1" cy="96.2" r="1.35"/><circle cx="154.9" cy="100.3" r="1.35"/><circle cx="139.3" cy="102.8" r="1.35"/><circle cx="142.9" cy="102.9" r="1.35"/><circle cx="131.1" cy="94.1" r="1.35"/><circle cx="135.4" cy="95.5" r="1.35"/><circle cx="125.5" cy="103.5" r="1.35"/><circle cx="131.4" cy="77.4" r="1.35"/><circle cx="144.3" cy="99.5" r="1.35"/><circle cx="153.8" cy="102.9" r="1.35"/><circle cx="127.3" cy="103.6" r="1.35"/><circle cx="148.6" cy="96.5" r="1.35"/><circle cx="131.9" cy="101.6" r="1.35"/><circle cx="152.8" cy="98.4" r="1.35"/><circle cx="129.7" cy="93.7" r="1.35"/><circle cx="146.8" cy="103.6" r="1.35"/><circle cx="130.8" cy="84.4" r="1.35"/><circle cx="144.7" cy="99.3" r="1.35"/><circle cx="130.8" cy="78.7" r="1.35"/><circle cx="149.6" cy="94.7" r="1.35"/><circle cx="132.9" cy="91.8" r="1.35"/><circle cx="127.1" cy="91.2" r="1.35"/><circle cx="138.9" cy="104.6" r="1.35"/><circle cx="135.2" cy="103.4" r="1.35"/><circle cx="151.4" cy="104.5" r="1.35"/><circle cx="149.1" cy="105.4" r="1.35"/><circle cx="134.3" cy="104.2" r="1.35"/><circle cx="128.7" cy="101.9" r="1.35"/><circle cx="158.7" cy="96.9" r="1.35"/><circle cx="154.1" cy="104.4" r="1.35"/><circle cx="138.3" cy="96.9" r="1.35"/><circle cx="128.9" cy="85.6" r="1.35"/><circle cx="155.4" cy="105.3" r="1.35"/><circle cx="151.0" cy="97.1" r="1.35"/><circle cx="132.0" cy="84.1" r="1.35"/><circle cx="138.4" cy="97.7" r="1.35"/><circle cx="129.1" cy="104.7" r="1.35"/><circle cx="144.1" cy="85.2" r="1.35"/><circle cx="131.8" cy="103.7" r="1.35"/><circle cx="149.2" cy="103.2" r="1.35"/><circle cx="134.6" cy="103.7" r="1.35"/><circle cx="129.4" cy="93.1" r="1.35"/><circle cx="125.6" cy="102.2" r="1.35"/><circle cx="130.7" cy="87.6" r="1.35"/><circle cx="161.3" cy="104.9" r="1.35"/><circle cx="142.1" cy="96.7" r="1.35"/><circle cx="146.6" cy="102.3" r="1.35"/><circle cx="155.5" cy="94.0" r="1.35"/><circle cx="160.7" cy="103.2" r="1.35"/><circle cx="138.3" cy="91.1" r="1.35"/><circle cx="136.0" cy="103.8" r="1.35"/><circle cx="125.4" cy="92.3" r="1.35"/><circle cx="154.8" cy="100.9" r="1.35"/><circle cx="150.0" cy="105.2" r="1.35"/><circle cx="128.8" cy="100.9" r="1.35"/><circle cx="126.0" cy="103.0" r="1.35"/><circle cx="140.0" cy="103.4" r="1.35"/><circle cx="145.3" cy="97.4" r="1.35"/><circle cx="136.9" cy="89.7" r="1.35"/><circle cx="132.0" cy="102.4" r="1.35"/><circle cx="137.7" cy="104.2" r="1.35"/><circle cx="139.5" cy="97.9" r="1.35"/><circle cx="133.7" cy="98.8" r="1.35"/><circle cx="128.6" cy="102.3" r="1.35"/><circle cx="147.7" cy="99.8" r="1.35"/><circle cx="139.8" cy="86.6" r="1.35"/><circle cx="130.4" cy="102.1" r="1.35"/><circle cx="127.7" cy="92.1" r="1.35"/><circle cx="149.0" cy="82.1" r="1.35"/><circle cx="160.5" cy="103.6" r="1.35"/><circle cx="149.5" cy="104.4" r="1.35"/><circle cx="142.7" cy="88.2" r="1.35"/><circle cx="160.9" cy="100.2" r="1.35"/><circle cx="128.2" cy="104.3" r="1.35"/><circle cx="145.6" cy="103.0" r="1.35"/><circle cx="125.8" cy="105.5" r="1.35"/><circle cx="160.1" cy="104.8" r="1.35"/><circle cx="156.7" cy="104.2" r="1.35"/><circle cx="164.4" cy="104.4" r="1.35"/><circle cx="147.9" cy="102.9" r="1.35"/><circle cx="128.7" cy="104.0" r="1.35"/><circle cx="136.5" cy="104.3" r="1.35"/><circle cx="139.7" cy="98.0" r="1.35"/><circle cx="126.5" cy="104.0" r="1.35"/><circle cx="137.9" cy="102.0" r="1.35"/><circle cx="151.8" cy="102.9" r="1.35"/><circle cx="154.8" cy="101.3" r="1.35"/><circle cx="138.7" cy="102.0" r="1.35"/><circle cx="134.0" cy="93.8" r="1.35"/><circle cx="146.0" cy="105.3" r="1.35"/><circle cx="137.0" cy="98.9" r="1.35"/><circle cx="127.5" cy="94.5" r="1.35"/><circle cx="126.0" cy="100.9" r="1.35"/><circle cx="126.2" cy="104.5" r="1.35"/><circle cx="137.9" cy="95.7" r="1.35"/><circle cx="135.2" cy="81.2" r="1.35"/><circle cx="131.6" cy="101.4" r="1.35"/><circle cx="125.1" cy="73.6" r="1.35"/><circle cx="138.4" cy="99.2" r="1.35"/><circle cx="125.1" cy="105.3" r="1.35"/><circle cx="125.3" cy="91.5" r="1.35"/><circle cx="146.9" cy="103.8" r="1.35"/><circle cx="131.8" cy="103.5" r="1.35"/><circle cx="142.6" cy="103.8" r="1.35"/><circle cx="134.3" cy="91.2" r="1.35"/><circle cx="161.9" cy="103.4" r="1.35"/><circle cx="153.0" cy="97.5" r="1.35"/><circle cx="139.9" cy="98.6" r="1.35"/><circle cx="160.0" cy="102.6" r="1.35"/><circle cx="144.0" cy="92.3" r="1.35"/><circle cx="128.9" cy="89.2" r="1.35"/><circle cx="132.0" cy="93.6" r="1.35"/><circle cx="130.1" cy="101.0" r="1.35"/><circle cx="141.2" cy="103.1" r="1.35"/><circle cx="134.2" cy="89.7" r="1.35"/><circle cx="150.4" cy="95.3" r="1.35"/><circle cx="158.8" cy="105.3" r="1.35"/><circle cx="160.5" cy="105.5" r="1.35"/><circle cx="140.6" cy="103.8" r="1.35"/><circle cx="155.2" cy="104.0" r="1.35"/><circle cx="128.9" cy="99.5" r="1.35"/><circle cx="140.7" cy="105.5" r="1.35"/><circle cx="154.2" cy="96.3" r="1.35"/><circle cx="145.9" cy="94.8" r="1.35"/><circle cx="129.9" cy="92.7" r="1.35"/><circle cx="139.8" cy="97.4" r="1.35"/><circle cx="130.4" cy="98.9" r="1.35"/><circle cx="132.2" cy="104.7" r="1.35"/><circle cx="136.2" cy="100.8" r="1.35"/><circle cx="142.0" cy="102.1" r="1.35"/><circle cx="140.7" cy="95.6" r="1.35"/><circle cx="127.6" cy="103.3" r="1.35"/><circle cx="135.4" cy="101.9" r="1.35"/><circle cx="140.0" cy="48.9" r="1.35"/><circle cx="156.5" cy="48.9" r="1.35"/><circle cx="164.8" cy="60.3" r="1.35"/><circle cx="160.6" cy="96.9" r="1.35"/><circle cx="156.5" cy="100.4" r="1.35"/><circle cx="166.8" cy="103.8" r="1.35"/><circle cx="163.7" cy="100.4" r="1.35"/><circle cx="159.6" cy="91.2" r="1.35"/><circle cx="152.4" cy="83.2" r="1.35"/><circle cx="149.3" cy="79.8" r="1.35"/><circle cx="134.8" cy="76.3" r="1.35"/><circle cx="142.0" cy="83.2" r="1.35"/></g>
<g fill="#2f97ad"><circle cx="63.5" cy="43.9" r="1.3"/><circle cx="82.6" cy="67.2" r="1.3"/><circle cx="102.8" cy="67.2" r="1.3"/><circle cx="104.8" cy="25.6" r="1.3"/><circle cx="106.4" cy="80.9" r="1.3"/><circle cx="109.0" cy="84.3" r="1.3"/><circle cx="103.3" cy="85.5" r="1.3"/><circle cx="98.1" cy="90.1" r="1.3"/><circle cx="106.4" cy="91.2" r="1.3"/><circle cx="111.6" cy="93.5" r="1.3"/><circle cx="110.5" cy="99.2" r="1.3"/><circle cx="112.1" cy="101.5" r="1.3"/><circle cx="107.4" cy="96.9" r="1.3"/><circle cx="94.0" cy="99.2" r="1.3"/><circle cx="88.8" cy="102.6" r="1.3"/><circle cx="88.8" cy="100.4" r="1.3"/><circle cx="88.8" cy="104.2" r="1.3"/><circle cx="97.6" cy="103.3" r="1.3"/><circle cx="103.8" cy="102.6" r="1.3"/><circle cx="100.2" cy="98.8" r="1.3"/><circle cx="111.6" cy="103.8" r="1.3"/><circle cx="110.5" cy="104.9" r="1.3"/><circle cx="109.0" cy="102.6" r="1.3"/><circle cx="112.6" cy="99.2" r="1.3"/><circle cx="105.9" cy="101.5" r="1.3"/><circle cx="112.1" cy="95.8" r="1.3"/><circle cx="109.5" cy="105.6" r="1.3"/><circle cx="107.4" cy="104.9" r="1.3"/><circle cx="112.9" cy="105.6" r="1.3"/><circle cx="101.7" cy="101.5" r="1.3"/><circle cx="96.1" cy="100.4" r="1.3"/><circle cx="111.0" cy="100.4" r="1.3"/><circle cx="104.8" cy="104.9" r="1.3"/><circle cx="112.1" cy="102.6" r="1.3"/><circle cx="99.7" cy="104.9" r="1.3"/><circle cx="113.1" cy="103.8" r="1.3"/><circle cx="113.1" cy="101.5" r="1.3"/><circle cx="109.0" cy="104.2" r="1.3"/><circle cx="111.2" cy="105.6" r="1.3"/></g>
<line x1="119.30" y1="20.60" x2="119.30" y2="141.50" stroke="#444" stroke-width="0.9" stroke-dasharray="2.6 1.8"/>
<text x="139.70" y="60.20" font-size="6.3" fill="#761a20" font-style="italic" textLength="12.50" lengthAdjust="spacingAndGlyphs"  stroke="#761a20" stroke-width="0.2">Aurkb</text>
<text x="126.70" y="63.40" font-size="6.3" fill="#761a20" font-style="italic" textLength="12.50" lengthAdjust="spacingAndGlyphs"  stroke="#761a20" stroke-width="0.2">Kif22</text>
<text x="126.70" y="68.70" font-size="6.3" fill="#761a20" font-style="italic" textLength="10.00" lengthAdjust="spacingAndGlyphs"  stroke="#761a20" stroke-width="0.2">Prc1</text>
<text x="126.90" y="74.00" font-size="6.3" fill="#761a20" font-style="italic" textLength="10.00" lengthAdjust="spacingAndGlyphs"  stroke="#761a20" stroke-width="0.2">Plk1</text>
<text x="137.80" y="74.00" font-size="6.3" fill="#761a20" font-style="italic" textLength="10.00" lengthAdjust="spacingAndGlyphs"  stroke="#761a20" stroke-width="0.2">Asns</text>
<text x="126.70" y="79.50" font-size="6.3" fill="#761a20" font-style="italic" textLength="12.50" lengthAdjust="spacingAndGlyphs"  stroke="#761a20" stroke-width="0.2">Kif15</text>
<text x="151.70" y="77.50" font-size="6.3" fill="#761a20" font-style="italic" textLength="10.00" lengthAdjust="spacingAndGlyphs"  stroke="#761a20" stroke-width="0.2">Nrgp</text>
<text x="140.70" y="82.80" font-size="6.3" fill="#761a20" font-style="italic" textLength="12.50" lengthAdjust="spacingAndGlyphs"  stroke="#761a20" stroke-width="0.2">Bcas2</text>
<text x="161.80" y="82.80" font-size="6.3" fill="#761a20" font-style="italic" textLength="17.50" lengthAdjust="spacingAndGlyphs"  stroke="#761a20" stroke-width="0.2">Slc3tc2</text>
<text x="126.70" y="85.20" font-size="6.3" fill="#761a20" font-style="italic" textLength="10.00" lengthAdjust="spacingAndGlyphs"  stroke="#761a20" stroke-width="0.2">Kif4</text>
<text x="134.40" y="89.10" font-size="6.3" fill="#761a20" font-style="italic" textLength="12.50" lengthAdjust="spacingAndGlyphs"  stroke="#761a20" stroke-width="0.2">Cdc20</text>
<text x="149.30" y="87.60" font-size="6.3" fill="#761a20" font-style="italic" textLength="12.50" lengthAdjust="spacingAndGlyphs"  stroke="#761a20" stroke-width="0.2">Bmp2k</text>
<text x="150.80" y="93.40" font-size="6.3" fill="#761a20" font-style="italic" textLength="12.50" lengthAdjust="spacingAndGlyphs"  stroke="#761a20" stroke-width="0.2">Ube2c</text>
<text x="167.90" y="93.40" font-size="6.3" fill="#761a20" font-style="italic" textLength="17.50" lengthAdjust="spacingAndGlyphs"  stroke="#761a20" stroke-width="0.2">Slc12a4</text>
<text x="126.70" y="95.80" font-size="6.3" fill="#761a20" font-style="italic" textLength="10.00" lengthAdjust="spacingAndGlyphs"  stroke="#761a20" stroke-width="0.2">Tpx2</text>
<text x="154.60" y="98.70" font-size="6.3" fill="#761a20" font-style="italic" textLength="10.00" lengthAdjust="spacingAndGlyphs"  stroke="#761a20" stroke-width="0.2">Pbx1</text>
<text x="126.70" y="101.10" font-size="6.3" fill="#761a20" font-style="italic" textLength="10.00" lengthAdjust="spacingAndGlyphs"  stroke="#761a20" stroke-width="0.2">Cks2</text>
<text x="171.50" y="102.50" font-size="6.3" fill="#761a20" font-style="italic" textLength="15.00" lengthAdjust="spacingAndGlyphs"  stroke="#761a20" stroke-width="0.2">Dcbld2</text>
<text x="126.90" y="106.70" font-size="6.3" fill="#761a20" font-style="italic" textLength="10.00" lengthAdjust="spacingAndGlyphs"  stroke="#761a20" stroke-width="0.2">Pim2</text>
<text x="150.30" y="108.90" font-size="6.3" fill="#761a20" font-style="italic" textLength="12.50" lengthAdjust="spacingAndGlyphs"  stroke="#761a20" stroke-width="0.2">Ccna2</text>
<text x="169.50" y="107.70" font-size="6.3" fill="#761a20" font-style="italic" textLength="17.50" lengthAdjust="spacingAndGlyphs"  stroke="#761a20" stroke-width="0.2">Slco2b1</text>
<text x="132.60" y="112.50" font-size="6.3" fill="#761a20" font-style="italic" textLength="12.50" lengthAdjust="spacingAndGlyphs"  stroke="#761a20" stroke-width="0.2">Aurka</text>
<text x="162.50" y="114.30" font-size="6.3" fill="#761a20" font-style="italic" textLength="12.50" lengthAdjust="spacingAndGlyphs"  stroke="#761a20" stroke-width="0.2">Socs3</text>
<text x="153.20" y="119.60" font-size="6.3" fill="#761a20" font-style="italic" textLength="10.00" lengthAdjust="spacingAndGlyphs"  stroke="#761a20" stroke-width="0.2">Hopx</text>
<text x="173.20" y="119.60" font-size="6.3" fill="#761a20" font-style="italic" textLength="12.50" lengthAdjust="spacingAndGlyphs"  stroke="#761a20" stroke-width="0.2">Prkcb</text>
<text x="126.60" y="122.10" font-size="6.3" fill="#761a20" font-style="italic" textLength="10.00" lengthAdjust="spacingAndGlyphs"  stroke="#761a20" stroke-width="0.2">Melk</text>
<text x="144.10" y="125.40" font-size="6.3" fill="#761a20" font-style="italic" textLength="10.00" lengthAdjust="spacingAndGlyphs"  stroke="#761a20" stroke-width="0.2">Rgcc</text>
<text x="126.60" y="126.90" font-size="6.3" fill="#761a20" font-style="italic" textLength="10.00" lengthAdjust="spacingAndGlyphs"  stroke="#761a20" stroke-width="0.2">Nek2</text>
<text x="136.80" y="132.60" font-size="6.3" fill="#761a20" font-style="italic" textLength="12.50" lengthAdjust="spacingAndGlyphs"  stroke="#761a20" stroke-width="0.2">Cenpf</text>
<text x="105.50" y="98.20" font-size="6.3" fill="#3535e0" font-style="italic" textLength="7.50" lengthAdjust="spacingAndGlyphs"  stroke="#3535e0" stroke-width="0.2">Jun</text>
<text x="102.50" y="103.20" font-size="6.3" fill="#3535e0" font-style="italic" textLength="10.00" lengthAdjust="spacingAndGlyphs"  stroke="#3535e0" stroke-width="0.2">Egr1</text>
<text x="97.50" y="107.80" font-size="6.3" fill="#3535e0" font-style="italic" textLength="10.00" lengthAdjust="spacingAndGlyphs"  stroke="#3535e0" stroke-width="0.2">Atf3</text>
<rect x="51.5" y="20.6" width="136.0" height="120.9" fill="none" stroke="#111" stroke-width="1.3"/>
<line x1="48.60" y1="135.80" x2="51.50" y2="135.80" stroke="#111" stroke-width="0.9" />
<text x="45.40" y="138.70" font-size="8.2" fill="#222" text-anchor="end"  stroke="#222" stroke-width="0.2">0</text>
<line x1="48.60" y1="112.93" x2="51.50" y2="112.93" stroke="#111" stroke-width="0.9" />
<text x="45.40" y="115.83" font-size="8.2" fill="#222" text-anchor="end"  stroke="#222" stroke-width="0.2">1</text>
<line x1="48.60" y1="90.06" x2="51.50" y2="90.06" stroke="#111" stroke-width="0.9" />
<text x="45.40" y="92.96" font-size="8.2" fill="#222" text-anchor="end"  stroke="#222" stroke-width="0.2">2</text>
<line x1="48.60" y1="67.19" x2="51.50" y2="67.19" stroke="#111" stroke-width="0.9" />
<text x="45.40" y="70.09" font-size="8.2" fill="#222" text-anchor="end"  stroke="#222" stroke-width="0.2">3</text>
<line x1="48.60" y1="44.32" x2="51.50" y2="44.32" stroke="#111" stroke-width="0.9" />
<text x="45.40" y="47.22" font-size="8.2" fill="#222" text-anchor="end"  stroke="#222" stroke-width="0.2">4</text>
<line x1="48.60" y1="21.45" x2="51.50" y2="21.45" stroke="#111" stroke-width="0.9" />
<text x="45.40" y="24.35" font-size="8.2" fill="#222" text-anchor="end"  stroke="#222" stroke-width="0.2">5</text>
<line x1="57.32" y1="141.50" x2="57.32" y2="144.50" stroke="#111" stroke-width="0.9" />
<text x="56.72" y="155.00" font-size="8.2" fill="#222" text-anchor="middle"  stroke="#222" stroke-width="0.2">-6</text>
<line x1="77.98" y1="141.50" x2="77.98" y2="144.50" stroke="#111" stroke-width="0.9" />
<text x="77.38" y="155.00" font-size="8.2" fill="#222" text-anchor="middle"  stroke="#222" stroke-width="0.2">-4</text>
<line x1="98.64" y1="141.50" x2="98.64" y2="144.50" stroke="#111" stroke-width="0.9" />
<text x="98.04" y="155.00" font-size="8.2" fill="#222" text-anchor="middle"  stroke="#222" stroke-width="0.2">-2</text>
<line x1="119.30" y1="141.50" x2="119.30" y2="144.50" stroke="#111" stroke-width="0.9" />
<text x="119.30" y="155.00" font-size="8.2" fill="#222" text-anchor="middle"  stroke="#222" stroke-width="0.2">0</text>
<line x1="139.96" y1="141.50" x2="139.96" y2="144.50" stroke="#111" stroke-width="0.9" />
<text x="139.96" y="155.00" font-size="8.2" fill="#222" text-anchor="middle"  stroke="#222" stroke-width="0.2">2</text>
<line x1="160.62" y1="141.50" x2="160.62" y2="144.50" stroke="#111" stroke-width="0.9" />
<text x="160.62" y="155.00" font-size="8.2" fill="#222" text-anchor="middle"  stroke="#222" stroke-width="0.2">4</text>
<line x1="181.28" y1="141.50" x2="181.28" y2="144.50" stroke="#111" stroke-width="0.9" />
<text x="181.28" y="155.00" font-size="8.2" fill="#222" text-anchor="middle"  stroke="#222" stroke-width="0.2">6</text>
<text x="76.9" y="171" font-size="9.9" fill="#2a2a2a" textLength="85.6" lengthAdjust="spacingAndGlyphs" stroke="#2a2a2a" stroke-width="0.2"><tspan font-style="italic">Tmprss6</tspan><tspan font-size="6.6" dy="-3.8">-/-</tspan><tspan dy="3.8"> vs. WT log</tspan><tspan font-size="7.4" dy="2.6">2</tspan><tspan dy="-2.6"> FC</tspan></text>
<text x="31.1" y="134.2" font-size="10.2" fill="#2a2a2a" transform="rotate(-90 31.1 134.2)" textLength="106.7" lengthAdjust="spacingAndGlyphs" stroke="#2a2a2a" stroke-width="0.2"><tspan font-style="italic">Tmprss6</tspan><tspan font-size="6.6" dy="-3.8">-/-</tspan><tspan dy="3.8"> vs. WT log</tspan><tspan font-size="7.4" dy="2.6">10</tspan><tspan dy="-2.6"> P-value</tspan></text>
<circle cx="35.6" cy="185.7" r="2.6" fill="#da8246"/>
<circle cx="35.6" cy="197.1" r="2.6" fill="#52a9bf"/>
<text x="41.8" y="188.6" font-size="9.4" fill="#222" textLength="165.7" lengthAdjust="spacingAndGlyphs" stroke="#222" stroke-width="0.2">263 upregulated genes in <tspan font-style="italic">Tmprss6</tspan><tspan font-size="5.5" dy="-3.4">-/-</tspan><tspan dy="3.4"> vs. WT</tspan></text>
<text x="41.8" y="199.3" font-size="9.4" fill="#222" textLength="172.8" lengthAdjust="spacingAndGlyphs" stroke="#222" stroke-width="0.2">59 downregulated genes in <tspan font-style="italic">Tmprss6</tspan><tspan font-size="5.5" dy="-3.4">-/-</tspan><tspan dy="3.4"> vs. WT</tspan></text>
<text x="7.30" y="221.90" font-size="12.1" font-weight="bold" fill="#000" stroke="#000" stroke-width="0.35">B</text>
<text x="58.8" y="233.8" font-size="10.2" fill="#222" textLength="79.2" lengthAdjust="spacingAndGlyphs" stroke="#222" stroke-width="0.2">Human GFP<tspan font-size="6.5" dy="-3.6">+</tspan><tspan font-size="7.8" dy="3.6"> MEP</tspan></text>
<path d="M31.3,242.3 L31.3,339.9 L254.9,339.9" fill="none" stroke="#222" stroke-width="1.1"/>
<text x="27.50" y="350.20" font-size="9.0" fill="#2a2a2a" textLength="20.5" lengthAdjust="spacingAndGlyphs" stroke="#2a2a2a" stroke-width="0.2">pERK</text>
<text x="24.60" y="291.00" font-size="9.6" fill="#222" text-anchor="middle" transform="rotate(-90 24.60 291.00)" textLength="75" lengthAdjust="spacingAndGlyphs" stroke="#222" stroke-width="0.2">Normalized by mode</text>
<path d="M56.5,324.2 L56.5,239.7 L139.4,239.7 L139.4,324.2" fill="none" stroke="#1a1a1a" stroke-width="1.25"/>
<line x1="56.50" y1="323.70" x2="139.40" y2="323.70" stroke="#1a1a1a" stroke-width="1.1" />
<line x1="53.30" y1="323.70" x2="56.50" y2="323.70" stroke="#1a1a1a" stroke-width="0.9" />
<text x="50.10" y="326.35" font-size="7.7" fill="#2a2a2a" text-anchor="end"  stroke="#2a2a2a" stroke-width="0.2">0</text>
<line x1="53.30" y1="307.64" x2="56.50" y2="307.64" stroke="#1a1a1a" stroke-width="0.9" />
<text x="50.10" y="310.29" font-size="7.7" fill="#2a2a2a" text-anchor="end"  stroke="#2a2a2a" stroke-width="0.2">20</text>
<line x1="53.30" y1="291.58" x2="56.50" y2="291.58" stroke="#1a1a1a" stroke-width="0.9" />
<text x="50.10" y="294.23" font-size="7.7" fill="#2a2a2a" text-anchor="end"  stroke="#2a2a2a" stroke-width="0.2">40</text>
<line x1="53.30" y1="275.52" x2="56.50" y2="275.52" stroke="#1a1a1a" stroke-width="0.9" />
<text x="50.10" y="278.17" font-size="7.7" fill="#2a2a2a" text-anchor="end"  stroke="#2a2a2a" stroke-width="0.2">60</text>
<line x1="53.30" y1="259.46" x2="56.50" y2="259.46" stroke="#1a1a1a" stroke-width="0.9" />
<text x="50.10" y="262.11" font-size="7.7" fill="#2a2a2a" text-anchor="end"  stroke="#2a2a2a" stroke-width="0.2">80</text>
<line x1="53.30" y1="243.40" x2="56.50" y2="243.40" stroke="#1a1a1a" stroke-width="0.9" />
<text x="50.10" y="246.05" font-size="7.7" fill="#2a2a2a" text-anchor="end"  stroke="#2a2a2a" stroke-width="0.2">100</text>
<line x1="54.80" y1="319.69" x2="56.50" y2="319.69" stroke="#1a1a1a" stroke-width="0.7" />
<line x1="54.80" y1="315.67" x2="56.50" y2="315.67" stroke="#1a1a1a" stroke-width="0.7" />
<line x1="54.80" y1="311.65" x2="56.50" y2="311.65" stroke="#1a1a1a" stroke-width="0.7" />
<line x1="54.80" y1="303.62" x2="56.50" y2="303.62" stroke="#1a1a1a" stroke-width="0.7" />
<line x1="54.80" y1="299.61" x2="56.50" y2="299.61" stroke="#1a1a1a" stroke-width="0.7" />
<line x1="54.80" y1="295.60" x2="56.50" y2="295.60" stroke="#1a1a1a" stroke-width="0.7" />
<line x1="54.80" y1="287.56" x2="56.50" y2="287.56" stroke="#1a1a1a" stroke-width="0.7" />
<line x1="54.80" y1="283.55" x2="56.50" y2="283.55" stroke="#1a1a1a" stroke-width="0.7" />
<line x1="54.80" y1="279.54" x2="56.50" y2="279.54" stroke="#1a1a1a" stroke-width="0.7" />
<line x1="54.80" y1="271.50" x2="56.50" y2="271.50" stroke="#1a1a1a" stroke-width="0.7" />
<line x1="54.80" y1="267.49" x2="56.50" y2="267.49" stroke="#1a1a1a" stroke-width="0.7" />
<line x1="54.80" y1="263.48" x2="56.50" y2="263.48" stroke="#1a1a1a" stroke-width="0.7" />
<line x1="54.80" y1="255.44" x2="56.50" y2="255.44" stroke="#1a1a1a" stroke-width="0.7" />
<line x1="54.80" y1="251.43" x2="56.50" y2="251.43" stroke="#1a1a1a" stroke-width="0.7" />
<line x1="54.80" y1="247.42" x2="56.50" y2="247.42" stroke="#1a1a1a" stroke-width="0.7" />
<path d="M58.50,323.7 v1.3 M59.30,323.7 v1.3 M60.10,323.7 v1.3 M60.90,323.7 v1.3 M61.70,323.7 v1.3 M62.50,323.7 v1.3 M63.30,323.7 v1.3 M64.10,323.7 v1.3 M64.90,323.7 v1.3 M65.70,323.7 v2.4 M66.50,323.7 v2.4 M67.30,323.7 v2.4 M68.10,323.7 v2.4 M68.90,323.7 v2.4 M69.70,323.7 v2.4 M70.50,323.7 v2.4 M71.30,323.7 v2.4 M72.10,323.7 v2.4 M72.90,323.7 v2.4 M73.70,323.7 v2.4 M74.50,323.7 v2.4 M75.30,323.7 v1.3 M76.10,323.7 v1.3 M76.90,323.7 v1.3 M77.70,323.7 v1.3 M78.50,323.7 v1.3 M73.20,323.7 v2.2 M79.85,323.7 v1.4 M83.74,323.7 v1.4 M86.51,323.7 v1.4 M88.65,323.7 v1.4 M90.40,323.7 v1.4 M91.88,323.7 v1.4 M93.16,323.7 v1.4 M94.29,323.7 v1.4 M95.30,323.7 v2.2 M101.95,323.7 v1.4 M105.84,323.7 v1.4 M108.61,323.7 v1.4 M110.75,323.7 v1.4 M112.50,323.7 v1.4 M113.98,323.7 v1.4 M115.26,323.7 v1.4 M116.39,323.7 v1.4 M117.40,323.7 v2.2 M124.05,323.7 v1.4 M127.94,323.7 v1.4 M130.71,323.7 v1.4 M132.85,323.7 v1.4 M134.60,323.7 v1.4 M136.08,323.7 v1.4 M137.36,323.7 v1.4 M138.49,323.7 v1.4" stroke="#1a1a1a" stroke-width="0.75" fill="none"/>
<polyline points="56.54,323.16 60.77,322.65 67.54,320.62 72.62,318.08 76.00,314.69 80.23,308.77 83.62,300.31 86.15,291.85 87.85,285.08 89.54,274.92 91.23,266.46 92.92,259.69 94.62,256.65 95.97,258.85 97.32,265.62 98.51,278.31 99.69,293.54 100.71,307.08 101.89,317.23 103.42,321.46 105.62,322.82 111.54,323.16 121.69,323.16 139.46,323.16" fill="none" stroke="#c3173f" stroke-width="1.5" stroke-linejoin="round" stroke-linecap="butt" stroke-dasharray="3.2 2.2"/>
<polyline points="56.54,317.23 57.38,321.46 59.92,320.62 64.15,321.46 69.23,320.62 74.31,320.11 79.39,319.43 83.62,318.59 87.85,316.89 90.39,315.88 92.59,314.19 94.28,311.82 95.63,311.31 97.15,313.00 98.85,313.51 100.71,312.49 102.23,307.08 103.42,295.23 104.43,280.00 105.62,268.15 106.80,256.31 107.82,251.23 108.49,250.22 109.34,252.08 110.35,261.39 111.54,278.31 112.72,296.92 114.08,310.46 115.26,316.89 116.95,320.62 119.15,322.31 125.08,323.16 139.46,323.16" fill="none" stroke="#3d7a5c" stroke-width="1.2" stroke-linejoin="round" stroke-linecap="butt" />
<polyline points="56.54,323.16 64.15,323.16 72.62,322.82 81.08,322.31 87.85,321.12 91.57,319.77 94.28,318.08 95.97,317.23 97.66,318.42 99.69,319.60 103.08,320.28 106.46,320.62 108.49,319.26 110.19,314.69 111.88,305.39 113.57,291.85 115.26,276.62 116.62,266.46 117.63,262.23 118.48,262.74 119.49,268.15 120.51,278.31 121.69,293.54 123.05,307.08 124.74,315.54 126.77,320.11 130.16,322.31 134.39,323.16 137.77,322.82 138.62,320.62 139.46,316.89" fill="none" stroke="#5b2a84" stroke-width="1.2" stroke-linejoin="round" stroke-linecap="butt" />
<text x="58.80" y="245.70" font-size="7.2" fill="#c3173f" stroke="#c3173f" stroke-width="0.06" textLength="11" lengthAdjust="spacingAndGlyphs">IgG</text>
<text x="58.80" y="254.60" font-size="7.2" fill="#5b2a84" stroke="#5b2a84" stroke-width="0.06" textLength="37" lengthAdjust="spacingAndGlyphs">Sh <tspan font-style="italic">Scramble</tspan></text>
<text x="58.80" y="263.80" font-size="7.2" fill="#3d7a5c" stroke="#3d7a5c" stroke-width="0.06" textLength="32" lengthAdjust="spacingAndGlyphs">Sh <tspan font-style="italic">TFR2#1</tspan></text>
<text x="71.3" y="336.7" font-size="8.0" fill="#2a2a2a" text-anchor="middle" stroke="#2a2a2a" stroke-width="0.2">0</text><text x="90.60" y="336.7" font-size="8.0" fill="#2a2a2a" textLength="12.0" lengthAdjust="spacingAndGlyphs" stroke="#2a2a2a" stroke-width="0.2">10<tspan font-size="6.0" dy="-3.2">3</tspan></text><text x="113.30" y="336.7" font-size="8.0" fill="#2a2a2a" textLength="12.0" lengthAdjust="spacingAndGlyphs" stroke="#2a2a2a" stroke-width="0.2">10<tspan font-size="6.0" dy="-3.2">4</tspan></text>
<path d="M159.5,324.2 L159.5,239.7 L242.9,239.7 L242.9,324.2" fill="none" stroke="#1a1a1a" stroke-width="1.25"/>
<line x1="159.50" y1="323.70" x2="242.90" y2="323.70" stroke="#1a1a1a" stroke-width="1.1" />
<line x1="156.30" y1="323.70" x2="159.50" y2="323.70" stroke="#1a1a1a" stroke-width="0.9" />
<text x="153.10" y="326.35" font-size="7.7" fill="#2a2a2a" text-anchor="end"  stroke="#2a2a2a" stroke-width="0.2">0</text>
<line x1="156.30" y1="307.64" x2="159.50" y2="307.64" stroke="#1a1a1a" stroke-width="0.9" />
<text x="153.10" y="310.29" font-size="7.7" fill="#2a2a2a" text-anchor="end"  stroke="#2a2a2a" stroke-width="0.2">20</text>
<line x1="156.30" y1="291.58" x2="159.50" y2="291.58" stroke="#1a1a1a" stroke-width="0.9" />
<text x="153.10" y="294.23" font-size="7.7" fill="#2a2a2a" text-anchor="end"  stroke="#2a2a2a" stroke-width="0.2">40</text>
<line x1="156.30" y1="275.52" x2="159.50" y2="275.52" stroke="#1a1a1a" stroke-width="0.9" />
<text x="153.10" y="278.17" font-size="7.7" fill="#2a2a2a" text-anchor="end"  stroke="#2a2a2a" stroke-width="0.2">60</text>
<line x1="156.30" y1="259.46" x2="159.50" y2="259.46" stroke="#1a1a1a" stroke-width="0.9" />
<text x="153.10" y="262.11" font-size="7.7" fill="#2a2a2a" text-anchor="end"  stroke="#2a2a2a" stroke-width="0.2">80</text>
<line x1="156.30" y1="243.40" x2="159.50" y2="243.40" stroke="#1a1a1a" stroke-width="0.9" />
<text x="153.10" y="246.05" font-size="7.7" fill="#2a2a2a" text-anchor="end"  stroke="#2a2a2a" stroke-width="0.2">100</text>
<line x1="157.80" y1="319.69" x2="159.50" y2="319.69" stroke="#1a1a1a" stroke-width="0.7" />
<line x1="157.80" y1="315.67" x2="159.50" y2="315.67" stroke="#1a1a1a" stroke-width="0.7" />
<line x1="157.80" y1="311.65" x2="159.50" y2="311.65" stroke="#1a1a1a" stroke-width="0.7" />
<line x1="157.80" y1="303.62" x2="159.50" y2="303.62" stroke="#1a1a1a" stroke-width="0.7" />
<line x1="157.80" y1="299.61" x2="159.50" y2="299.61" stroke="#1a1a1a" stroke-width="0.7" />
<line x1="157.80" y1="295.60" x2="159.50" y2="295.60" stroke="#1a1a1a" stroke-width="0.7" />
<line x1="157.80" y1="287.56" x2="159.50" y2="287.56" stroke="#1a1a1a" stroke-width="0.7" />
<line x1="157.80" y1="283.55" x2="159.50" y2="283.55" stroke="#1a1a1a" stroke-width="0.7" />
<line x1="157.80" y1="279.54" x2="159.50" y2="279.54" stroke="#1a1a1a" stroke-width="0.7" />
<line x1="157.80" y1="271.50" x2="159.50" y2="271.50" stroke="#1a1a1a" stroke-width="0.7" />
<line x1="157.80" y1="267.49" x2="159.50" y2="267.49" stroke="#1a1a1a" stroke-width="0.7" />
<line x1="157.80" y1="263.48" x2="159.50" y2="263.48" stroke="#1a1a1a" stroke-width="0.7" />
<line x1="157.80" y1="255.44" x2="159.50" y2="255.44" stroke="#1a1a1a" stroke-width="0.7" />
<line x1="157.80" y1="251.43" x2="159.50" y2="251.43" stroke="#1a1a1a" stroke-width="0.7" />
<line x1="157.80" y1="247.42" x2="159.50" y2="247.42" stroke="#1a1a1a" stroke-width="0.7" />
<path d="M161.50,323.7 v1.3 M162.30,323.7 v1.3 M163.10,323.7 v1.3 M163.90,323.7 v1.3 M164.70,323.7 v1.3 M165.50,323.7 v1.3 M166.30,323.7 v1.3 M167.10,323.7 v1.3 M167.90,323.7 v1.3 M168.70,323.7 v2.4 M169.50,323.7 v2.4 M170.30,323.7 v2.4 M171.10,323.7 v2.4 M171.90,323.7 v2.4 M172.70,323.7 v2.4 M173.50,323.7 v2.4 M174.30,323.7 v2.4 M175.10,323.7 v2.4 M175.90,323.7 v2.4 M176.70,323.7 v2.4 M177.50,323.7 v2.4 M178.30,323.7 v1.3 M179.10,323.7 v1.3 M179.90,323.7 v1.3 M180.70,323.7 v1.3 M181.50,323.7 v1.3 M176.20,323.7 v2.2 M182.85,323.7 v1.4 M186.74,323.7 v1.4 M189.51,323.7 v1.4 M191.65,323.7 v1.4 M193.40,323.7 v1.4 M194.88,323.7 v1.4 M196.16,323.7 v1.4 M197.29,323.7 v1.4 M198.30,323.7 v2.2 M204.95,323.7 v1.4 M208.84,323.7 v1.4 M211.61,323.7 v1.4 M213.75,323.7 v1.4 M215.50,323.7 v1.4 M216.98,323.7 v1.4 M218.26,323.7 v1.4 M219.39,323.7 v1.4 M220.40,323.7 v2.2 M227.05,323.7 v1.4 M230.94,323.7 v1.4 M233.71,323.7 v1.4 M235.85,323.7 v1.4 M237.60,323.7 v1.4 M239.08,323.7 v1.4 M240.36,323.7 v1.4 M241.49,323.7 v1.4" stroke="#1a1a1a" stroke-width="0.75" fill="none"/>
<polyline points="159.54,323.16 163.77,322.65 170.54,320.62 175.62,318.08 179.85,314.19 184.08,308.43 187.46,299.97 190.00,291.85 191.69,285.08 193.39,274.92 195.08,266.46 196.77,259.69 198.46,256.65 199.65,258.85 201.00,265.62 202.19,278.31 203.37,293.54 204.39,307.08 205.57,317.23 207.09,321.46 209.46,322.82 214.54,323.16 242.46,323.16" fill="none" stroke="#c3173f" stroke-width="1.5" stroke-linejoin="round" stroke-linecap="butt" stroke-dasharray="3.2 2.2"/>
<polyline points="159.54,321.46 162.92,322.31 167.15,322.31 173.92,321.46 182.39,319.77 189.15,318.59 192.54,317.57 195.92,316.89 198.46,316.39 200.15,314.69 201.34,315.54 203.54,316.39 205.23,314.69 206.92,307.08 208.28,293.54 209.46,276.62 210.82,261.39 212.00,252.92 213.19,250.38 214.20,252.92 215.39,264.77 216.57,283.39 217.92,302.00 219.28,313.85 220.97,319.77 223.85,322.31 229.77,323.16 242.46,323.16" fill="none" stroke="#3d7a5c" stroke-width="1.2" stroke-linejoin="round" stroke-linecap="butt" />
<polyline points="159.54,323.16 167.15,323.16 175.62,322.99 184.08,322.31 190.85,320.96 195.08,319.60 197.62,318.59 199.65,317.91 201.34,318.92 203.54,320.11 206.92,320.96 209.80,320.62 212.00,318.92 213.69,314.69 215.39,305.39 217.08,291.85 218.77,276.62 220.12,266.46 221.14,262.23 221.99,263.08 223.00,269.00 224.02,280.00 225.20,295.23 226.55,308.77 228.08,317.23 230.11,321.46 234.00,322.82 239.92,323.16 241.28,321.46 242.46,318.08" fill="none" stroke="#5b2a84" stroke-width="1.2" stroke-linejoin="round" stroke-linecap="butt" />
<text x="161.80" y="245.70" font-size="7.2" fill="#c3173f" stroke="#c3173f" stroke-width="0.06" textLength="11" lengthAdjust="spacingAndGlyphs">IgG</text>
<text x="161.80" y="254.60" font-size="7.2" fill="#5b2a84" stroke="#5b2a84" stroke-width="0.06" textLength="37" lengthAdjust="spacingAndGlyphs">Sh <tspan font-style="italic">Scramble</tspan></text>
<text x="161.80" y="263.80" font-size="7.2" fill="#3d7a5c" stroke="#3d7a5c" stroke-width="0.06" textLength="32" lengthAdjust="spacingAndGlyphs">Sh <tspan font-style="italic">TFR2#2</tspan></text>
<text x="174.6" y="336.7" font-size="8.0" fill="#2a2a2a" text-anchor="middle" stroke="#2a2a2a" stroke-width="0.2">0</text><text x="193.90" y="336.7" font-size="8.0" fill="#2a2a2a" textLength="12.0" lengthAdjust="spacingAndGlyphs" stroke="#2a2a2a" stroke-width="0.2">10<tspan font-size="6.0" dy="-3.2">3</tspan></text><text x="216.60" y="336.7" font-size="8.0" fill="#2a2a2a" textLength="12.0" lengthAdjust="spacingAndGlyphs" stroke="#2a2a2a" stroke-width="0.2">10<tspan font-size="6.0" dy="-3.2">4</tspan></text>
<text x="308.10" y="221.90" font-size="12.1" font-weight="bold" fill="#000" stroke="#000" stroke-width="0.35">C</text>
<rect x="373.20" y="264.80" width="21.90" height="58.50" fill="#521f5f" />
<rect x="405.90" y="292.59" width="22.30" height="30.71" fill="#4a5163" />
<rect x="438.50" y="289.66" width="22.20" height="33.64" fill="#c6006f" />
<line x1="417.00" y1="292.59" x2="417.00" y2="288.10" stroke="#1a1a1a" stroke-width="1.0" />
<line x1="411.80" y1="288.10" x2="422.20" y2="288.10" stroke="#1a1a1a" stroke-width="1.0" />
<line x1="449.60" y1="289.66" x2="449.60" y2="283.60" stroke="#1a1a1a" stroke-width="1.0" />
<line x1="444.40" y1="283.60" x2="454.80" y2="283.60" stroke="#1a1a1a" stroke-width="1.0" />
<text x="417.30" y="288.20" font-size="8.2" fill="#222" text-anchor="middle" letter-spacing="0.7" stroke="#222" stroke-width="0.2">***</text>
<text x="449.90" y="283.20" font-size="8.2" fill="#222" text-anchor="middle" letter-spacing="0.7" stroke="#222" stroke-width="0.2">**</text>
<line x1="361.80" y1="233.00" x2="361.80" y2="323.30" stroke="#1a1a1a" stroke-width="1.1" />
<line x1="361.30" y1="323.30" x2="471.50" y2="323.30" stroke="#1a1a1a" stroke-width="1.1" />
<line x1="358.60" y1="323.30" x2="361.80" y2="323.30" stroke="#1a1a1a" stroke-width="1.0" />
<text x="356.00" y="326.00" font-size="7.6" fill="#2a2a2a" text-anchor="end" textLength="11.8" lengthAdjust="spacingAndGlyphs" stroke="#2a2a2a" stroke-width="0.2">0.0</text>
<line x1="358.60" y1="294.05" x2="361.80" y2="294.05" stroke="#1a1a1a" stroke-width="1.0" />
<text x="356.00" y="296.75" font-size="7.6" fill="#2a2a2a" text-anchor="end" textLength="11.8" lengthAdjust="spacingAndGlyphs" stroke="#2a2a2a" stroke-width="0.2">0.5</text>
<line x1="358.60" y1="264.80" x2="361.80" y2="264.80" stroke="#1a1a1a" stroke-width="1.0" />
<text x="356.00" y="267.50" font-size="7.6" fill="#2a2a2a" text-anchor="end" textLength="11.8" lengthAdjust="spacingAndGlyphs" stroke="#2a2a2a" stroke-width="0.2">1.0</text>
<line x1="358.60" y1="235.55" x2="361.80" y2="235.55" stroke="#1a1a1a" stroke-width="1.0" />
<text x="356.00" y="238.25" font-size="7.6" fill="#2a2a2a" text-anchor="end" textLength="11.8" lengthAdjust="spacingAndGlyphs" stroke="#2a2a2a" stroke-width="0.2">1.5</text>
<line x1="384.10" y1="323.30" x2="384.10" y2="326.30" stroke="#1a1a1a" stroke-width="0.9" />
<line x1="417.00" y1="323.30" x2="417.00" y2="326.30" stroke="#1a1a1a" stroke-width="0.9" />
<line x1="449.60" y1="323.30" x2="449.60" y2="326.30" stroke="#1a1a1a" stroke-width="0.9" />
<text x="388.3" y="334.2" font-size="8.2" fill="#2a2a2a" text-anchor="end" transform="rotate(-45 388.3 334.2)" stroke="#2a2a2a" stroke-width="0.2">Sh Scramble</text>
<text x="420.8" y="334.2" font-size="8.2" fill="#2a2a2a" text-anchor="end" transform="rotate(-45 420.8 334.2)" stroke="#2a2a2a" stroke-width="0.2">Sh <tspan font-style="italic">TFR2</tspan> #1</text>
<text x="453.3" y="334.2" font-size="8.2" fill="#2a2a2a" text-anchor="end" transform="rotate(-45 453.3 334.2)" stroke="#2a2a2a" stroke-width="0.2">Sh <tspan font-style="italic">TFR2</tspan> #2</text>
<text x="326.3" y="278.0" font-size="9.2" fill="#2a2a2a" text-anchor="middle" transform="rotate(-90 326.3 278.0)" textLength="87.5" lengthAdjust="spacingAndGlyphs" stroke="#2a2a2a" stroke-width="0.2">Normalized fluorescence</text>
<text x="338.8" y="278.0" font-size="9.2" fill="#2a2a2a" text-anchor="middle" transform="rotate(-90 338.8 278.0)" textLength="50.5" lengthAdjust="spacingAndGlyphs" stroke="#2a2a2a" stroke-width="0.2">intensity pERK</text>
<text x="7.30" y="383.40" font-size="12.1" font-weight="bold" fill="#000" stroke="#000" stroke-width="0.35">D</text>
<text x="97.3" y="394.2" font-size="10.2" fill="#222" text-anchor="middle" textLength="56" lengthAdjust="spacingAndGlyphs" stroke="#222" stroke-width="0.2">Murine MEP</text>
<path d="M31.3,399.6 L31.3,497.9 L254.9,497.9" fill="none" stroke="#222" stroke-width="1.1"/>
<text x="32.00" y="509.80" font-size="9.0" fill="#2a2a2a" textLength="17.8" lengthAdjust="spacingAndGlyphs" stroke="#2a2a2a" stroke-width="0.2">pERK</text>
<text x="24.60" y="448.50" font-size="9.6" fill="#222" text-anchor="middle" transform="rotate(-90 24.60 448.50)" textLength="75" lengthAdjust="spacingAndGlyphs" stroke="#222" stroke-width="0.2">Normalized by mode</text>
<path d="M56.5,480.8 L56.5,400.0 L137.8,400.0 L137.8,480.8" fill="none" stroke="#1a1a1a" stroke-width="1.25"/>
<line x1="56.50" y1="480.30" x2="137.80" y2="480.30" stroke="#1a1a1a" stroke-width="1.1" />
<line x1="53.30" y1="480.30" x2="56.50" y2="480.30" stroke="#1a1a1a" stroke-width="0.9" />
<text x="50.10" y="482.95" font-size="7.7" fill="#2a2a2a" text-anchor="end"  stroke="#2a2a2a" stroke-width="0.2">0</text>
<line x1="53.30" y1="464.96" x2="56.50" y2="464.96" stroke="#1a1a1a" stroke-width="0.9" />
<text x="50.10" y="467.61" font-size="7.7" fill="#2a2a2a" text-anchor="end"  stroke="#2a2a2a" stroke-width="0.2">20</text>
<line x1="53.30" y1="449.62" x2="56.50" y2="449.62" stroke="#1a1a1a" stroke-width="0.9" />
<text x="50.10" y="452.27" font-size="7.7" fill="#2a2a2a" text-anchor="end"  stroke="#2a2a2a" stroke-width="0.2">40</text>
<line x1="53.30" y1="434.28" x2="56.50" y2="434.28" stroke="#1a1a1a" stroke-width="0.9" />
<text x="50.10" y="436.93" font-size="7.7" fill="#2a2a2a" text-anchor="end"  stroke="#2a2a2a" stroke-width="0.2">60</text>
<line x1="53.30" y1="418.94" x2="56.50" y2="418.94" stroke="#1a1a1a" stroke-width="0.9" />
<text x="50.10" y="421.59" font-size="7.7" fill="#2a2a2a" text-anchor="end"  stroke="#2a2a2a" stroke-width="0.2">80</text>
<line x1="53.30" y1="403.60" x2="56.50" y2="403.60" stroke="#1a1a1a" stroke-width="0.9" />
<text x="50.10" y="406.25" font-size="7.7" fill="#2a2a2a" text-anchor="end"  stroke="#2a2a2a" stroke-width="0.2">100</text>
<line x1="54.80" y1="476.47" x2="56.50" y2="476.47" stroke="#1a1a1a" stroke-width="0.7" />
<line x1="54.80" y1="472.63" x2="56.50" y2="472.63" stroke="#1a1a1a" stroke-width="0.7" />
<line x1="54.80" y1="468.80" x2="56.50" y2="468.80" stroke="#1a1a1a" stroke-width="0.7" />
<line x1="54.80" y1="461.12" x2="56.50" y2="461.12" stroke="#1a1a1a" stroke-width="0.7" />
<line x1="54.80" y1="457.29" x2="56.50" y2="457.29" stroke="#1a1a1a" stroke-width="0.7" />
<line x1="54.80" y1="453.46" x2="56.50" y2="453.46" stroke="#1a1a1a" stroke-width="0.7" />
<line x1="54.80" y1="445.79" x2="56.50" y2="445.79" stroke="#1a1a1a" stroke-width="0.7" />
<line x1="54.80" y1="441.95" x2="56.50" y2="441.95" stroke="#1a1a1a" stroke-width="0.7" />
<line x1="54.80" y1="438.12" x2="56.50" y2="438.12" stroke="#1a1a1a" stroke-width="0.7" />
<line x1="54.80" y1="430.44" x2="56.50" y2="430.44" stroke="#1a1a1a" stroke-width="0.7" />
<line x1="54.80" y1="426.61" x2="56.50" y2="426.61" stroke="#1a1a1a" stroke-width="0.7" />
<line x1="54.80" y1="422.78" x2="56.50" y2="422.78" stroke="#1a1a1a" stroke-width="0.7" />
<line x1="54.80" y1="415.11" x2="56.50" y2="415.11" stroke="#1a1a1a" stroke-width="0.7" />
<line x1="54.80" y1="411.27" x2="56.50" y2="411.27" stroke="#1a1a1a" stroke-width="0.7" />
<line x1="54.80" y1="407.44" x2="56.50" y2="407.44" stroke="#1a1a1a" stroke-width="0.7" />
<path d="M56.50,480.3 v2.2 M62.62,480.3 v1.4 M66.20,480.3 v1.4 M68.74,480.3 v1.4 M70.71,480.3 v1.4 M72.32,480.3 v1.4 M73.68,480.3 v1.4 M74.86,480.3 v1.4 M75.89,480.3 v1.4 M76.83,480.3 v2.2 M82.94,480.3 v1.4 M86.52,480.3 v1.4 M89.06,480.3 v1.4 M91.03,480.3 v1.4 M92.64,480.3 v1.4 M94.00,480.3 v1.4 M95.18,480.3 v1.4 M96.22,480.3 v1.4 M97.15,480.3 v2.2 M103.27,480.3 v1.4 M106.85,480.3 v1.4 M109.39,480.3 v1.4 M111.36,480.3 v1.4 M112.97,480.3 v1.4 M114.33,480.3 v1.4 M115.51,480.3 v1.4 M116.54,480.3 v1.4 M117.48,480.3 v2.2 M123.59,480.3 v1.4 M127.17,480.3 v1.4 M129.71,480.3 v1.4 M131.68,480.3 v1.4 M133.29,480.3 v1.4 M134.65,480.3 v1.4 M135.83,480.3 v1.4 M136.87,480.3 v1.4" stroke="#1a1a1a" stroke-width="0.75" fill="none"/>
<polyline points="57.00,480.20 76.00,480.20 79.40,479.10 84.50,477.40 89.50,474.20 92.20,472.10 94.40,462.10 96.70,452.10 98.30,443.30 100.00,432.20 101.10,425.50 102.00,421.60 103.10,425.50 104.40,434.40 106.10,439.90 107.70,437.70 108.80,445.50 110.50,456.60 112.70,465.40 114.90,474.30 116.60,477.60 118.80,479.80 122.00,480.20 137.50,480.20" fill="none" stroke="#c3173f" stroke-width="1.5" stroke-linejoin="round" stroke-linecap="butt" stroke-dasharray="3.2 2.2"/>
<polyline points="57.00,480.20 82.80,479.90 87.80,478.90 92.10,476.90 94.40,475.40 96.70,471.00 98.90,469.90 101.10,465.40 102.70,462.10 103.90,461.00 105.00,448.80 105.50,432.20 106.40,426.60 107.50,428.30 108.60,424.40 109.70,421.10 110.50,417.20 111.60,422.20 112.70,423.90 113.80,424.40 114.60,432.20 115.70,439.90 117.20,451.00 118.80,458.80 120.50,465.40 122.20,468.80 124.40,472.10 126.60,475.40 129.40,477.60 132.10,478.70 134.90,479.30 136.30,476.50 137.10,467.60" fill="none" stroke="#5b2a84" stroke-width="1.1" stroke-linejoin="round" stroke-linecap="butt" />
<polyline points="57.20,465.40 57.60,480.20 80.00,480.20 86.00,479.60 90.00,476.50 93.30,474.30 96.70,470.40 98.90,468.80 100.50,464.30 101.60,453.20 102.70,451.00 103.90,447.70 105.00,437.70 106.10,431.10 107.50,428.80 108.60,423.90 109.70,431.10 111.10,436.60 112.70,439.90 113.80,446.60 114.90,454.30 116.60,463.20 118.30,472.10 119.90,476.50 123.30,478.20 128.80,479.30 134.90,479.30 136.60,475.40 137.10,468.80" fill="none" stroke="#3d7a5c" stroke-width="1.1" stroke-linejoin="round" stroke-linecap="butt" />
<text x="61.50" y="407.70" font-size="7.2" fill="#c3173f" stroke="#c3173f" stroke-width="0.06" textLength="10.6" lengthAdjust="spacingAndGlyphs">IgG</text>
<text x="61.50" y="416.30" font-size="7.2" fill="#5b2a84" stroke="#5b2a84" stroke-width="0.06" textLength="10.3" lengthAdjust="spacingAndGlyphs">WT</text>
<text x="61.50" y="424.90" font-size="7.2" fill="#3d7a5c" stroke="#3d7a5c" stroke-width="0.06" textLength="29.8" lengthAdjust="spacingAndGlyphs"><tspan font-style="italic">Tmprss6</tspan><tspan font-size="4" dy="-2.4">-/-</tspan></text>
<text x="51.10" y="494.9" font-size="8.0" fill="#2a2a2a" textLength="12.0" lengthAdjust="spacingAndGlyphs" stroke="#2a2a2a" stroke-width="0.2">10<tspan font-size="6.0" dy="-3.2">0</tspan></text><text x="71.45" y="494.9" font-size="8.0" fill="#2a2a2a" textLength="12.0" lengthAdjust="spacingAndGlyphs" stroke="#2a2a2a" stroke-width="0.2">10<tspan font-size="6.0" dy="-3.2">1</tspan></text><text x="91.80" y="494.9" font-size="8.0" fill="#2a2a2a" textLength="12.0" lengthAdjust="spacingAndGlyphs" stroke="#2a2a2a" stroke-width="0.2">10<tspan font-size="6.0" dy="-3.2">2</tspan></text><text x="112.15" y="494.9" font-size="8.0" fill="#2a2a2a" textLength="12.0" lengthAdjust="spacingAndGlyphs" stroke="#2a2a2a" stroke-width="0.2">10<tspan font-size="6.0" dy="-3.2">3</tspan></text>
<path d="M159.5,480.8 L159.5,399.8 L241.7,399.8 L241.7,480.8" fill="none" stroke="#1a1a1a" stroke-width="1.25"/>
<line x1="159.50" y1="480.30" x2="241.70" y2="480.30" stroke="#1a1a1a" stroke-width="1.1" />
<line x1="156.30" y1="480.30" x2="159.50" y2="480.30" stroke="#1a1a1a" stroke-width="0.9" />
<text x="153.10" y="482.95" font-size="7.7" fill="#2a2a2a" text-anchor="end"  stroke="#2a2a2a" stroke-width="0.2">0</text>
<line x1="156.30" y1="464.96" x2="159.50" y2="464.96" stroke="#1a1a1a" stroke-width="0.9" />
<text x="153.10" y="467.61" font-size="7.7" fill="#2a2a2a" text-anchor="end"  stroke="#2a2a2a" stroke-width="0.2">20</text>
<line x1="156.30" y1="449.62" x2="159.50" y2="449.62" stroke="#1a1a1a" stroke-width="0.9" />
<text x="153.10" y="452.27" font-size="7.7" fill="#2a2a2a" text-anchor="end"  stroke="#2a2a2a" stroke-width="0.2">40</text>
<line x1="156.30" y1="434.28" x2="159.50" y2="434.28" stroke="#1a1a1a" stroke-width="0.9" />
<text x="153.10" y="436.93" font-size="7.7" fill="#2a2a2a" text-anchor="end"  stroke="#2a2a2a" stroke-width="0.2">60</text>
<line x1="156.30" y1="418.94" x2="159.50" y2="418.94" stroke="#1a1a1a" stroke-width="0.9" />
<text x="153.10" y="421.59" font-size="7.7" fill="#2a2a2a" text-anchor="end"  stroke="#2a2a2a" stroke-width="0.2">80</text>
<line x1="156.30" y1="403.60" x2="159.50" y2="403.60" stroke="#1a1a1a" stroke-width="0.9" />
<text x="153.10" y="406.25" font-size="7.7" fill="#2a2a2a" text-anchor="end"  stroke="#2a2a2a" stroke-width="0.2">100</text>
<line x1="157.80" y1="476.47" x2="159.50" y2="476.47" stroke="#1a1a1a" stroke-width="0.7" />
<line x1="157.80" y1="472.63" x2="159.50" y2="472.63" stroke="#1a1a1a" stroke-width="0.7" />
<line x1="157.80" y1="468.80" x2="159.50" y2="468.80" stroke="#1a1a1a" stroke-width="0.7" />
<line x1="157.80" y1="461.12" x2="159.50" y2="461.12" stroke="#1a1a1a" stroke-width="0.7" />
<line x1="157.80" y1="457.29" x2="159.50" y2="457.29" stroke="#1a1a1a" stroke-width="0.7" />
<line x1="157.80" y1="453.46" x2="159.50" y2="453.46" stroke="#1a1a1a" stroke-width="0.7" />
<line x1="157.80" y1="445.79" x2="159.50" y2="445.79" stroke="#1a1a1a" stroke-width="0.7" />
<line x1="157.80" y1="441.95" x2="159.50" y2="441.95" stroke="#1a1a1a" stroke-width="0.7" />
<line x1="157.80" y1="438.12" x2="159.50" y2="438.12" stroke="#1a1a1a" stroke-width="0.7" />
<line x1="157.80" y1="430.44" x2="159.50" y2="430.44" stroke="#1a1a1a" stroke-width="0.7" />
<line x1="157.80" y1="426.61" x2="159.50" y2="426.61" stroke="#1a1a1a" stroke-width="0.7" />
<line x1="157.80" y1="422.78" x2="159.50" y2="422.78" stroke="#1a1a1a" stroke-width="0.7" />
<line x1="157.80" y1="415.11" x2="159.50" y2="415.11" stroke="#1a1a1a" stroke-width="0.7" />
<line x1="157.80" y1="411.27" x2="159.50" y2="411.27" stroke="#1a1a1a" stroke-width="0.7" />
<line x1="157.80" y1="407.44" x2="159.50" y2="407.44" stroke="#1a1a1a" stroke-width="0.7" />
<path d="M159.50,480.3 v2.2 M165.69,480.3 v1.4 M169.30,480.3 v1.4 M171.87,480.3 v1.4 M173.86,480.3 v1.4 M175.49,480.3 v1.4 M176.87,480.3 v1.4 M178.06,480.3 v1.4 M179.11,480.3 v1.4 M180.05,480.3 v2.2 M186.24,480.3 v1.4 M189.85,480.3 v1.4 M192.42,480.3 v1.4 M194.41,480.3 v1.4 M196.04,480.3 v1.4 M197.42,480.3 v1.4 M198.61,480.3 v1.4 M199.66,480.3 v1.4 M200.60,480.3 v2.2 M206.79,480.3 v1.4 M210.40,480.3 v1.4 M212.97,480.3 v1.4 M214.96,480.3 v1.4 M216.59,480.3 v1.4 M217.97,480.3 v1.4 M219.16,480.3 v1.4 M220.21,480.3 v1.4 M221.15,480.3 v2.2 M227.34,480.3 v1.4 M230.95,480.3 v1.4 M233.52,480.3 v1.4 M235.51,480.3 v1.4 M237.14,480.3 v1.4 M238.52,480.3 v1.4 M239.71,480.3 v1.4 M240.76,480.3 v1.4" stroke="#1a1a1a" stroke-width="0.75" fill="none"/>
<polyline points="160.20,480.20 173.90,480.10 175.00,480.00 183.10,477.30 188.50,473.30 192.50,467.90 196.50,458.50 198.60,450.40 199.90,441.00 201.20,431.50 201.90,423.50 203.30,422.80 207.30,421.40 208.40,427.50 209.30,438.30 210.30,449.00 211.30,461.10 212.70,470.60 214.70,476.00 218.10,478.60 222.10,480.00 241.00,480.20" fill="none" stroke="#c3173f" stroke-width="1.5" stroke-linejoin="round" stroke-linecap="butt" stroke-dasharray="3.2 2.2"/>
<polyline points="160.20,480.20 175.00,480.00 183.10,479.30 188.50,476.00 193.80,474.60 197.90,471.90 200.60,467.90 202.60,461.10 203.90,459.80 205.30,455.80 206.60,447.70 208.00,441.00 209.30,434.20 210.70,430.20 212.00,431.50 213.40,426.20 214.70,422.80 216.00,428.80 217.80,436.90 219.40,441.00 221.40,443.60 222.40,450.40 223.50,461.10 225.50,469.20 228.20,474.60 231.50,478.00 235.60,479.30 239.60,480.00 241.00,473.30 241.60,465.20" fill="none" stroke="#5b2a84" stroke-width="1.1" stroke-linejoin="round" stroke-linecap="butt" />
<polyline points="161.00,400.60 161.20,480.10 173.90,479.90 175.00,477.30 179.00,478.00 183.10,474.60 185.80,472.60 188.50,471.20 190.50,473.30 193.20,469.90 195.20,465.20 196.50,459.80 197.90,455.80 199.90,451.70 201.20,446.30 202.60,441.00 203.90,436.20 205.30,434.20 206.60,428.80 208.00,422.80 208.90,430.20 210.30,438.30 211.30,435.60 212.70,432.20 214.00,432.90 215.40,439.60 216.70,447.70 218.10,458.50 220.10,465.20 222.10,470.60 224.80,476.00 228.80,478.60 234.20,480.00 241.00,480.20" fill="none" stroke="#3d7a5c" stroke-width="1.1" stroke-linejoin="round" stroke-linecap="butt" />
<text x="163.60" y="407.50" font-size="7.2" fill="#c3173f" stroke="#c3173f" stroke-width="0.06" textLength="10.4" lengthAdjust="spacingAndGlyphs">IgG</text>
<text x="163.60" y="416.50" font-size="7.2" fill="#5b2a84" stroke="#5b2a84" stroke-width="0.06" textLength="41.5" lengthAdjust="spacingAndGlyphs">WT untreated</text>
<text x="163.60" y="425.50" font-size="7.2" fill="#3d7a5c" stroke="#3d7a5c" stroke-width="0.06" textLength="37.1" lengthAdjust="spacingAndGlyphs">WT+mVEGF</text>
<text x="154.20" y="494.9" font-size="8.0" fill="#2a2a2a" textLength="12.0" lengthAdjust="spacingAndGlyphs" stroke="#2a2a2a" stroke-width="0.2">10<tspan font-size="6.0" dy="-3.2">0</tspan></text><text x="174.75" y="494.9" font-size="8.0" fill="#2a2a2a" textLength="12.0" lengthAdjust="spacingAndGlyphs" stroke="#2a2a2a" stroke-width="0.2">10<tspan font-size="6.0" dy="-3.2">1</tspan></text><text x="195.30" y="494.9" font-size="8.0" fill="#2a2a2a" textLength="12.0" lengthAdjust="spacingAndGlyphs" stroke="#2a2a2a" stroke-width="0.2">10<tspan font-size="6.0" dy="-3.2">2</tspan></text><text x="215.85" y="494.9" font-size="8.0" fill="#2a2a2a" textLength="12.0" lengthAdjust="spacingAndGlyphs" stroke="#2a2a2a" stroke-width="0.2">10<tspan font-size="6.0" dy="-3.2">3</tspan></text>
<text x="308.40" y="383.50" font-size="12.1" font-weight="bold" fill="#000" stroke="#000" stroke-width="0.35">E</text>
<rect x="374.40" y="407.00" width="25.30" height="73.60" fill="#521f5f" />
<rect x="412.20" y="421.72" width="25.00" height="58.88" fill="#33674e" />
<rect x="450.00" y="433.86" width="24.70" height="46.74" fill="#8983c1" />
<line x1="424.60" y1="421.72" x2="424.60" y2="419.20" stroke="#1a1a1a" stroke-width="1.0" />
<line x1="418.30" y1="419.20" x2="430.80" y2="419.20" stroke="#1a1a1a" stroke-width="1.0" />
<line x1="462.20" y1="433.86" x2="462.20" y2="426.00" stroke="#1a1a1a" stroke-width="1.0" />
<line x1="456.00" y1="426.00" x2="468.30" y2="426.00" stroke="#1a1a1a" stroke-width="1.0" />
<text x="424.90" y="418.60" font-size="8.2" fill="#222" text-anchor="middle" letter-spacing="0.4" stroke="#222" stroke-width="0.2">****</text>
<text x="462.50" y="425.60" font-size="8.2" fill="#222" text-anchor="middle" letter-spacing="0.5" stroke="#222" stroke-width="0.2">***</text>
<line x1="362.20" y1="392.50" x2="362.20" y2="480.60" stroke="#1a1a1a" stroke-width="1.1" />
<line x1="361.70" y1="480.60" x2="486.90" y2="480.60" stroke="#1a1a1a" stroke-width="1.1" />
<line x1="359.00" y1="480.60" x2="362.20" y2="480.60" stroke="#1a1a1a" stroke-width="1.0" />
<text x="356.40" y="483.30" font-size="7.6" fill="#2a2a2a" text-anchor="end" textLength="11.8" lengthAdjust="spacingAndGlyphs" stroke="#2a2a2a" stroke-width="0.2">0.0</text>
<line x1="359.00" y1="443.80" x2="362.20" y2="443.80" stroke="#1a1a1a" stroke-width="1.0" />
<text x="356.40" y="446.50" font-size="7.6" fill="#2a2a2a" text-anchor="end" textLength="11.8" lengthAdjust="spacingAndGlyphs" stroke="#2a2a2a" stroke-width="0.2">0.5</text>
<line x1="359.00" y1="407.00" x2="362.20" y2="407.00" stroke="#1a1a1a" stroke-width="1.0" />
<text x="356.40" y="409.70" font-size="7.6" fill="#2a2a2a" text-anchor="end" textLength="11.8" lengthAdjust="spacingAndGlyphs" stroke="#2a2a2a" stroke-width="0.2">1.0</text>
<line x1="387.00" y1="480.60" x2="387.00" y2="483.60" stroke="#1a1a1a" stroke-width="0.9" />
<line x1="424.60" y1="480.60" x2="424.60" y2="483.60" stroke="#1a1a1a" stroke-width="0.9" />
<line x1="462.20" y1="480.60" x2="462.20" y2="483.60" stroke="#1a1a1a" stroke-width="0.9" />
<text x="387.30" y="494.30" font-size="8.4" fill="#2a2a2a" text-anchor="middle" textLength="11.5" lengthAdjust="spacingAndGlyphs" stroke="#2a2a2a" stroke-width="0.2">WT</text>
<text x="405.8" y="494.3" font-size="8.4" fill="#2a2a2a" textLength="38" lengthAdjust="spacingAndGlyphs" stroke="#2a2a2a" stroke-width="0.2"><tspan font-style="italic">Tmprss6</tspan><tspan font-size="5" dy="-3.0">-/-</tspan></text>
<text x="462.20" y="494.30" font-size="8.4" fill="#2a2a2a" text-anchor="middle" textLength="11.5" lengthAdjust="spacingAndGlyphs" stroke="#2a2a2a" stroke-width="0.2">WT</text>
<path d="M374.2,496.2 L374.2,500.2 M374.2,498.2 L442.2,498.2 M442.2,496.2 L442.2,500.2 M449.6,496.2 L449.6,500.2 M449.6,498.2 L476.3,498.2 M476.3,496.2 L476.3,500.2" stroke="#333" stroke-width="1.0" fill="none"/>
<text x="407.90" y="508.00" font-size="8.4" fill="#2a2a2a" text-anchor="middle" textLength="38.7" lengthAdjust="spacingAndGlyphs" stroke="#2a2a2a" stroke-width="0.2">Untreated</text>
<text x="462.50" y="508.00" font-size="8.4" fill="#2a2a2a" text-anchor="middle" textLength="26" lengthAdjust="spacingAndGlyphs" stroke="#2a2a2a" stroke-width="0.2">+VEGF</text>
<text x="326.3" y="436.4" font-size="9.2" fill="#2a2a2a" text-anchor="middle" transform="rotate(-90 326.3 436.4)" textLength="87.5" lengthAdjust="spacingAndGlyphs" stroke="#2a2a2a" stroke-width="0.2">Normalized fluorescence</text>
<text x="338.8" y="436.4" font-size="9.2" fill="#2a2a2a" text-anchor="middle" transform="rotate(-90 338.8 436.4)" textLength="50.5" lengthAdjust="spacingAndGlyphs" stroke="#2a2a2a" stroke-width="0.2">intensity pERK</text>
<text x="7.30" y="532.60" font-size="12.1" font-weight="bold" fill="#000" stroke="#000" stroke-width="0.35">F</text>
<text x="97.7" y="548.6" font-size="10.2" fill="#222" text-anchor="middle" textLength="56" lengthAdjust="spacingAndGlyphs" stroke="#222" stroke-width="0.2">Human MEP</text>
<path d="M30.8,557.5 L30.8,654.5 L149.8,654.5" fill="none" stroke="#222" stroke-width="1.1"/>
<text x="31.70" y="666.20" font-size="9.0" fill="#2a2a2a" textLength="18.1" lengthAdjust="spacingAndGlyphs" stroke="#2a2a2a" stroke-width="0.2">pERK</text>
<text x="24.30" y="605.00" font-size="9.6" fill="#222" text-anchor="middle" transform="rotate(-90 24.30 605.00)" textLength="75" lengthAdjust="spacingAndGlyphs" stroke="#222" stroke-width="0.2">Normalized by mode</text>
<path d="M56.7,638.7 L56.7,554.6 L139.3,554.6 L139.3,638.7" fill="none" stroke="#1a1a1a" stroke-width="1.25"/>
<line x1="56.70" y1="638.20" x2="139.30" y2="638.20" stroke="#1a1a1a" stroke-width="1.1" />
<line x1="53.50" y1="638.20" x2="56.70" y2="638.20" stroke="#1a1a1a" stroke-width="0.9" />
<text x="50.30" y="640.85" font-size="7.7" fill="#2a2a2a" text-anchor="end"  stroke="#2a2a2a" stroke-width="0.2">0</text>
<line x1="53.50" y1="622.26" x2="56.70" y2="622.26" stroke="#1a1a1a" stroke-width="0.9" />
<text x="50.30" y="624.91" font-size="7.7" fill="#2a2a2a" text-anchor="end"  stroke="#2a2a2a" stroke-width="0.2">20</text>
<line x1="53.50" y1="606.32" x2="56.70" y2="606.32" stroke="#1a1a1a" stroke-width="0.9" />
<text x="50.30" y="608.97" font-size="7.7" fill="#2a2a2a" text-anchor="end"  stroke="#2a2a2a" stroke-width="0.2">40</text>
<line x1="53.50" y1="590.38" x2="56.70" y2="590.38" stroke="#1a1a1a" stroke-width="0.9" />
<text x="50.30" y="593.03" font-size="7.7" fill="#2a2a2a" text-anchor="end"  stroke="#2a2a2a" stroke-width="0.2">60</text>
<line x1="53.50" y1="574.44" x2="56.70" y2="574.44" stroke="#1a1a1a" stroke-width="0.9" />
<text x="50.30" y="577.09" font-size="7.7" fill="#2a2a2a" text-anchor="end"  stroke="#2a2a2a" stroke-width="0.2">80</text>
<line x1="53.50" y1="558.50" x2="56.70" y2="558.50" stroke="#1a1a1a" stroke-width="0.9" />
<text x="50.30" y="561.15" font-size="7.7" fill="#2a2a2a" text-anchor="end"  stroke="#2a2a2a" stroke-width="0.2">100</text>
<line x1="55.00" y1="634.22" x2="56.70" y2="634.22" stroke="#1a1a1a" stroke-width="0.7" />
<line x1="55.00" y1="630.23" x2="56.70" y2="630.23" stroke="#1a1a1a" stroke-width="0.7" />
<line x1="55.00" y1="626.25" x2="56.70" y2="626.25" stroke="#1a1a1a" stroke-width="0.7" />
<line x1="55.00" y1="618.28" x2="56.70" y2="618.28" stroke="#1a1a1a" stroke-width="0.7" />
<line x1="55.00" y1="614.29" x2="56.70" y2="614.29" stroke="#1a1a1a" stroke-width="0.7" />
<line x1="55.00" y1="610.31" x2="56.70" y2="610.31" stroke="#1a1a1a" stroke-width="0.7" />
<line x1="55.00" y1="602.34" x2="56.70" y2="602.34" stroke="#1a1a1a" stroke-width="0.7" />
<line x1="55.00" y1="598.35" x2="56.70" y2="598.35" stroke="#1a1a1a" stroke-width="0.7" />
<line x1="55.00" y1="594.37" x2="56.70" y2="594.37" stroke="#1a1a1a" stroke-width="0.7" />
<line x1="55.00" y1="586.39" x2="56.70" y2="586.39" stroke="#1a1a1a" stroke-width="0.7" />
<line x1="55.00" y1="582.41" x2="56.70" y2="582.41" stroke="#1a1a1a" stroke-width="0.7" />
<line x1="55.00" y1="578.42" x2="56.70" y2="578.42" stroke="#1a1a1a" stroke-width="0.7" />
<line x1="55.00" y1="570.46" x2="56.70" y2="570.46" stroke="#1a1a1a" stroke-width="0.7" />
<line x1="55.00" y1="566.47" x2="56.70" y2="566.47" stroke="#1a1a1a" stroke-width="0.7" />
<line x1="55.00" y1="562.49" x2="56.70" y2="562.49" stroke="#1a1a1a" stroke-width="0.7" />
<path d="M56.70,638.2 v2.2 M62.92,638.2 v1.4 M66.55,638.2 v1.4 M69.13,638.2 v1.4 M71.13,638.2 v1.4 M72.77,638.2 v1.4 M74.15,638.2 v1.4 M75.35,638.2 v1.4 M76.41,638.2 v1.4 M77.35,638.2 v2.2 M83.57,638.2 v1.4 M87.20,638.2 v1.4 M89.78,638.2 v1.4 M91.78,638.2 v1.4 M93.42,638.2 v1.4 M94.80,638.2 v1.4 M96.00,638.2 v1.4 M97.06,638.2 v1.4 M98.00,638.2 v2.2 M104.22,638.2 v1.4 M107.85,638.2 v1.4 M110.43,638.2 v1.4 M112.43,638.2 v1.4 M114.07,638.2 v1.4 M115.45,638.2 v1.4 M116.65,638.2 v1.4 M117.71,638.2 v1.4 M118.65,638.2 v2.2 M124.87,638.2 v1.4 M128.50,638.2 v1.4 M131.08,638.2 v1.4 M133.08,638.2 v1.4 M134.72,638.2 v1.4 M136.10,638.2 v1.4 M137.30,638.2 v1.4 M138.36,638.2 v1.4" stroke="#1a1a1a" stroke-width="0.75" fill="none"/>
<polyline points="57.00,629.60 57.30,637.90 85.00,637.60 89.80,635.80 93.50,633.90 96.50,630.30 98.90,624.20 100.80,617.00 102.60,606.10 104.20,596.40 105.40,587.90 106.60,579.40 107.40,581.80 108.30,591.50 109.20,602.40 110.50,612.10 111.90,623.00 113.50,631.50 115.90,635.80 118.90,637.40 137.50,637.60 138.30,633.90 139.30,627.90" fill="none" stroke="#c3173f" stroke-width="1.5" stroke-linejoin="round" stroke-linecap="butt" stroke-dasharray="3.2 2.2"/>
<polyline points="57.50,637.90 85.00,637.60 92.30,636.40 97.10,634.50 100.80,632.10 104.40,629.10 107.40,625.50 109.20,621.80 111.10,615.80 112.30,610.90 113.50,604.80 114.70,590.30 115.90,579.40 116.90,576.40 118.00,580.00 119.20,590.30 120.40,603.60 122.00,617.00 123.80,627.90 126.20,633.90 129.80,636.60 135.90,637.40 138.50,637.60" fill="none" stroke="#3d7a5c" stroke-width="1.1" stroke-linejoin="round" stroke-linecap="butt" />
<polyline points="57.10,555.50 57.40,637.90 85.00,637.60 92.30,636.60 95.90,635.80 98.30,632.70 100.80,630.30 103.20,627.30 104.40,625.50 105.60,626.70 107.40,623.00 109.20,620.60 111.10,618.80 112.30,620.00 113.50,621.80 115.30,621.20 116.80,617.00 118.00,606.10 119.20,600.00 120.40,596.40 121.40,581.80 122.60,569.70 123.80,566.70 125.00,569.70 126.20,584.20 127.40,606.10 128.90,620.60 130.80,630.30 133.50,635.80 136.50,637.20 138.30,636.40 138.80,570.90 139.20,569.70" fill="none" stroke="#5b2a84" stroke-width="1.1" stroke-linejoin="round" stroke-linecap="butt" />
<text x="62.00" y="561.70" font-size="7.2" fill="#c3173f" stroke="#c3173f" stroke-width="0.06" textLength="10.7" lengthAdjust="spacingAndGlyphs">IgG</text>
<text x="62.00" y="570.30" font-size="7.2" fill="#5b2a84" stroke="#5b2a84" stroke-width="0.06" textLength="30.3" lengthAdjust="spacingAndGlyphs">Untreated</text>
<text x="62.00" y="579.30" font-size="7.2" fill="#3d7a5c" stroke="#3d7a5c" stroke-width="0.06" textLength="24.7" lengthAdjust="spacingAndGlyphs">+hVEGF</text>
<text x="50.90" y="650.3" font-size="8.0" fill="#2a2a2a" textLength="12.0" lengthAdjust="spacingAndGlyphs" stroke="#2a2a2a" stroke-width="0.2">10<tspan font-size="6.0" dy="-3.2">0</tspan></text><text x="71.70" y="650.3" font-size="8.0" fill="#2a2a2a" textLength="12.0" lengthAdjust="spacingAndGlyphs" stroke="#2a2a2a" stroke-width="0.2">10<tspan font-size="6.0" dy="-3.2">1</tspan></text><text x="92.50" y="650.3" font-size="8.0" fill="#2a2a2a" textLength="12.0" lengthAdjust="spacingAndGlyphs" stroke="#2a2a2a" stroke-width="0.2">10<tspan font-size="6.0" dy="-3.2">2</tspan></text><text x="113.30" y="650.3" font-size="8.0" fill="#2a2a2a" textLength="12.0" lengthAdjust="spacingAndGlyphs" stroke="#2a2a2a" stroke-width="0.2">10<tspan font-size="6.0" dy="-3.2">3</tspan></text>
<text x="159.30" y="532.20" font-size="12.1" font-weight="bold" fill="#000" stroke="#000" stroke-width="0.35">G</text>
<rect x="226.30" y="583.40" width="24.00" height="54.40" fill="#521f5f" />
<rect x="262.90" y="609.51" width="24.00" height="28.29" fill="#33674e" />
<line x1="274.90" y1="609.51" x2="274.90" y2="604.00" stroke="#1a1a1a" stroke-width="1.0" />
<line x1="269.40" y1="604.00" x2="280.80" y2="604.00" stroke="#1a1a1a" stroke-width="1.0" />
<text x="274.60" y="602.60" font-size="8.2" fill="#222" text-anchor="middle"  stroke="#222" stroke-width="0.2">*</text>
<line x1="213.70" y1="553.20" x2="213.70" y2="637.80" stroke="#1a1a1a" stroke-width="1.1" />
<line x1="213.20" y1="637.80" x2="299.20" y2="637.80" stroke="#1a1a1a" stroke-width="1.1" />
<line x1="210.50" y1="637.80" x2="213.70" y2="637.80" stroke="#1a1a1a" stroke-width="1.0" />
<text x="207.90" y="640.50" font-size="7.6" fill="#2a2a2a" text-anchor="end" textLength="11.8" lengthAdjust="spacingAndGlyphs" stroke="#2a2a2a" stroke-width="0.2">0.0</text>
<line x1="210.50" y1="610.60" x2="213.70" y2="610.60" stroke="#1a1a1a" stroke-width="1.0" />
<text x="207.90" y="613.30" font-size="7.6" fill="#2a2a2a" text-anchor="end" textLength="11.8" lengthAdjust="spacingAndGlyphs" stroke="#2a2a2a" stroke-width="0.2">0.5</text>
<line x1="210.50" y1="583.40" x2="213.70" y2="583.40" stroke="#1a1a1a" stroke-width="1.0" />
<text x="207.90" y="586.10" font-size="7.6" fill="#2a2a2a" text-anchor="end" textLength="11.8" lengthAdjust="spacingAndGlyphs" stroke="#2a2a2a" stroke-width="0.2">1.0</text>
<line x1="210.50" y1="556.20" x2="213.70" y2="556.20" stroke="#1a1a1a" stroke-width="1.0" />
<text x="207.90" y="558.90" font-size="7.6" fill="#2a2a2a" text-anchor="end" textLength="11.8" lengthAdjust="spacingAndGlyphs" stroke="#2a2a2a" stroke-width="0.2">1.5</text>
<line x1="238.30" y1="637.80" x2="238.30" y2="640.80" stroke="#1a1a1a" stroke-width="0.9" />
<line x1="274.90" y1="637.80" x2="274.90" y2="640.80" stroke="#1a1a1a" stroke-width="0.9" />
<text x="238.60" y="651.20" font-size="8.4" fill="#2a2a2a" text-anchor="middle" textLength="38.7" lengthAdjust="spacingAndGlyphs" stroke="#2a2a2a" stroke-width="0.2">Untreated</text>
<text x="275.00" y="651.20" font-size="8.4" fill="#2a2a2a" text-anchor="middle" textLength="26" lengthAdjust="spacingAndGlyphs" stroke="#2a2a2a" stroke-width="0.2">+VEGF</text>
<text x="178.2" y="595.1" font-size="9.2" fill="#2a2a2a" text-anchor="middle" transform="rotate(-90 178.2 595.1)" textLength="87.5" lengthAdjust="spacingAndGlyphs" stroke="#2a2a2a" stroke-width="0.2">Normalized fluorescence</text>
<text x="190.7" y="595.1" font-size="9.2" fill="#2a2a2a" text-anchor="middle" transform="rotate(-90 190.7 595.1)" textLength="50.5" lengthAdjust="spacingAndGlyphs" stroke="#2a2a2a" stroke-width="0.2">intensity pERK</text>
<text x="308.30" y="532.60" font-size="12.1" font-weight="bold" fill="#000" stroke="#000" stroke-width="0.35">H</text>
<rect x="378.00" y="598.74" width="30.90" height="38.86" fill="#2c4a7d" />
<rect x="378.00" y="583.54" width="30.90" height="15.81" fill="#a50c2c" />
<rect x="378.00" y="565.79" width="30.90" height="18.34" fill="#6aab46" />
<rect x="424.90" y="607.77" width="31.20" height="29.83" fill="#2c4a7d" />
<rect x="424.90" y="592.36" width="31.20" height="16.00" fill="#a50c2c" />
<rect x="424.90" y="562.85" width="31.20" height="30.12" fill="#6aab46" />
<line x1="393.50" y1="565.79" x2="393.50" y2="563.80" stroke="#1a1a1a" stroke-width="1.0" />
<line x1="386.00" y1="563.80" x2="401.00" y2="563.80" stroke="#1a1a1a" stroke-width="1.0" />
<line x1="393.50" y1="584.14" x2="393.50" y2="580.40" stroke="#1a1a1a" stroke-width="1.0" />
<line x1="386.00" y1="580.40" x2="401.00" y2="580.40" stroke="#1a1a1a" stroke-width="1.0" />
<line x1="393.50" y1="598.80" x2="393.50" y2="593.50" stroke="#1a1a1a" stroke-width="1.0" />
<line x1="386.00" y1="593.50" x2="401.00" y2="593.50" stroke="#1a1a1a" stroke-width="1.0" />
<line x1="440.50" y1="562.85" x2="440.50" y2="555.50" stroke="#1a1a1a" stroke-width="1.0" />
<line x1="433.00" y1="555.50" x2="448.00" y2="555.50" stroke="#1a1a1a" stroke-width="1.0" />
<line x1="440.50" y1="592.96" x2="440.50" y2="589.60" stroke="#1a1a1a" stroke-width="1.0" />
<line x1="433.00" y1="589.60" x2="448.00" y2="589.60" stroke="#1a1a1a" stroke-width="1.0" />
<line x1="440.50" y1="608.37" x2="440.50" y2="605.30" stroke="#1a1a1a" stroke-width="1.0" />
<line x1="433.00" y1="605.30" x2="448.00" y2="605.30" stroke="#1a1a1a" stroke-width="1.0" />
<line x1="393.50" y1="593.50" x2="393.50" y2="599.30" stroke="#1a1a1a" stroke-width="1.0" />
<circle cx="440.4" cy="580" r="0.9" fill="#111"/><circle cx="440.4" cy="623" r="0.9" fill="#111"/>
<line x1="361.80" y1="537.70" x2="361.80" y2="637.60" stroke="#1a1a1a" stroke-width="1.1" />
<line x1="361.30" y1="637.60" x2="471.00" y2="637.60" stroke="#1a1a1a" stroke-width="1.1" />
<line x1="358.60" y1="637.60" x2="361.80" y2="637.60" stroke="#1a1a1a" stroke-width="1.0" />
<text x="356.00" y="640.30" font-size="7.6" fill="#2a2a2a" text-anchor="end" textLength="4.45" lengthAdjust="spacingAndGlyphs" stroke="#2a2a2a" stroke-width="0.2">0</text>
<line x1="358.60" y1="617.98" x2="361.80" y2="617.98" stroke="#1a1a1a" stroke-width="1.0" />
<text x="356.00" y="620.68" font-size="7.6" fill="#2a2a2a" text-anchor="end" textLength="8.9" lengthAdjust="spacingAndGlyphs" stroke="#2a2a2a" stroke-width="0.2">20</text>
<line x1="358.60" y1="598.36" x2="361.80" y2="598.36" stroke="#1a1a1a" stroke-width="1.0" />
<text x="356.00" y="601.06" font-size="7.6" fill="#2a2a2a" text-anchor="end" textLength="8.9" lengthAdjust="spacingAndGlyphs" stroke="#2a2a2a" stroke-width="0.2">40</text>
<line x1="358.60" y1="578.74" x2="361.80" y2="578.74" stroke="#1a1a1a" stroke-width="1.0" />
<text x="356.00" y="581.44" font-size="7.6" fill="#2a2a2a" text-anchor="end" textLength="8.9" lengthAdjust="spacingAndGlyphs" stroke="#2a2a2a" stroke-width="0.2">60</text>
<line x1="358.60" y1="559.12" x2="361.80" y2="559.12" stroke="#1a1a1a" stroke-width="1.0" />
<text x="356.00" y="561.82" font-size="7.6" fill="#2a2a2a" text-anchor="end" textLength="8.9" lengthAdjust="spacingAndGlyphs" stroke="#2a2a2a" stroke-width="0.2">80</text>
<line x1="358.60" y1="539.50" x2="361.80" y2="539.50" stroke="#1a1a1a" stroke-width="1.0" />
<text x="356.00" y="542.20" font-size="7.6" fill="#2a2a2a" text-anchor="end" textLength="13.350000000000001" lengthAdjust="spacingAndGlyphs" stroke="#2a2a2a" stroke-width="0.2">100</text>
<line x1="393.50" y1="637.60" x2="393.50" y2="640.60" stroke="#1a1a1a" stroke-width="0.9" />
<line x1="440.50" y1="637.60" x2="440.50" y2="640.60" stroke="#1a1a1a" stroke-width="0.9" />
<text x="393.10" y="651.10" font-size="8.4" fill="#2a2a2a" text-anchor="middle" textLength="25.4" lengthAdjust="spacingAndGlyphs" stroke="#2a2a2a" stroke-width="0.2">DMSO</text>
<text x="440.00" y="651.10" font-size="8.4" fill="#2a2a2a" text-anchor="middle" textLength="34.7" lengthAdjust="spacingAndGlyphs" stroke="#2a2a2a" stroke-width="0.2">PD98059</text>
<text x="335.6" y="587.3" font-size="8.4" fill="#2a2a2a" text-anchor="middle" transform="rotate(-90 335.6 587.3)" textLength="64.6" lengthAdjust="spacingAndGlyphs" stroke="#2a2a2a" stroke-width="0.2">Colonies/100 cells</text>
<rect x="468.50" y="538.80" width="10.70" height="5.50" fill="#6aab46" />
<text x="481.90" y="544.20" font-size="8.4" fill="#2a2a2a" textLength="31.2" lengthAdjust="spacingAndGlyphs" stroke="#2a2a2a" stroke-width="0.2">Mk-only</text>
<rect x="468.50" y="551.00" width="10.70" height="5.50" fill="#a50c2c" />
<text x="481.90" y="556.40" font-size="8.4" fill="#2a2a2a" textLength="24.3" lengthAdjust="spacingAndGlyphs" stroke="#2a2a2a" stroke-width="0.2">E-only</text>
<rect x="468.50" y="563.30" width="10.70" height="5.50" fill="#2c4a7d" />
<text x="481.90" y="568.70" font-size="8.4" fill="#2a2a2a" textLength="20.3" lengthAdjust="spacingAndGlyphs" stroke="#2a2a2a" stroke-width="0.2">Mk/E</text>
<rect x="0" y="0" width="520" height="1" fill="#000"/><rect x="0" y="0" width="1.1" height="676" fill="#000"/><rect x="518.7" y="0" width="1.3" height="676" fill="#000"/><rect x="0" y="674.7" width="520" height="1.3" fill="#000"/>
</svg></body></html>
